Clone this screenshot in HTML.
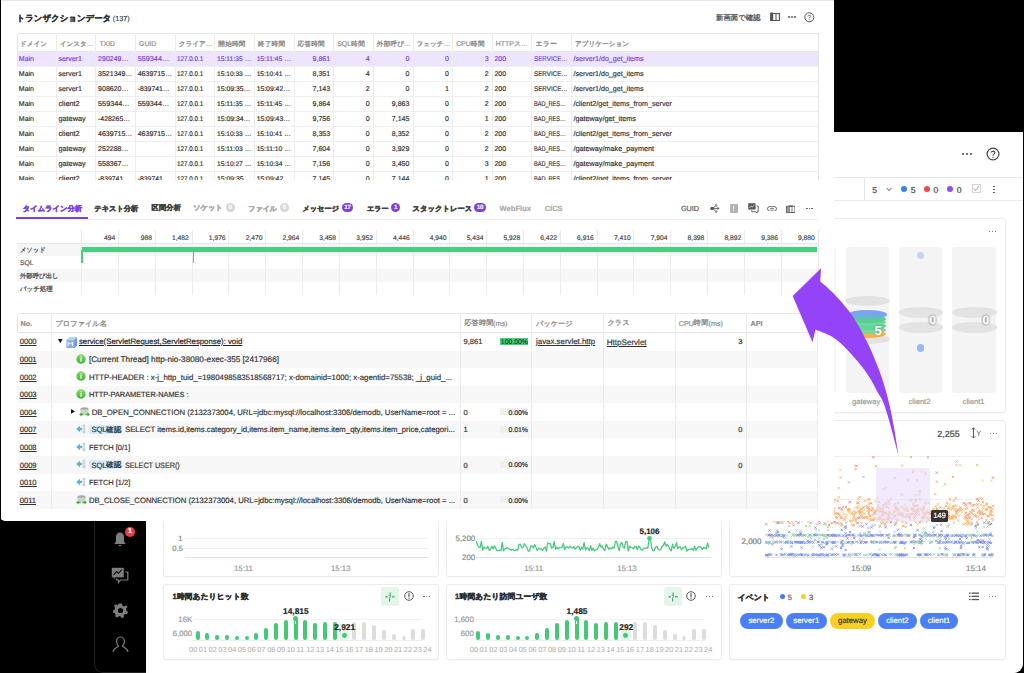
<!DOCTYPE html><html><head><meta charset="utf-8"><style>
*{box-sizing:border-box}
body{margin:0;width:1024px;height:673px;background:#000;position:relative;overflow:hidden;font-family:"Liberation Sans", sans-serif;color:#333;text-rendering:geometricPrecision}
.ab{position:absolute}
.t{position:absolute;white-space:nowrap;line-height:1;-webkit-text-stroke:0.18px currentColor}
.u{text-decoration:underline;text-decoration-thickness:0.7px;text-underline-offset:1px}
</style></head><body>

<div class="ab" style="left:94px;top:132px;width:53px;height:541px;background:#000;border-left:1px solid #232323;border-bottom:1px solid #232323;border-bottom-left-radius:9px"></div>
<div class="ab" style="left:146px;top:132px;width:877px;height:540.5px;background:#fff;border-bottom-right-radius:9px;overflow:hidden"></div>
<div class="ab" style="left:146.00px;top:176.80px;width:877.00px;height:1.00px;background:#e8e8e8;"></div>
<div class="ab" style="left:146.00px;top:200.00px;width:877.00px;height:1.00px;background:#eaeaea;"></div>
<div class="ab" style="left:864.20px;top:177.00px;width:1.00px;height:23.00px;background:#e6e6e6;"></div>
<div class="ab" style="left:962.30px;top:153.20px;width:2.00px;height:2.00px;background:#444;border-radius:1px"></div>
<div class="ab" style="left:965.90px;top:153.20px;width:2.00px;height:2.00px;background:#444;border-radius:1px"></div>
<div class="ab" style="left:969.50px;top:153.20px;width:2.00px;height:2.00px;background:#444;border-radius:1px"></div>
<svg class="ab" style="left:986.00px;top:147.00px;" width="14" height="14" viewBox="0 0 14 14"><circle cx="7" cy="7" r="5.9" fill="none" stroke="#444" stroke-width="1.2"/><path d="M5 5.6 C5 3.9 9 3.9 9 5.6 C9 6.9 7 7 7 8.6" fill="none" stroke="#444" stroke-width="1.1"/><circle cx="7" cy="10.2" r="0.7" fill="#444"/></svg>
<div class="t" style="left:872.30px;top:186.00px;font-size:8.6px;color:#444;">5</div>
<svg class="ab" style="left:885.50px;top:186.50px;" width="6" height="5" viewBox="0 0 6 5"><path d="M0.6 1 L3 3.6 L5.4 1" fill="none" stroke="#555" stroke-width="1"/></svg>
<div class="ab" style="left:901.2px;top:186.2px;width:6px;height:6px;border-radius:3px;background:#3e7cf6"></div>
<div class="t" style="left:910.80px;top:186.00px;font-size:8.6px;color:#444;">5</div>
<div class="ab" style="left:923.9px;top:186.2px;width:6px;height:6px;border-radius:3px;background:#f24a4a"></div>
<div class="t" style="left:933.60px;top:186.00px;font-size:8.6px;color:#444;">0</div>
<div class="ab" style="left:947px;top:186.2px;width:6px;height:6px;border-radius:3px;background:#8a4ff6"></div>
<div class="t" style="left:956.70px;top:186.00px;font-size:8.6px;color:#444;">0</div>
<svg class="ab" style="left:971.50px;top:184.00px;" width="9" height="9" viewBox="0 0 9 9"><path d="M0.5 0.5 H8.5 V8.5 H0.5 Z" fill="none" stroke="#aaa" stroke-width="0.8" stroke-dasharray="1.2 0.8"/><path d="M2 4.5 L3.5 6.5 L7 2" fill="none" stroke="#888" stroke-width="0.8"/></svg>
<div class="ab" style="left:993.20px;top:185.60px;width:1.70px;height:1.70px;background:#444;border-radius:1px"></div>
<div class="ab" style="left:993.20px;top:188.60px;width:1.70px;height:1.70px;background:#444;border-radius:1px"></div>
<div class="ab" style="left:993.20px;top:191.60px;width:1.70px;height:1.70px;background:#444;border-radius:1px"></div>
<div class="ab" style="left:729px;top:218.3px;width:276.5px;height:195px;border:1px solid #ebebeb;border-radius:3px;background:#fff;box-shadow:0 1px 1px rgba(0,0,0,0.03)"></div>
<div class="ab" style="left:729px;top:420px;width:276.5px;height:157.3px;border:1px solid #ebebeb;border-radius:3px;background:#fff;box-shadow:0 1px 1px rgba(0,0,0,0.03)"></div>
<div class="ab" style="left:729px;top:583.8px;width:276.5px;height:76.2px;border:1px solid #ebebeb;border-radius:3px;background:#fff;box-shadow:0 1px 1px rgba(0,0,0,0.03)"></div>
<div class="ab" style="left:163.2px;top:440px;width:276px;height:137.3px;border:1px solid #ebebeb;border-radius:3px;background:#fff;box-shadow:0 1px 1px rgba(0,0,0,0.03)"></div>
<div class="ab" style="left:445.8px;top:440px;width:276.5px;height:137.3px;border:1px solid #ebebeb;border-radius:3px;background:#fff;box-shadow:0 1px 1px rgba(0,0,0,0.03)"></div>
<div class="ab" style="left:163.2px;top:583.8px;width:276px;height:76.2px;border:1px solid #ebebeb;border-radius:3px;background:#fff;box-shadow:0 1px 1px rgba(0,0,0,0.03)"></div>
<div class="ab" style="left:445.8px;top:583.8px;width:276.5px;height:76.2px;border:1px solid #ebebeb;border-radius:3px;background:#fff;box-shadow:0 1px 1px rgba(0,0,0,0.03)"></div>
<div class="ab" style="left:989.20px;top:230.50px;width:1.30px;height:1.30px;background:#555;border-radius:1px"></div>
<div class="ab" style="left:992.00px;top:230.50px;width:1.30px;height:1.30px;background:#555;border-radius:1px"></div>
<div class="ab" style="left:994.80px;top:230.50px;width:1.30px;height:1.30px;background:#555;border-radius:1px"></div>
<div class="ab" style="left:739.20px;top:247.10px;width:43.20px;height:146.30px;background:#f4f4f4;border-radius:4px"></div>
<div class="ab" style="left:792.50px;top:247.10px;width:43.20px;height:146.30px;background:#f4f4f4;border-radius:4px"></div>
<div class="ab" style="left:845.80px;top:247.10px;width:43.20px;height:146.30px;background:#f4f4f4;border-radius:4px"></div>
<div class="ab" style="left:899.10px;top:247.10px;width:43.20px;height:146.30px;background:#f4f4f4;border-radius:4px"></div>
<div class="ab" style="left:952.40px;top:247.10px;width:43.20px;height:146.30px;background:#f4f4f4;border-radius:4px"></div>
<div class="ab" style="left:845.10px;top:295.60px;width:44.60px;height:10.00px;border-radius:50%;background:#e2e2e2;opacity:1"></div>
<div class="ab" style="left:845.10px;top:333.80px;width:44.60px;height:10.00px;border-radius:50%;background:#e2e2e2;opacity:1"></div>
<div class="ab" style="left:848.90px;top:329.80px;width:37.00px;height:8.40px;border-radius:50%;background:#f5b24c;opacity:1"></div>
<div class="ab" style="left:848.90px;top:326.00px;width:37.00px;height:8.00px;border-radius:50%;background:#7fd59a;opacity:1"></div>
<div class="ab" style="left:848.90px;top:322.00px;width:37.00px;height:8.00px;border-radius:50%;background:#62d494;opacity:1"></div>
<div class="ab" style="left:848.90px;top:318.00px;width:37.00px;height:8.00px;border-radius:50%;background:#6cd9a0;opacity:1"></div>
<div class="ab" style="left:848.90px;top:314.50px;width:37.00px;height:8.00px;border-radius:50%;background:#58d08c;opacity:1"></div>
<div class="ab" style="left:847.90px;top:310.00px;width:39.00px;height:8.60px;border-radius:50%;background:#7aa3f6;opacity:1"></div>
<div class="ab" style="left:852.40px;top:314.10px;width:30.00px;height:4.80px;border-radius:50%;background:#5fc2b6;opacity:0.6"></div>
<div class="t" style="left:874.60px;top:324.00px;font-size:13px;color:#fff;font-weight:bold;text-shadow:0 0 1.5px rgba(0,0,0,0.5);">5</div>
<div class="ab" style="left:898.70px;top:307.40px;width:44.60px;height:10.40px;border-radius:50%;background:#e3e3e3;opacity:1"></div>
<div class="ab" style="left:898.70px;top:322.40px;width:44.60px;height:10.40px;border-radius:50%;background:#e3e3e3;opacity:1"></div>
<div class="t" style="left:929.20px;top:314.00px;font-size:12px;color:#fff;font-weight:bold;-webkit-text-stroke:0.4px #fff;text-shadow:0 0 1.5px rgba(0,0,0,0.75),0 0 3px rgba(0,0,0,0.35);">0</div>
<div class="ab" style="left:952.00px;top:307.40px;width:44.60px;height:10.40px;border-radius:50%;background:#e3e3e3;opacity:1"></div>
<div class="ab" style="left:952.00px;top:322.40px;width:44.60px;height:10.40px;border-radius:50%;background:#e3e3e3;opacity:1"></div>
<div class="t" style="left:982.50px;top:314.00px;font-size:12px;color:#fff;font-weight:bold;-webkit-text-stroke:0.4px #fff;text-shadow:0 0 1.5px rgba(0,0,0,0.75),0 0 3px rgba(0,0,0,0.35);">0</div>
<div class="ab" style="left:917.30px;top:252.00px;width:6.80px;height:6.80px;border-radius:50%;background:#c4d4f8;opacity:1"></div>
<div class="ab" style="left:917.10px;top:344.40px;width:7.20px;height:7.20px;border-radius:50%;background:#9bb7f5;opacity:1"></div>
<div class="t" style="left:852.00px;top:398.00px;font-size:7.6px;color:#999;">gateway</div>
<div class="t" style="left:908.50px;top:398.00px;font-size:7.6px;color:#999;">client2</div>
<div class="t" style="left:962.60px;top:398.00px;font-size:7.6px;color:#999;">client1</div>
<div class="t" style="left:937.30px;top:430.00px;font-size:9px;color:#444;">2,255</div>
<svg class="ab" style="left:970.50px;top:427.00px;" width="11" height="12" viewBox="0 0 11 12"><path d="M2.5 0.8 V11 M0.8 2.5 L2.5 0.8 L4.2 2.5 M0.8 9.3 L2.5 11 L4.2 9.3" fill="none" stroke="#555" stroke-width="1"/><text x="5.2" y="9" font-size="7.5" fill="#555" font-family="Liberation Sans">Y</text></svg>
<div class="ab" style="left:990.20px;top:432.60px;width:1.30px;height:1.30px;background:#555;border-radius:1px"></div>
<div class="ab" style="left:993.00px;top:432.60px;width:1.30px;height:1.30px;background:#555;border-radius:1px"></div>
<div class="ab" style="left:995.80px;top:432.60px;width:1.30px;height:1.30px;background:#555;border-radius:1px"></div>
<div class="ab" style="left:766.00px;top:456.20px;width:227.00px;height:0.80px;background:#f0f0f0;"></div>
<div class="ab" style="left:766.00px;top:498.90px;width:227.00px;height:0.80px;background:#f0f0f0;"></div>
<div class="ab" style="left:766.00px;top:557.20px;width:227.00px;height:1.00px;background:#e4e4e4;"></div>
<svg class="ab" style="left:0;top:0" width="1024" height="673" viewBox="0 0 1024 673"><g stroke-width="0.85" opacity="0.8" fill="none"><path stroke="#f26b5b" d="M867.5 498.1l2.3 2.3m0 -2.3l-2.3 2.3M830.5 521.9l2.3 2.3m0 -2.3l-2.3 2.3M768.3 514.6l2.3 2.3m0 -2.3l-2.3 2.3M767.3 515.2l2.3 2.3m0 -2.3l-2.3 2.3M945.8 515.5l2.3 2.3m0 -2.3l-2.3 2.3M939.5 506.3l2.3 2.3m0 -2.3l-2.3 2.3M809.5 521.8l2.3 2.3m0 -2.3l-2.3 2.3M793.5 510.0l2.3 2.3m0 -2.3l-2.3 2.3M847.1 508.5l2.3 2.3m0 -2.3l-2.3 2.3M962.6 501.9l2.3 2.3m0 -2.3l-2.3 2.3M964.7 516.8l2.3 2.3m0 -2.3l-2.3 2.3M790.5 510.2l2.3 2.3m0 -2.3l-2.3 2.3M836.4 521.6l2.3 2.3m0 -2.3l-2.3 2.3M912.2 503.3l2.3 2.3m0 -2.3l-2.3 2.3M767.3 507.4l2.3 2.3m0 -2.3l-2.3 2.3M858.0 516.9l2.3 2.3m0 -2.3l-2.3 2.3M974.7 515.3l2.3 2.3m0 -2.3l-2.3 2.3M879.4 517.6l2.3 2.3m0 -2.3l-2.3 2.3M939.2 513.2l2.3 2.3m0 -2.3l-2.3 2.3M973.6 514.4l2.3 2.3m0 -2.3l-2.3 2.3M885.9 506.2l2.3 2.3m0 -2.3l-2.3 2.3M969.3 502.1l2.3 2.3m0 -2.3l-2.3 2.3M979.5 510.7l2.3 2.3m0 -2.3l-2.3 2.3M896.3 507.8l2.3 2.3m0 -2.3l-2.3 2.3M882.0 510.9l2.3 2.3m0 -2.3l-2.3 2.3M976.1 497.7l2.3 2.3m0 -2.3l-2.3 2.3M826.0 515.6l2.3 2.3m0 -2.3l-2.3 2.3M876.8 504.4l2.3 2.3m0 -2.3l-2.3 2.3M906.4 509.8l2.3 2.3m0 -2.3l-2.3 2.3M966.6 513.7l2.3 2.3m0 -2.3l-2.3 2.3M786.9 513.9l2.3 2.3m0 -2.3l-2.3 2.3M908.8 516.1l2.3 2.3m0 -2.3l-2.3 2.3M933.8 513.9l2.3 2.3m0 -2.3l-2.3 2.3M885.9 518.3l2.3 2.3m0 -2.3l-2.3 2.3M862.4 506.2l2.3 2.3m0 -2.3l-2.3 2.3M793.1 502.8l2.3 2.3m0 -2.3l-2.3 2.3M795.1 519.8l2.3 2.3m0 -2.3l-2.3 2.3M782.7 519.1l2.3 2.3m0 -2.3l-2.3 2.3M949.9 516.0l2.3 2.3m0 -2.3l-2.3 2.3M838.0 507.0l2.3 2.3m0 -2.3l-2.3 2.3M894.1 523.5l2.3 2.3m0 -2.3l-2.3 2.3M912.7 509.5l2.3 2.3m0 -2.3l-2.3 2.3M917.5 513.4l2.3 2.3m0 -2.3l-2.3 2.3M972.5 509.5l2.3 2.3m0 -2.3l-2.3 2.3M880.3 522.1l2.3 2.3m0 -2.3l-2.3 2.3M946.8 513.9l2.3 2.3m0 -2.3l-2.3 2.3M967.4 521.8l2.3 2.3m0 -2.3l-2.3 2.3M844.7 505.9l2.3 2.3m0 -2.3l-2.3 2.3M859.5 514.3l2.3 2.3m0 -2.3l-2.3 2.3M836.6 512.4l2.3 2.3m0 -2.3l-2.3 2.3M920.8 517.0l2.3 2.3m0 -2.3l-2.3 2.3M789.7 509.9l2.3 2.3m0 -2.3l-2.3 2.3M951.2 507.5l2.3 2.3m0 -2.3l-2.3 2.3M914.5 512.4l2.3 2.3m0 -2.3l-2.3 2.3M856.4 501.7l2.3 2.3m0 -2.3l-2.3 2.3M936.9 511.9l2.3 2.3m0 -2.3l-2.3 2.3M820.3 514.6l2.3 2.3m0 -2.3l-2.3 2.3M985.6 507.8l2.3 2.3m0 -2.3l-2.3 2.3M779.1 521.3l2.3 2.3m0 -2.3l-2.3 2.3M834.7 512.3l2.3 2.3m0 -2.3l-2.3 2.3M964.4 503.6l2.3 2.3m0 -2.3l-2.3 2.3M766.4 504.9l2.3 2.3m0 -2.3l-2.3 2.3M899.7 512.3l2.3 2.3m0 -2.3l-2.3 2.3M818.3 508.7l2.3 2.3m0 -2.3l-2.3 2.3M818.4 522.2l2.3 2.3m0 -2.3l-2.3 2.3M768.9 504.9l2.3 2.3m0 -2.3l-2.3 2.3M932.5 514.0l2.3 2.3m0 -2.3l-2.3 2.3M797.0 507.6l2.3 2.3m0 -2.3l-2.3 2.3M869.9 502.1l2.3 2.3m0 -2.3l-2.3 2.3M947.4 515.2l2.3 2.3m0 -2.3l-2.3 2.3M872.1 519.0l2.3 2.3m0 -2.3l-2.3 2.3M887.5 500.2l2.3 2.3m0 -2.3l-2.3 2.3M955.3 511.1l2.3 2.3m0 -2.3l-2.3 2.3M818.1 510.0l2.3 2.3m0 -2.3l-2.3 2.3M792.0 509.8l2.3 2.3m0 -2.3l-2.3 2.3M778.5 507.5l2.3 2.3m0 -2.3l-2.3 2.3M819.3 516.8l2.3 2.3m0 -2.3l-2.3 2.3M947.4 515.1l2.3 2.3m0 -2.3l-2.3 2.3M972.5 504.0l2.3 2.3m0 -2.3l-2.3 2.3M777.2 504.1l2.3 2.3m0 -2.3l-2.3 2.3M859.2 509.8l2.3 2.3m0 -2.3l-2.3 2.3M851.5 523.9l2.3 2.3m0 -2.3l-2.3 2.3M877.2 517.7l2.3 2.3m0 -2.3l-2.3 2.3M818.1 520.0l2.3 2.3m0 -2.3l-2.3 2.3M940.1 523.6l2.3 2.3m0 -2.3l-2.3 2.3M774.0 507.0l2.3 2.3m0 -2.3l-2.3 2.3M856.7 522.0l2.3 2.3m0 -2.3l-2.3 2.3M905.1 513.6l2.3 2.3m0 -2.3l-2.3 2.3M826.2 507.1l2.3 2.3m0 -2.3l-2.3 2.3M806.3 502.2l2.3 2.3m0 -2.3l-2.3 2.3M796.6 516.7l2.3 2.3m0 -2.3l-2.3 2.3M827.8 523.9l2.3 2.3m0 -2.3l-2.3 2.3M977.4 499.5l2.3 2.3m0 -2.3l-2.3 2.3M770.2 507.7l2.3 2.3m0 -2.3l-2.3 2.3M862.5 516.3l2.3 2.3m0 -2.3l-2.3 2.3M777.4 507.4l2.3 2.3m0 -2.3l-2.3 2.3M921.4 509.0l2.3 2.3m0 -2.3l-2.3 2.3M887.7 517.3l2.3 2.3m0 -2.3l-2.3 2.3M819.0 517.3l2.3 2.3m0 -2.3l-2.3 2.3M981.7 512.9l2.3 2.3m0 -2.3l-2.3 2.3M806.1 517.1l2.3 2.3m0 -2.3l-2.3 2.3M771.9 508.8l2.3 2.3m0 -2.3l-2.3 2.3M792.9 518.3l2.3 2.3m0 -2.3l-2.3 2.3M918.5 521.1l2.3 2.3m0 -2.3l-2.3 2.3M816.1 507.6l2.3 2.3m0 -2.3l-2.3 2.3M901.3 512.5l2.3 2.3m0 -2.3l-2.3 2.3M794.9 515.8l2.3 2.3m0 -2.3l-2.3 2.3M914.1 504.8l2.3 2.3m0 -2.3l-2.3 2.3M902.3 524.7l2.3 2.3m0 -2.3l-2.3 2.3M976.4 503.3l2.3 2.3m0 -2.3l-2.3 2.3M831.6 512.7l2.3 2.3m0 -2.3l-2.3 2.3M884.0 511.8l2.3 2.3m0 -2.3l-2.3 2.3M831.6 507.0l2.3 2.3m0 -2.3l-2.3 2.3M910.8 513.0l2.3 2.3m0 -2.3l-2.3 2.3M824.1 459.8l2.3 2.3m0 -2.3l-2.3 2.3M826.2 489.9l2.3 2.3m0 -2.3l-2.3 2.3M991.8 476.4l2.3 2.3m0 -2.3l-2.3 2.3M935.5 471.5l2.3 2.3m0 -2.3l-2.3 2.3M918.6 490.1l2.3 2.3m0 -2.3l-2.3 2.3M872.1 456.2l2.3 2.3m0 -2.3l-2.3 2.3"/><path stroke="#f7b24f" d="M867.4 506.4l2.3 2.3m0 -2.3l-2.3 2.3M808.0 514.3l2.3 2.3m0 -2.3l-2.3 2.3M908.9 518.1l2.3 2.3m0 -2.3l-2.3 2.3M987.8 521.1l2.3 2.3m0 -2.3l-2.3 2.3M912.4 509.8l2.3 2.3m0 -2.3l-2.3 2.3M964.5 511.4l2.3 2.3m0 -2.3l-2.3 2.3M828.0 511.9l2.3 2.3m0 -2.3l-2.3 2.3M936.9 503.2l2.3 2.3m0 -2.3l-2.3 2.3M765.0 523.5l2.3 2.3m0 -2.3l-2.3 2.3M989.4 513.0l2.3 2.3m0 -2.3l-2.3 2.3M820.0 513.9l2.3 2.3m0 -2.3l-2.3 2.3M848.5 509.4l2.3 2.3m0 -2.3l-2.3 2.3M874.7 509.5l2.3 2.3m0 -2.3l-2.3 2.3M971.1 517.8l2.3 2.3m0 -2.3l-2.3 2.3M821.5 515.8l2.3 2.3m0 -2.3l-2.3 2.3M789.6 507.7l2.3 2.3m0 -2.3l-2.3 2.3M860.4 522.0l2.3 2.3m0 -2.3l-2.3 2.3M987.4 506.3l2.3 2.3m0 -2.3l-2.3 2.3M979.8 503.5l2.3 2.3m0 -2.3l-2.3 2.3M894.9 517.6l2.3 2.3m0 -2.3l-2.3 2.3M922.4 504.9l2.3 2.3m0 -2.3l-2.3 2.3M783.9 513.8l2.3 2.3m0 -2.3l-2.3 2.3M887.4 512.9l2.3 2.3m0 -2.3l-2.3 2.3M798.6 498.5l2.3 2.3m0 -2.3l-2.3 2.3M953.5 508.2l2.3 2.3m0 -2.3l-2.3 2.3M956.4 510.4l2.3 2.3m0 -2.3l-2.3 2.3M823.1 504.2l2.3 2.3m0 -2.3l-2.3 2.3M820.3 504.2l2.3 2.3m0 -2.3l-2.3 2.3M792.7 511.9l2.3 2.3m0 -2.3l-2.3 2.3M960.9 511.1l2.3 2.3m0 -2.3l-2.3 2.3M909.8 499.4l2.3 2.3m0 -2.3l-2.3 2.3M791.0 509.2l2.3 2.3m0 -2.3l-2.3 2.3M773.3 504.4l2.3 2.3m0 -2.3l-2.3 2.3M978.1 518.2l2.3 2.3m0 -2.3l-2.3 2.3M937.8 511.9l2.3 2.3m0 -2.3l-2.3 2.3M865.6 504.8l2.3 2.3m0 -2.3l-2.3 2.3M970.4 504.5l2.3 2.3m0 -2.3l-2.3 2.3M909.7 512.8l2.3 2.3m0 -2.3l-2.3 2.3M959.1 509.4l2.3 2.3m0 -2.3l-2.3 2.3M903.6 515.6l2.3 2.3m0 -2.3l-2.3 2.3M847.8 509.7l2.3 2.3m0 -2.3l-2.3 2.3M897.0 502.0l2.3 2.3m0 -2.3l-2.3 2.3M788.1 513.4l2.3 2.3m0 -2.3l-2.3 2.3M948.5 503.3l2.3 2.3m0 -2.3l-2.3 2.3M952.4 515.7l2.3 2.3m0 -2.3l-2.3 2.3M971.6 509.3l2.3 2.3m0 -2.3l-2.3 2.3M952.9 521.5l2.3 2.3m0 -2.3l-2.3 2.3M954.7 516.6l2.3 2.3m0 -2.3l-2.3 2.3M875.9 507.9l2.3 2.3m0 -2.3l-2.3 2.3M875.6 512.7l2.3 2.3m0 -2.3l-2.3 2.3M966.6 520.8l2.3 2.3m0 -2.3l-2.3 2.3M853.2 514.6l2.3 2.3m0 -2.3l-2.3 2.3M814.2 512.8l2.3 2.3m0 -2.3l-2.3 2.3M907.1 515.8l2.3 2.3m0 -2.3l-2.3 2.3M797.7 507.1l2.3 2.3m0 -2.3l-2.3 2.3M794.6 511.4l2.3 2.3m0 -2.3l-2.3 2.3M812.2 510.4l2.3 2.3m0 -2.3l-2.3 2.3M811.8 512.1l2.3 2.3m0 -2.3l-2.3 2.3M866.3 509.6l2.3 2.3m0 -2.3l-2.3 2.3M954.8 515.7l2.3 2.3m0 -2.3l-2.3 2.3M914.7 494.3l2.3 2.3m0 -2.3l-2.3 2.3M952.2 517.5l2.3 2.3m0 -2.3l-2.3 2.3M988.8 511.1l2.3 2.3m0 -2.3l-2.3 2.3M991.5 507.8l2.3 2.3m0 -2.3l-2.3 2.3M867.5 511.2l2.3 2.3m0 -2.3l-2.3 2.3M888.2 507.1l2.3 2.3m0 -2.3l-2.3 2.3M800.8 510.4l2.3 2.3m0 -2.3l-2.3 2.3M852.6 512.7l2.3 2.3m0 -2.3l-2.3 2.3M901.1 505.3l2.3 2.3m0 -2.3l-2.3 2.3M972.1 513.1l2.3 2.3m0 -2.3l-2.3 2.3M857.7 504.2l2.3 2.3m0 -2.3l-2.3 2.3M839.8 515.2l2.3 2.3m0 -2.3l-2.3 2.3M832.1 508.6l2.3 2.3m0 -2.3l-2.3 2.3M848.6 511.8l2.3 2.3m0 -2.3l-2.3 2.3M965.1 518.5l2.3 2.3m0 -2.3l-2.3 2.3M831.9 510.1l2.3 2.3m0 -2.3l-2.3 2.3M965.6 523.5l2.3 2.3m0 -2.3l-2.3 2.3M916.4 509.3l2.3 2.3m0 -2.3l-2.3 2.3M828.2 511.5l2.3 2.3m0 -2.3l-2.3 2.3M906.0 508.3l2.3 2.3m0 -2.3l-2.3 2.3M882.1 518.6l2.3 2.3m0 -2.3l-2.3 2.3M772.9 504.8l2.3 2.3m0 -2.3l-2.3 2.3M838.6 514.1l2.3 2.3m0 -2.3l-2.3 2.3M781.3 518.9l2.3 2.3m0 -2.3l-2.3 2.3M922.8 516.3l2.3 2.3m0 -2.3l-2.3 2.3M784.9 501.0l2.3 2.3m0 -2.3l-2.3 2.3M914.4 515.7l2.3 2.3m0 -2.3l-2.3 2.3M985.2 519.1l2.3 2.3m0 -2.3l-2.3 2.3M819.5 509.3l2.3 2.3m0 -2.3l-2.3 2.3M919.2 508.2l2.3 2.3m0 -2.3l-2.3 2.3M990.7 511.2l2.3 2.3m0 -2.3l-2.3 2.3M813.7 509.5l2.3 2.3m0 -2.3l-2.3 2.3M905.8 506.1l2.3 2.3m0 -2.3l-2.3 2.3M783.7 516.1l2.3 2.3m0 -2.3l-2.3 2.3M772.1 509.2l2.3 2.3m0 -2.3l-2.3 2.3M922.4 518.2l2.3 2.3m0 -2.3l-2.3 2.3M978.8 513.1l2.3 2.3m0 -2.3l-2.3 2.3M888.1 502.8l2.3 2.3m0 -2.3l-2.3 2.3M765.6 511.9l2.3 2.3m0 -2.3l-2.3 2.3M876.9 507.0l2.3 2.3m0 -2.3l-2.3 2.3M965.9 507.2l2.3 2.3m0 -2.3l-2.3 2.3M893.7 502.9l2.3 2.3m0 -2.3l-2.3 2.3M954.1 508.4l2.3 2.3m0 -2.3l-2.3 2.3M783.2 514.3l2.3 2.3m0 -2.3l-2.3 2.3M874.8 500.3l2.3 2.3m0 -2.3l-2.3 2.3M775.5 521.6l2.3 2.3m0 -2.3l-2.3 2.3M966.1 517.6l2.3 2.3m0 -2.3l-2.3 2.3M944.7 511.2l2.3 2.3m0 -2.3l-2.3 2.3M821.7 513.2l2.3 2.3m0 -2.3l-2.3 2.3M929.3 509.7l2.3 2.3m0 -2.3l-2.3 2.3M933.2 514.4l2.3 2.3m0 -2.3l-2.3 2.3M769.6 513.0l2.3 2.3m0 -2.3l-2.3 2.3M863.9 499.7l2.3 2.3m0 -2.3l-2.3 2.3M817.1 514.4l2.3 2.3m0 -2.3l-2.3 2.3M866.3 515.7l2.3 2.3m0 -2.3l-2.3 2.3M775.3 517.3l2.3 2.3m0 -2.3l-2.3 2.3M932.4 507.8l2.3 2.3m0 -2.3l-2.3 2.3M946.4 518.7l2.3 2.3m0 -2.3l-2.3 2.3M985.1 502.2l2.3 2.3m0 -2.3l-2.3 2.3M868.5 518.2l2.3 2.3m0 -2.3l-2.3 2.3M818.2 516.2l2.3 2.3m0 -2.3l-2.3 2.3M910.1 507.9l2.3 2.3m0 -2.3l-2.3 2.3M951.1 517.0l2.3 2.3m0 -2.3l-2.3 2.3M771.7 515.1l2.3 2.3m0 -2.3l-2.3 2.3M858.6 511.0l2.3 2.3m0 -2.3l-2.3 2.3M991.6 519.2l2.3 2.3m0 -2.3l-2.3 2.3M948.6 508.2l2.3 2.3m0 -2.3l-2.3 2.3M833.1 507.4l2.3 2.3m0 -2.3l-2.3 2.3M955.5 464.1l2.3 2.3m0 -2.3l-2.3 2.3M959.1 464.2l2.3 2.3m0 -2.3l-2.3 2.3"/><path stroke="#f9a43c" d="M944.9 504.9l2.3 2.3m0 -2.3l-2.3 2.3M852.6 524.0l2.3 2.3m0 -2.3l-2.3 2.3M813.3 508.6l2.3 2.3m0 -2.3l-2.3 2.3M871.5 518.3l2.3 2.3m0 -2.3l-2.3 2.3M936.9 515.5l2.3 2.3m0 -2.3l-2.3 2.3M833.9 498.6l2.3 2.3m0 -2.3l-2.3 2.3M895.8 519.7l2.3 2.3m0 -2.3l-2.3 2.3M965.1 506.4l2.3 2.3m0 -2.3l-2.3 2.3M876.3 497.0l2.3 2.3m0 -2.3l-2.3 2.3M828.9 494.7l2.3 2.3m0 -2.3l-2.3 2.3M772.8 520.1l2.3 2.3m0 -2.3l-2.3 2.3M991.7 514.2l2.3 2.3m0 -2.3l-2.3 2.3M872.3 508.8l2.3 2.3m0 -2.3l-2.3 2.3M915.2 511.1l2.3 2.3m0 -2.3l-2.3 2.3M982.2 507.4l2.3 2.3m0 -2.3l-2.3 2.3M877.5 509.7l2.3 2.3m0 -2.3l-2.3 2.3M837.6 496.2l2.3 2.3m0 -2.3l-2.3 2.3M868.1 508.2l2.3 2.3m0 -2.3l-2.3 2.3M939.5 510.7l2.3 2.3m0 -2.3l-2.3 2.3M988.2 523.1l2.3 2.3m0 -2.3l-2.3 2.3M970.6 511.8l2.3 2.3m0 -2.3l-2.3 2.3M858.2 510.6l2.3 2.3m0 -2.3l-2.3 2.3M879.1 510.6l2.3 2.3m0 -2.3l-2.3 2.3M888.3 515.2l2.3 2.3m0 -2.3l-2.3 2.3M921.7 511.6l2.3 2.3m0 -2.3l-2.3 2.3M884.0 523.7l2.3 2.3m0 -2.3l-2.3 2.3M924.2 501.9l2.3 2.3m0 -2.3l-2.3 2.3M920.4 507.7l2.3 2.3m0 -2.3l-2.3 2.3M947.1 516.6l2.3 2.3m0 -2.3l-2.3 2.3M975.3 523.8l2.3 2.3m0 -2.3l-2.3 2.3M896.5 518.4l2.3 2.3m0 -2.3l-2.3 2.3M901.3 514.6l2.3 2.3m0 -2.3l-2.3 2.3M848.9 519.7l2.3 2.3m0 -2.3l-2.3 2.3M881.2 507.7l2.3 2.3m0 -2.3l-2.3 2.3M828.3 511.4l2.3 2.3m0 -2.3l-2.3 2.3M806.8 513.5l2.3 2.3m0 -2.3l-2.3 2.3M881.7 507.3l2.3 2.3m0 -2.3l-2.3 2.3M776.3 514.0l2.3 2.3m0 -2.3l-2.3 2.3M893.8 509.5l2.3 2.3m0 -2.3l-2.3 2.3M916.6 509.4l2.3 2.3m0 -2.3l-2.3 2.3M934.7 505.4l2.3 2.3m0 -2.3l-2.3 2.3M821.8 511.9l2.3 2.3m0 -2.3l-2.3 2.3M901.9 524.8l2.3 2.3m0 -2.3l-2.3 2.3M776.3 509.0l2.3 2.3m0 -2.3l-2.3 2.3M981.1 511.4l2.3 2.3m0 -2.3l-2.3 2.3M773.8 508.3l2.3 2.3m0 -2.3l-2.3 2.3M767.0 511.8l2.3 2.3m0 -2.3l-2.3 2.3M814.5 508.7l2.3 2.3m0 -2.3l-2.3 2.3M881.9 503.8l2.3 2.3m0 -2.3l-2.3 2.3M779.4 500.9l2.3 2.3m0 -2.3l-2.3 2.3M913.2 510.2l2.3 2.3m0 -2.3l-2.3 2.3M936.7 517.9l2.3 2.3m0 -2.3l-2.3 2.3M947.8 511.3l2.3 2.3m0 -2.3l-2.3 2.3M847.0 509.4l2.3 2.3m0 -2.3l-2.3 2.3M911.9 512.5l2.3 2.3m0 -2.3l-2.3 2.3M935.8 507.8l2.3 2.3m0 -2.3l-2.3 2.3M897.4 513.3l2.3 2.3m0 -2.3l-2.3 2.3M914.7 521.2l2.3 2.3m0 -2.3l-2.3 2.3M986.4 515.0l2.3 2.3m0 -2.3l-2.3 2.3M951.5 515.8l2.3 2.3m0 -2.3l-2.3 2.3M922.3 506.6l2.3 2.3m0 -2.3l-2.3 2.3M780.1 518.7l2.3 2.3m0 -2.3l-2.3 2.3M934.3 515.9l2.3 2.3m0 -2.3l-2.3 2.3M907.9 513.7l2.3 2.3m0 -2.3l-2.3 2.3M924.6 513.2l2.3 2.3m0 -2.3l-2.3 2.3M863.3 512.8l2.3 2.3m0 -2.3l-2.3 2.3M912.6 516.0l2.3 2.3m0 -2.3l-2.3 2.3M870.0 519.0l2.3 2.3m0 -2.3l-2.3 2.3M900.5 506.4l2.3 2.3m0 -2.3l-2.3 2.3M947.3 506.9l2.3 2.3m0 -2.3l-2.3 2.3M863.0 516.6l2.3 2.3m0 -2.3l-2.3 2.3M965.2 503.1l2.3 2.3m0 -2.3l-2.3 2.3M860.5 507.5l2.3 2.3m0 -2.3l-2.3 2.3M969.9 521.2l2.3 2.3m0 -2.3l-2.3 2.3M969.0 523.5l2.3 2.3m0 -2.3l-2.3 2.3M818.5 497.2l2.3 2.3m0 -2.3l-2.3 2.3M781.6 512.5l2.3 2.3m0 -2.3l-2.3 2.3M947.2 507.7l2.3 2.3m0 -2.3l-2.3 2.3M771.4 512.8l2.3 2.3m0 -2.3l-2.3 2.3M971.3 508.6l2.3 2.3m0 -2.3l-2.3 2.3M929.0 512.0l2.3 2.3m0 -2.3l-2.3 2.3M818.9 515.3l2.3 2.3m0 -2.3l-2.3 2.3M933.9 493.1l2.3 2.3m0 -2.3l-2.3 2.3M977.2 515.3l2.3 2.3m0 -2.3l-2.3 2.3M791.8 516.0l2.3 2.3m0 -2.3l-2.3 2.3M850.8 519.6l2.3 2.3m0 -2.3l-2.3 2.3M796.7 517.6l2.3 2.3m0 -2.3l-2.3 2.3M781.3 521.7l2.3 2.3m0 -2.3l-2.3 2.3M984.8 508.8l2.3 2.3m0 -2.3l-2.3 2.3M925.2 521.1l2.3 2.3m0 -2.3l-2.3 2.3M989.4 506.6l2.3 2.3m0 -2.3l-2.3 2.3M989.3 507.0l2.3 2.3m0 -2.3l-2.3 2.3M930.8 511.6l2.3 2.3m0 -2.3l-2.3 2.3M803.7 504.9l2.3 2.3m0 -2.3l-2.3 2.3M976.8 511.8l2.3 2.3m0 -2.3l-2.3 2.3M799.3 519.4l2.3 2.3m0 -2.3l-2.3 2.3M776.5 519.7l2.3 2.3m0 -2.3l-2.3 2.3M766.5 512.5l2.3 2.3m0 -2.3l-2.3 2.3M791.8 499.6l2.3 2.3m0 -2.3l-2.3 2.3M826.4 520.0l2.3 2.3m0 -2.3l-2.3 2.3M881.6 513.1l2.3 2.3m0 -2.3l-2.3 2.3M952.7 505.3l2.3 2.3m0 -2.3l-2.3 2.3M828.2 516.6l2.3 2.3m0 -2.3l-2.3 2.3M806.2 514.1l2.3 2.3m0 -2.3l-2.3 2.3M944.2 513.9l2.3 2.3m0 -2.3l-2.3 2.3M963.9 516.2l2.3 2.3m0 -2.3l-2.3 2.3M985.7 503.0l2.3 2.3m0 -2.3l-2.3 2.3M945.7 515.4l2.3 2.3m0 -2.3l-2.3 2.3M903.3 509.2l2.3 2.3m0 -2.3l-2.3 2.3M791.5 521.4l2.3 2.3m0 -2.3l-2.3 2.3M828.0 508.8l2.3 2.3m0 -2.3l-2.3 2.3M916.8 504.1l2.3 2.3m0 -2.3l-2.3 2.3M912.4 505.0l2.3 2.3m0 -2.3l-2.3 2.3M881.9 521.4l2.3 2.3m0 -2.3l-2.3 2.3M793.1 508.7l2.3 2.3m0 -2.3l-2.3 2.3M958.0 514.5l2.3 2.3m0 -2.3l-2.3 2.3M905.1 521.8l2.3 2.3m0 -2.3l-2.3 2.3M858.7 509.5l2.3 2.3m0 -2.3l-2.3 2.3M893.8 476.9l2.3 2.3m0 -2.3l-2.3 2.3M901.0 464.5l2.3 2.3m0 -2.3l-2.3 2.3M912.1 469.5l2.3 2.3m0 -2.3l-2.3 2.3M776.1 491.6l2.3 2.3m0 -2.3l-2.3 2.3M855.6 464.6l2.3 2.3m0 -2.3l-2.3 2.3M857.1 497.4l2.3 2.3m0 -2.3l-2.3 2.3M777.6 462.9l2.3 2.3m0 -2.3l-2.3 2.3M882.0 488.0l2.3 2.3m0 -2.3l-2.3 2.3M911.8 471.3l2.3 2.3m0 -2.3l-2.3 2.3M829.7 484.8l2.3 2.3m0 -2.3l-2.3 2.3M943.8 483.1l2.3 2.3m0 -2.3l-2.3 2.3M935.7 480.4l2.3 2.3m0 -2.3l-2.3 2.3M919.1 498.1l2.3 2.3m0 -2.3l-2.3 2.3M837.5 487.2l2.3 2.3m0 -2.3l-2.3 2.3M916.1 479.0l2.3 2.3m0 -2.3l-2.3 2.3"/><path stroke="#f99a3a" d="M866.2 516.9l2.3 2.3m0 -2.3l-2.3 2.3M882.7 513.4l2.3 2.3m0 -2.3l-2.3 2.3M831.6 514.6l2.3 2.3m0 -2.3l-2.3 2.3M880.4 519.3l2.3 2.3m0 -2.3l-2.3 2.3M812.7 501.8l2.3 2.3m0 -2.3l-2.3 2.3M852.5 515.8l2.3 2.3m0 -2.3l-2.3 2.3M769.7 513.5l2.3 2.3m0 -2.3l-2.3 2.3M867.7 510.5l2.3 2.3m0 -2.3l-2.3 2.3M944.9 517.1l2.3 2.3m0 -2.3l-2.3 2.3M783.1 512.6l2.3 2.3m0 -2.3l-2.3 2.3M853.0 518.6l2.3 2.3m0 -2.3l-2.3 2.3M827.3 513.4l2.3 2.3m0 -2.3l-2.3 2.3M882.9 518.4l2.3 2.3m0 -2.3l-2.3 2.3M982.4 504.9l2.3 2.3m0 -2.3l-2.3 2.3M809.8 514.1l2.3 2.3m0 -2.3l-2.3 2.3M878.4 515.7l2.3 2.3m0 -2.3l-2.3 2.3M867.8 507.8l2.3 2.3m0 -2.3l-2.3 2.3M966.3 520.1l2.3 2.3m0 -2.3l-2.3 2.3M870.1 509.3l2.3 2.3m0 -2.3l-2.3 2.3M961.5 508.3l2.3 2.3m0 -2.3l-2.3 2.3M886.7 513.3l2.3 2.3m0 -2.3l-2.3 2.3M770.1 502.0l2.3 2.3m0 -2.3l-2.3 2.3M888.2 510.6l2.3 2.3m0 -2.3l-2.3 2.3M867.9 513.0l2.3 2.3m0 -2.3l-2.3 2.3M838.3 522.6l2.3 2.3m0 -2.3l-2.3 2.3M857.0 501.4l2.3 2.3m0 -2.3l-2.3 2.3M979.3 510.7l2.3 2.3m0 -2.3l-2.3 2.3M975.8 521.1l2.3 2.3m0 -2.3l-2.3 2.3M897.8 512.9l2.3 2.3m0 -2.3l-2.3 2.3M977.6 509.9l2.3 2.3m0 -2.3l-2.3 2.3M901.3 515.2l2.3 2.3m0 -2.3l-2.3 2.3M903.3 507.5l2.3 2.3m0 -2.3l-2.3 2.3M878.8 509.4l2.3 2.3m0 -2.3l-2.3 2.3M889.8 497.5l2.3 2.3m0 -2.3l-2.3 2.3M842.9 512.5l2.3 2.3m0 -2.3l-2.3 2.3M955.1 512.7l2.3 2.3m0 -2.3l-2.3 2.3M830.9 495.8l2.3 2.3m0 -2.3l-2.3 2.3M783.4 508.4l2.3 2.3m0 -2.3l-2.3 2.3M868.9 514.9l2.3 2.3m0 -2.3l-2.3 2.3M932.2 514.1l2.3 2.3m0 -2.3l-2.3 2.3M945.7 501.8l2.3 2.3m0 -2.3l-2.3 2.3M782.1 509.3l2.3 2.3m0 -2.3l-2.3 2.3M913.3 518.2l2.3 2.3m0 -2.3l-2.3 2.3M892.9 510.9l2.3 2.3m0 -2.3l-2.3 2.3M799.4 501.2l2.3 2.3m0 -2.3l-2.3 2.3M810.2 510.9l2.3 2.3m0 -2.3l-2.3 2.3M786.3 513.9l2.3 2.3m0 -2.3l-2.3 2.3M906.3 515.7l2.3 2.3m0 -2.3l-2.3 2.3M979.3 497.2l2.3 2.3m0 -2.3l-2.3 2.3M895.7 508.4l2.3 2.3m0 -2.3l-2.3 2.3M779.3 515.3l2.3 2.3m0 -2.3l-2.3 2.3M868.0 502.5l2.3 2.3m0 -2.3l-2.3 2.3M796.2 518.3l2.3 2.3m0 -2.3l-2.3 2.3M957.2 519.3l2.3 2.3m0 -2.3l-2.3 2.3M955.1 504.4l2.3 2.3m0 -2.3l-2.3 2.3M964.6 522.4l2.3 2.3m0 -2.3l-2.3 2.3M860.5 513.4l2.3 2.3m0 -2.3l-2.3 2.3M796.9 504.5l2.3 2.3m0 -2.3l-2.3 2.3M810.9 500.8l2.3 2.3m0 -2.3l-2.3 2.3M803.9 512.1l2.3 2.3m0 -2.3l-2.3 2.3M962.2 523.1l2.3 2.3m0 -2.3l-2.3 2.3M792.2 510.0l2.3 2.3m0 -2.3l-2.3 2.3M818.3 507.1l2.3 2.3m0 -2.3l-2.3 2.3M827.7 509.9l2.3 2.3m0 -2.3l-2.3 2.3M779.4 508.6l2.3 2.3m0 -2.3l-2.3 2.3M952.6 499.5l2.3 2.3m0 -2.3l-2.3 2.3M889.2 511.5l2.3 2.3m0 -2.3l-2.3 2.3M896.4 507.2l2.3 2.3m0 -2.3l-2.3 2.3M803.8 511.7l2.3 2.3m0 -2.3l-2.3 2.3M923.4 514.4l2.3 2.3m0 -2.3l-2.3 2.3M856.3 507.0l2.3 2.3m0 -2.3l-2.3 2.3M806.2 511.3l2.3 2.3m0 -2.3l-2.3 2.3M925.2 511.2l2.3 2.3m0 -2.3l-2.3 2.3M934.4 510.9l2.3 2.3m0 -2.3l-2.3 2.3M832.5 512.0l2.3 2.3m0 -2.3l-2.3 2.3M844.5 516.1l2.3 2.3m0 -2.3l-2.3 2.3M897.1 509.4l2.3 2.3m0 -2.3l-2.3 2.3M771.9 515.8l2.3 2.3m0 -2.3l-2.3 2.3M951.8 505.2l2.3 2.3m0 -2.3l-2.3 2.3M836.0 517.0l2.3 2.3m0 -2.3l-2.3 2.3M848.1 508.1l2.3 2.3m0 -2.3l-2.3 2.3M946.7 516.3l2.3 2.3m0 -2.3l-2.3 2.3M831.1 516.3l2.3 2.3m0 -2.3l-2.3 2.3M860.0 507.4l2.3 2.3m0 -2.3l-2.3 2.3M815.6 500.1l2.3 2.3m0 -2.3l-2.3 2.3M854.7 519.5l2.3 2.3m0 -2.3l-2.3 2.3M894.5 507.0l2.3 2.3m0 -2.3l-2.3 2.3M914.0 514.2l2.3 2.3m0 -2.3l-2.3 2.3M884.0 522.4l2.3 2.3m0 -2.3l-2.3 2.3M850.7 512.5l2.3 2.3m0 -2.3l-2.3 2.3M959.2 507.9l2.3 2.3m0 -2.3l-2.3 2.3M861.1 510.8l2.3 2.3m0 -2.3l-2.3 2.3M955.6 510.0l2.3 2.3m0 -2.3l-2.3 2.3M875.9 508.9l2.3 2.3m0 -2.3l-2.3 2.3M781.2 505.2l2.3 2.3m0 -2.3l-2.3 2.3M811.8 502.7l2.3 2.3m0 -2.3l-2.3 2.3M923.7 512.3l2.3 2.3m0 -2.3l-2.3 2.3M921.9 515.2l2.3 2.3m0 -2.3l-2.3 2.3M798.1 503.8l2.3 2.3m0 -2.3l-2.3 2.3M873.7 517.4l2.3 2.3m0 -2.3l-2.3 2.3M991.8 504.7l2.3 2.3m0 -2.3l-2.3 2.3M802.7 518.4l2.3 2.3m0 -2.3l-2.3 2.3M922.8 515.0l2.3 2.3m0 -2.3l-2.3 2.3M949.0 498.1l2.3 2.3m0 -2.3l-2.3 2.3M816.8 512.8l2.3 2.3m0 -2.3l-2.3 2.3M839.5 476.4l2.3 2.3m0 -2.3l-2.3 2.3M854.4 468.0l2.3 2.3m0 -2.3l-2.3 2.3M874.7 465.0l2.3 2.3m0 -2.3l-2.3 2.3M909.8 455.8l2.3 2.3m0 -2.3l-2.3 2.3M804.0 458.5l2.3 2.3m0 -2.3l-2.3 2.3M924.4 472.3l2.3 2.3m0 -2.3l-2.3 2.3M976.1 463.7l2.3 2.3m0 -2.3l-2.3 2.3"/><path stroke="#fbc46a" d="M768.3 509.6l2.3 2.3m0 -2.3l-2.3 2.3M771.7 505.0l2.3 2.3m0 -2.3l-2.3 2.3M893.4 511.0l2.3 2.3m0 -2.3l-2.3 2.3M860.4 515.0l2.3 2.3m0 -2.3l-2.3 2.3M813.1 504.7l2.3 2.3m0 -2.3l-2.3 2.3M934.9 517.9l2.3 2.3m0 -2.3l-2.3 2.3M778.6 514.7l2.3 2.3m0 -2.3l-2.3 2.3M781.8 517.0l2.3 2.3m0 -2.3l-2.3 2.3M932.2 513.3l2.3 2.3m0 -2.3l-2.3 2.3M771.6 505.9l2.3 2.3m0 -2.3l-2.3 2.3M833.2 509.9l2.3 2.3m0 -2.3l-2.3 2.3M809.9 501.2l2.3 2.3m0 -2.3l-2.3 2.3M814.7 515.8l2.3 2.3m0 -2.3l-2.3 2.3M926.3 516.8l2.3 2.3m0 -2.3l-2.3 2.3M946.4 524.7l2.3 2.3m0 -2.3l-2.3 2.3M812.1 497.6l2.3 2.3m0 -2.3l-2.3 2.3M984.7 503.5l2.3 2.3m0 -2.3l-2.3 2.3M808.3 500.9l2.3 2.3m0 -2.3l-2.3 2.3M858.7 508.1l2.3 2.3m0 -2.3l-2.3 2.3M898.0 509.5l2.3 2.3m0 -2.3l-2.3 2.3M817.7 511.2l2.3 2.3m0 -2.3l-2.3 2.3M967.0 515.7l2.3 2.3m0 -2.3l-2.3 2.3M966.3 522.5l2.3 2.3m0 -2.3l-2.3 2.3M908.9 498.8l2.3 2.3m0 -2.3l-2.3 2.3M874.1 509.4l2.3 2.3m0 -2.3l-2.3 2.3M853.6 506.4l2.3 2.3m0 -2.3l-2.3 2.3M964.6 508.1l2.3 2.3m0 -2.3l-2.3 2.3M832.7 513.3l2.3 2.3m0 -2.3l-2.3 2.3M852.6 517.8l2.3 2.3m0 -2.3l-2.3 2.3M927.5 511.5l2.3 2.3m0 -2.3l-2.3 2.3M896.9 510.9l2.3 2.3m0 -2.3l-2.3 2.3M971.3 522.0l2.3 2.3m0 -2.3l-2.3 2.3M845.8 513.5l2.3 2.3m0 -2.3l-2.3 2.3M949.9 517.3l2.3 2.3m0 -2.3l-2.3 2.3M893.1 504.1l2.3 2.3m0 -2.3l-2.3 2.3M807.9 506.8l2.3 2.3m0 -2.3l-2.3 2.3M828.0 512.4l2.3 2.3m0 -2.3l-2.3 2.3M823.4 504.9l2.3 2.3m0 -2.3l-2.3 2.3M832.7 512.3l2.3 2.3m0 -2.3l-2.3 2.3M839.3 521.7l2.3 2.3m0 -2.3l-2.3 2.3M852.8 513.3l2.3 2.3m0 -2.3l-2.3 2.3M932.6 507.5l2.3 2.3m0 -2.3l-2.3 2.3M949.1 515.7l2.3 2.3m0 -2.3l-2.3 2.3M934.1 509.0l2.3 2.3m0 -2.3l-2.3 2.3M947.0 505.9l2.3 2.3m0 -2.3l-2.3 2.3M820.6 515.1l2.3 2.3m0 -2.3l-2.3 2.3M989.8 509.1l2.3 2.3m0 -2.3l-2.3 2.3M874.4 512.2l2.3 2.3m0 -2.3l-2.3 2.3M914.1 501.1l2.3 2.3m0 -2.3l-2.3 2.3M886.2 502.8l2.3 2.3m0 -2.3l-2.3 2.3M894.7 513.8l2.3 2.3m0 -2.3l-2.3 2.3M769.2 505.2l2.3 2.3m0 -2.3l-2.3 2.3M936.2 509.2l2.3 2.3m0 -2.3l-2.3 2.3M842.4 518.5l2.3 2.3m0 -2.3l-2.3 2.3M911.8 498.5l2.3 2.3m0 -2.3l-2.3 2.3M855.8 506.1l2.3 2.3m0 -2.3l-2.3 2.3M903.8 503.4l2.3 2.3m0 -2.3l-2.3 2.3M819.5 500.9l2.3 2.3m0 -2.3l-2.3 2.3M857.0 510.1l2.3 2.3m0 -2.3l-2.3 2.3M777.0 514.1l2.3 2.3m0 -2.3l-2.3 2.3M914.0 511.1l2.3 2.3m0 -2.3l-2.3 2.3M770.3 511.9l2.3 2.3m0 -2.3l-2.3 2.3M797.4 513.7l2.3 2.3m0 -2.3l-2.3 2.3M882.0 511.7l2.3 2.3m0 -2.3l-2.3 2.3M802.2 516.1l2.3 2.3m0 -2.3l-2.3 2.3M852.2 518.8l2.3 2.3m0 -2.3l-2.3 2.3M980.8 497.9l2.3 2.3m0 -2.3l-2.3 2.3M985.2 518.6l2.3 2.3m0 -2.3l-2.3 2.3M988.7 513.8l2.3 2.3m0 -2.3l-2.3 2.3M834.9 512.3l2.3 2.3m0 -2.3l-2.3 2.3M974.6 503.5l2.3 2.3m0 -2.3l-2.3 2.3M990.3 506.3l2.3 2.3m0 -2.3l-2.3 2.3M796.0 515.5l2.3 2.3m0 -2.3l-2.3 2.3M854.3 512.0l2.3 2.3m0 -2.3l-2.3 2.3M881.5 513.7l2.3 2.3m0 -2.3l-2.3 2.3M850.4 522.3l2.3 2.3m0 -2.3l-2.3 2.3M954.3 504.9l2.3 2.3m0 -2.3l-2.3 2.3M816.2 510.3l2.3 2.3m0 -2.3l-2.3 2.3M924.5 515.7l2.3 2.3m0 -2.3l-2.3 2.3M800.9 505.8l2.3 2.3m0 -2.3l-2.3 2.3M949.9 506.6l2.3 2.3m0 -2.3l-2.3 2.3M986.6 514.4l2.3 2.3m0 -2.3l-2.3 2.3M823.5 515.3l2.3 2.3m0 -2.3l-2.3 2.3M812.1 508.8l2.3 2.3m0 -2.3l-2.3 2.3M952.0 514.2l2.3 2.3m0 -2.3l-2.3 2.3M848.3 510.2l2.3 2.3m0 -2.3l-2.3 2.3M956.1 508.1l2.3 2.3m0 -2.3l-2.3 2.3M806.8 520.4l2.3 2.3m0 -2.3l-2.3 2.3M918.1 493.6l2.3 2.3m0 -2.3l-2.3 2.3M888.8 513.0l2.3 2.3m0 -2.3l-2.3 2.3M827.1 509.7l2.3 2.3m0 -2.3l-2.3 2.3M825.0 514.3l2.3 2.3m0 -2.3l-2.3 2.3M824.9 508.6l2.3 2.3m0 -2.3l-2.3 2.3M834.0 522.3l2.3 2.3m0 -2.3l-2.3 2.3M980.6 511.7l2.3 2.3m0 -2.3l-2.3 2.3M942.0 510.8l2.3 2.3m0 -2.3l-2.3 2.3M856.1 521.6l2.3 2.3m0 -2.3l-2.3 2.3M935.7 514.4l2.3 2.3m0 -2.3l-2.3 2.3M867.9 499.2l2.3 2.3m0 -2.3l-2.3 2.3M979.6 509.4l2.3 2.3m0 -2.3l-2.3 2.3M805.9 508.1l2.3 2.3m0 -2.3l-2.3 2.3M927.8 519.5l2.3 2.3m0 -2.3l-2.3 2.3M831.4 508.6l2.3 2.3m0 -2.3l-2.3 2.3M916.5 523.4l2.3 2.3m0 -2.3l-2.3 2.3M863.2 508.6l2.3 2.3m0 -2.3l-2.3 2.3M848.8 510.9l2.3 2.3m0 -2.3l-2.3 2.3M872.4 517.0l2.3 2.3m0 -2.3l-2.3 2.3M870.7 507.0l2.3 2.3m0 -2.3l-2.3 2.3M898.5 513.3l2.3 2.3m0 -2.3l-2.3 2.3M926.6 508.9l2.3 2.3m0 -2.3l-2.3 2.3M832.8 510.2l2.3 2.3m0 -2.3l-2.3 2.3M990.3 479.5l2.3 2.3m0 -2.3l-2.3 2.3M920.9 470.6l2.3 2.3m0 -2.3l-2.3 2.3M839.3 468.8l2.3 2.3m0 -2.3l-2.3 2.3M981.4 479.5l2.3 2.3m0 -2.3l-2.3 2.3M786.9 469.1l2.3 2.3m0 -2.3l-2.3 2.3"/><path stroke="#f48a6a" d="M990.9 517.3l2.3 2.3m0 -2.3l-2.3 2.3M789.3 516.6l2.3 2.3m0 -2.3l-2.3 2.3M941.6 511.5l2.3 2.3m0 -2.3l-2.3 2.3M839.5 516.7l2.3 2.3m0 -2.3l-2.3 2.3M795.7 505.0l2.3 2.3m0 -2.3l-2.3 2.3M983.4 512.6l2.3 2.3m0 -2.3l-2.3 2.3M891.8 517.2l2.3 2.3m0 -2.3l-2.3 2.3M791.1 511.5l2.3 2.3m0 -2.3l-2.3 2.3M877.7 500.8l2.3 2.3m0 -2.3l-2.3 2.3M968.3 502.2l2.3 2.3m0 -2.3l-2.3 2.3M936.0 507.9l2.3 2.3m0 -2.3l-2.3 2.3M914.7 499.0l2.3 2.3m0 -2.3l-2.3 2.3M856.7 516.7l2.3 2.3m0 -2.3l-2.3 2.3M828.0 504.2l2.3 2.3m0 -2.3l-2.3 2.3M894.4 505.7l2.3 2.3m0 -2.3l-2.3 2.3M866.2 505.4l2.3 2.3m0 -2.3l-2.3 2.3M886.3 516.4l2.3 2.3m0 -2.3l-2.3 2.3M964.5 512.2l2.3 2.3m0 -2.3l-2.3 2.3M987.4 515.2l2.3 2.3m0 -2.3l-2.3 2.3M959.1 506.3l2.3 2.3m0 -2.3l-2.3 2.3M884.4 501.7l2.3 2.3m0 -2.3l-2.3 2.3M772.9 512.4l2.3 2.3m0 -2.3l-2.3 2.3M838.0 512.7l2.3 2.3m0 -2.3l-2.3 2.3M836.6 500.0l2.3 2.3m0 -2.3l-2.3 2.3M786.7 506.3l2.3 2.3m0 -2.3l-2.3 2.3M806.7 515.4l2.3 2.3m0 -2.3l-2.3 2.3M938.4 519.2l2.3 2.3m0 -2.3l-2.3 2.3M901.0 493.3l2.3 2.3m0 -2.3l-2.3 2.3M795.1 500.1l2.3 2.3m0 -2.3l-2.3 2.3M767.3 506.6l2.3 2.3m0 -2.3l-2.3 2.3M989.7 513.5l2.3 2.3m0 -2.3l-2.3 2.3M770.0 503.9l2.3 2.3m0 -2.3l-2.3 2.3M823.5 517.8l2.3 2.3m0 -2.3l-2.3 2.3M855.3 517.5l2.3 2.3m0 -2.3l-2.3 2.3M800.4 512.0l2.3 2.3m0 -2.3l-2.3 2.3M879.0 507.1l2.3 2.3m0 -2.3l-2.3 2.3M942.9 507.5l2.3 2.3m0 -2.3l-2.3 2.3M987.6 505.8l2.3 2.3m0 -2.3l-2.3 2.3M848.6 500.7l2.3 2.3m0 -2.3l-2.3 2.3M786.9 520.5l2.3 2.3m0 -2.3l-2.3 2.3M885.2 504.3l2.3 2.3m0 -2.3l-2.3 2.3M968.0 512.8l2.3 2.3m0 -2.3l-2.3 2.3M805.1 517.9l2.3 2.3m0 -2.3l-2.3 2.3M840.8 508.5l2.3 2.3m0 -2.3l-2.3 2.3M841.6 506.0l2.3 2.3m0 -2.3l-2.3 2.3M831.1 514.1l2.3 2.3m0 -2.3l-2.3 2.3M930.7 511.4l2.3 2.3m0 -2.3l-2.3 2.3M809.7 510.9l2.3 2.3m0 -2.3l-2.3 2.3M806.8 511.1l2.3 2.3m0 -2.3l-2.3 2.3M873.7 511.0l2.3 2.3m0 -2.3l-2.3 2.3M860.5 516.6l2.3 2.3m0 -2.3l-2.3 2.3M981.7 500.9l2.3 2.3m0 -2.3l-2.3 2.3M858.6 496.1l2.3 2.3m0 -2.3l-2.3 2.3M872.7 512.3l2.3 2.3m0 -2.3l-2.3 2.3M832.5 500.8l2.3 2.3m0 -2.3l-2.3 2.3M929.2 516.7l2.3 2.3m0 -2.3l-2.3 2.3M885.1 511.6l2.3 2.3m0 -2.3l-2.3 2.3M891.3 513.5l2.3 2.3m0 -2.3l-2.3 2.3M926.8 511.7l2.3 2.3m0 -2.3l-2.3 2.3M889.3 519.9l2.3 2.3m0 -2.3l-2.3 2.3M840.6 522.9l2.3 2.3m0 -2.3l-2.3 2.3M990.1 509.8l2.3 2.3m0 -2.3l-2.3 2.3M901.4 520.6l2.3 2.3m0 -2.3l-2.3 2.3M920.4 520.3l2.3 2.3m0 -2.3l-2.3 2.3M893.8 514.8l2.3 2.3m0 -2.3l-2.3 2.3M969.2 510.9l2.3 2.3m0 -2.3l-2.3 2.3M922.6 507.1l2.3 2.3m0 -2.3l-2.3 2.3M980.7 516.7l2.3 2.3m0 -2.3l-2.3 2.3M897.8 513.4l2.3 2.3m0 -2.3l-2.3 2.3M968.4 516.0l2.3 2.3m0 -2.3l-2.3 2.3M912.4 507.7l2.3 2.3m0 -2.3l-2.3 2.3M859.1 511.6l2.3 2.3m0 -2.3l-2.3 2.3M888.4 517.2l2.3 2.3m0 -2.3l-2.3 2.3M943.4 518.0l2.3 2.3m0 -2.3l-2.3 2.3M817.0 494.5l2.3 2.3m0 -2.3l-2.3 2.3M976.5 506.5l2.3 2.3m0 -2.3l-2.3 2.3M811.1 513.5l2.3 2.3m0 -2.3l-2.3 2.3M781.4 509.6l2.3 2.3m0 -2.3l-2.3 2.3M927.2 518.3l2.3 2.3m0 -2.3l-2.3 2.3M788.3 521.7l2.3 2.3m0 -2.3l-2.3 2.3M929.1 513.0l2.3 2.3m0 -2.3l-2.3 2.3M916.8 508.0l2.3 2.3m0 -2.3l-2.3 2.3M852.6 510.3l2.3 2.3m0 -2.3l-2.3 2.3M780.0 516.9l2.3 2.3m0 -2.3l-2.3 2.3M916.2 505.2l2.3 2.3m0 -2.3l-2.3 2.3M792.2 523.9l2.3 2.3m0 -2.3l-2.3 2.3M957.1 508.6l2.3 2.3m0 -2.3l-2.3 2.3M843.6 518.4l2.3 2.3m0 -2.3l-2.3 2.3M910.7 507.4l2.3 2.3m0 -2.3l-2.3 2.3M773.5 516.9l2.3 2.3m0 -2.3l-2.3 2.3M840.5 507.5l2.3 2.3m0 -2.3l-2.3 2.3M848.7 500.9l2.3 2.3m0 -2.3l-2.3 2.3M821.4 505.2l2.3 2.3m0 -2.3l-2.3 2.3M777.0 507.2l2.3 2.3m0 -2.3l-2.3 2.3M855.1 511.2l2.3 2.3m0 -2.3l-2.3 2.3M927.4 501.9l2.3 2.3m0 -2.3l-2.3 2.3M932.9 516.7l2.3 2.3m0 -2.3l-2.3 2.3M825.7 512.6l2.3 2.3m0 -2.3l-2.3 2.3M800.6 512.0l2.3 2.3m0 -2.3l-2.3 2.3M835.0 515.7l2.3 2.3m0 -2.3l-2.3 2.3M952.6 514.8l2.3 2.3m0 -2.3l-2.3 2.3M867.0 506.1l2.3 2.3m0 -2.3l-2.3 2.3M805.1 514.7l2.3 2.3m0 -2.3l-2.3 2.3M767.0 505.2l2.3 2.3m0 -2.3l-2.3 2.3M789.4 514.0l2.3 2.3m0 -2.3l-2.3 2.3M949.3 517.7l2.3 2.3m0 -2.3l-2.3 2.3M964.9 514.6l2.3 2.3m0 -2.3l-2.3 2.3M871.2 513.8l2.3 2.3m0 -2.3l-2.3 2.3M881.0 514.4l2.3 2.3m0 -2.3l-2.3 2.3M779.6 518.9l2.3 2.3m0 -2.3l-2.3 2.3M882.4 504.4l2.3 2.3m0 -2.3l-2.3 2.3M840.6 516.9l2.3 2.3m0 -2.3l-2.3 2.3M916.6 510.8l2.3 2.3m0 -2.3l-2.3 2.3M803.8 510.2l2.3 2.3m0 -2.3l-2.3 2.3M791.2 510.9l2.3 2.3m0 -2.3l-2.3 2.3M825.2 505.5l2.3 2.3m0 -2.3l-2.3 2.3M864.9 516.2l2.3 2.3m0 -2.3l-2.3 2.3M768.3 502.7l2.3 2.3m0 -2.3l-2.3 2.3M968.4 517.1l2.3 2.3m0 -2.3l-2.3 2.3M871.4 507.2l2.3 2.3m0 -2.3l-2.3 2.3M768.4 507.2l2.3 2.3m0 -2.3l-2.3 2.3M979.3 513.0l2.3 2.3m0 -2.3l-2.3 2.3M886.0 520.6l2.3 2.3m0 -2.3l-2.3 2.3M880.6 510.4l2.3 2.3m0 -2.3l-2.3 2.3M862.3 475.8l2.3 2.3m0 -2.3l-2.3 2.3M801.9 471.7l2.3 2.3m0 -2.3l-2.3 2.3M926.7 456.3l2.3 2.3m0 -2.3l-2.3 2.3M884.4 487.1l2.3 2.3m0 -2.3l-2.3 2.3M847.8 481.2l2.3 2.3m0 -2.3l-2.3 2.3M854.9 464.8l2.3 2.3m0 -2.3l-2.3 2.3M906.7 479.1l2.3 2.3m0 -2.3l-2.3 2.3M951.9 475.9l2.3 2.3m0 -2.3l-2.3 2.3M954.5 496.9l2.3 2.3m0 -2.3l-2.3 2.3M955.4 460.3l2.3 2.3m0 -2.3l-2.3 2.3"/><path stroke="#9ccf8a" d="M975.5 534.7l2.3 2.3m0 -2.3l-2.3 2.3M850.4 543.3l2.3 2.3m0 -2.3l-2.3 2.3M878.5 525.1l2.3 2.3m0 -2.3l-2.3 2.3M921.3 531.0l2.3 2.3m0 -2.3l-2.3 2.3M948.0 537.9l2.3 2.3m0 -2.3l-2.3 2.3M946.5 525.4l2.3 2.3m0 -2.3l-2.3 2.3M924.4 537.3l2.3 2.3m0 -2.3l-2.3 2.3M867.6 531.2l2.3 2.3m0 -2.3l-2.3 2.3M771.6 536.8l2.3 2.3m0 -2.3l-2.3 2.3M888.0 533.1l2.3 2.3m0 -2.3l-2.3 2.3M903.9 546.8l2.3 2.3m0 -2.3l-2.3 2.3M903.1 543.1l2.3 2.3m0 -2.3l-2.3 2.3M775.7 531.2l2.3 2.3m0 -2.3l-2.3 2.3M970.7 536.6l2.3 2.3m0 -2.3l-2.3 2.3M808.6 524.6l2.3 2.3m0 -2.3l-2.3 2.3M818.6 544.6l2.3 2.3m0 -2.3l-2.3 2.3M988.1 541.2l2.3 2.3m0 -2.3l-2.3 2.3M824.3 523.4l2.3 2.3m0 -2.3l-2.3 2.3M986.3 547.0l2.3 2.3m0 -2.3l-2.3 2.3M946.3 534.8l2.3 2.3m0 -2.3l-2.3 2.3M918.7 538.3l2.3 2.3m0 -2.3l-2.3 2.3M924.2 530.4l2.3 2.3m0 -2.3l-2.3 2.3M873.7 524.0l2.3 2.3m0 -2.3l-2.3 2.3M825.9 536.9l2.3 2.3m0 -2.3l-2.3 2.3M877.8 534.3l2.3 2.3m0 -2.3l-2.3 2.3M799.2 529.7l2.3 2.3m0 -2.3l-2.3 2.3M920.4 543.2l2.3 2.3m0 -2.3l-2.3 2.3M791.6 534.2l2.3 2.3m0 -2.3l-2.3 2.3M894.0 547.3l2.3 2.3m0 -2.3l-2.3 2.3M974.7 527.1l2.3 2.3m0 -2.3l-2.3 2.3M913.2 542.6l2.3 2.3m0 -2.3l-2.3 2.3M826.8 526.1l2.3 2.3m0 -2.3l-2.3 2.3M792.5 533.0l2.3 2.3m0 -2.3l-2.3 2.3M859.3 538.5l2.3 2.3m0 -2.3l-2.3 2.3M990.8 534.8l2.3 2.3m0 -2.3l-2.3 2.3M851.8 541.7l2.3 2.3m0 -2.3l-2.3 2.3M963.2 534.7l2.3 2.3m0 -2.3l-2.3 2.3M823.3 534.5l2.3 2.3m0 -2.3l-2.3 2.3M825.6 533.8l2.3 2.3m0 -2.3l-2.3 2.3M906.1 533.7l2.3 2.3m0 -2.3l-2.3 2.3M939.7 534.2l2.3 2.3m0 -2.3l-2.3 2.3M897.2 534.5l2.3 2.3m0 -2.3l-2.3 2.3M853.7 534.3l2.3 2.3m0 -2.3l-2.3 2.3M896.3 533.9l2.3 2.3m0 -2.3l-2.3 2.3M981.2 533.9l2.3 2.3m0 -2.3l-2.3 2.3M833.0 534.4l2.3 2.3m0 -2.3l-2.3 2.3M847.4 533.8l2.3 2.3m0 -2.3l-2.3 2.3M777.9 534.2l2.3 2.3m0 -2.3l-2.3 2.3M952.7 534.6l2.3 2.3m0 -2.3l-2.3 2.3M778.3 534.1l2.3 2.3m0 -2.3l-2.3 2.3M804.9 533.9l2.3 2.3m0 -2.3l-2.3 2.3M801.7 533.7l2.3 2.3m0 -2.3l-2.3 2.3M946.4 534.1l2.3 2.3m0 -2.3l-2.3 2.3M962.0 534.6l2.3 2.3m0 -2.3l-2.3 2.3M949.3 534.7l2.3 2.3m0 -2.3l-2.3 2.3M904.4 533.6l2.3 2.3m0 -2.3l-2.3 2.3M777.8 533.6l2.3 2.3m0 -2.3l-2.3 2.3M932.9 534.6l2.3 2.3m0 -2.3l-2.3 2.3M909.0 534.3l2.3 2.3m0 -2.3l-2.3 2.3M828.2 534.7l2.3 2.3m0 -2.3l-2.3 2.3M783.7 533.9l2.3 2.3m0 -2.3l-2.3 2.3M818.7 533.9l2.3 2.3m0 -2.3l-2.3 2.3M923.9 534.7l2.3 2.3m0 -2.3l-2.3 2.3M912.7 534.4l2.3 2.3m0 -2.3l-2.3 2.3M853.2 534.7l2.3 2.3m0 -2.3l-2.3 2.3M767.4 534.3l2.3 2.3m0 -2.3l-2.3 2.3M968.3 533.8l2.3 2.3m0 -2.3l-2.3 2.3M857.9 534.0l2.3 2.3m0 -2.3l-2.3 2.3M830.6 533.9l2.3 2.3m0 -2.3l-2.3 2.3M794.8 534.0l2.3 2.3m0 -2.3l-2.3 2.3M991.6 534.6l2.3 2.3m0 -2.3l-2.3 2.3M824.5 534.0l2.3 2.3m0 -2.3l-2.3 2.3M931.4 533.7l2.3 2.3m0 -2.3l-2.3 2.3M887.1 534.3l2.3 2.3m0 -2.3l-2.3 2.3M858.8 533.8l2.3 2.3m0 -2.3l-2.3 2.3M976.7 533.7l2.3 2.3m0 -2.3l-2.3 2.3M973.4 534.0l2.3 2.3m0 -2.3l-2.3 2.3M794.7 541.3l2.3 2.3m0 -2.3l-2.3 2.3M786.8 541.7l2.3 2.3m0 -2.3l-2.3 2.3M860.2 540.9l2.3 2.3m0 -2.3l-2.3 2.3M817.1 540.7l2.3 2.3m0 -2.3l-2.3 2.3M790.6 541.6l2.3 2.3m0 -2.3l-2.3 2.3M828.7 540.6l2.3 2.3m0 -2.3l-2.3 2.3M905.1 540.9l2.3 2.3m0 -2.3l-2.3 2.3M892.2 540.9l2.3 2.3m0 -2.3l-2.3 2.3M909.3 541.4l2.3 2.3m0 -2.3l-2.3 2.3M786.3 540.6l2.3 2.3m0 -2.3l-2.3 2.3M930.4 540.6l2.3 2.3m0 -2.3l-2.3 2.3M846.5 541.7l2.3 2.3m0 -2.3l-2.3 2.3M895.2 540.7l2.3 2.3m0 -2.3l-2.3 2.3M947.8 541.4l2.3 2.3m0 -2.3l-2.3 2.3M765.5 541.7l2.3 2.3m0 -2.3l-2.3 2.3M851.1 540.7l2.3 2.3m0 -2.3l-2.3 2.3M781.0 540.8l2.3 2.3m0 -2.3l-2.3 2.3M879.1 541.5l2.3 2.3m0 -2.3l-2.3 2.3M967.8 541.4l2.3 2.3m0 -2.3l-2.3 2.3M766.4 540.8l2.3 2.3m0 -2.3l-2.3 2.3M930.9 540.6l2.3 2.3m0 -2.3l-2.3 2.3M972.1 541.1l2.3 2.3m0 -2.3l-2.3 2.3M915.2 540.9l2.3 2.3m0 -2.3l-2.3 2.3M919.3 541.6l2.3 2.3m0 -2.3l-2.3 2.3M922.3 541.0l2.3 2.3m0 -2.3l-2.3 2.3M918.5 553.1l2.3 2.3m0 -2.3l-2.3 2.3M804.6 553.1l2.3 2.3m0 -2.3l-2.3 2.3M847.9 553.1l2.3 2.3m0 -2.3l-2.3 2.3M989.8 553.6l2.3 2.3m0 -2.3l-2.3 2.3M854.5 553.4l2.3 2.3m0 -2.3l-2.3 2.3M963.6 553.7l2.3 2.3m0 -2.3l-2.3 2.3M768.1 553.4l2.3 2.3m0 -2.3l-2.3 2.3M981.0 554.0l2.3 2.3m0 -2.3l-2.3 2.3M852.2 553.1l2.3 2.3m0 -2.3l-2.3 2.3M989.8 554.1l2.3 2.3m0 -2.3l-2.3 2.3M956.7 554.0l2.3 2.3m0 -2.3l-2.3 2.3M866.7 553.4l2.3 2.3m0 -2.3l-2.3 2.3M884.3 554.2l2.3 2.3m0 -2.3l-2.3 2.3M924.2 553.3l2.3 2.3m0 -2.3l-2.3 2.3M793.3 553.2l2.3 2.3m0 -2.3l-2.3 2.3M890.4 553.2l2.3 2.3m0 -2.3l-2.3 2.3M953.7 553.5l2.3 2.3m0 -2.3l-2.3 2.3M855.6 553.7l2.3 2.3m0 -2.3l-2.3 2.3M961.8 553.9l2.3 2.3m0 -2.3l-2.3 2.3M833.5 553.7l2.3 2.3m0 -2.3l-2.3 2.3M897.6 553.8l2.3 2.3m0 -2.3l-2.3 2.3M937.3 553.4l2.3 2.3m0 -2.3l-2.3 2.3M945.7 553.1l2.3 2.3m0 -2.3l-2.3 2.3M952.4 553.1l2.3 2.3m0 -2.3l-2.3 2.3M832.0 553.6l2.3 2.3m0 -2.3l-2.3 2.3M768.8 553.8l2.3 2.3m0 -2.3l-2.3 2.3M990.2 553.6l2.3 2.3m0 -2.3l-2.3 2.3M924.6 553.6l2.3 2.3m0 -2.3l-2.3 2.3M966.5 553.3l2.3 2.3m0 -2.3l-2.3 2.3M807.6 554.2l2.3 2.3m0 -2.3l-2.3 2.3M926.7 553.6l2.3 2.3m0 -2.3l-2.3 2.3"/><path stroke="#7b5cf0" d="M946.1 535.2l2.3 2.3m0 -2.3l-2.3 2.3M853.1 536.9l2.3 2.3m0 -2.3l-2.3 2.3M846.2 537.2l2.3 2.3m0 -2.3l-2.3 2.3M850.6 540.9l2.3 2.3m0 -2.3l-2.3 2.3M986.3 546.3l2.3 2.3m0 -2.3l-2.3 2.3M844.7 525.3l2.3 2.3m0 -2.3l-2.3 2.3M912.8 536.0l2.3 2.3m0 -2.3l-2.3 2.3M986.3 544.2l2.3 2.3m0 -2.3l-2.3 2.3M844.4 527.0l2.3 2.3m0 -2.3l-2.3 2.3M841.0 539.7l2.3 2.3m0 -2.3l-2.3 2.3M912.8 546.9l2.3 2.3m0 -2.3l-2.3 2.3M920.3 535.0l2.3 2.3m0 -2.3l-2.3 2.3M841.6 543.0l2.3 2.3m0 -2.3l-2.3 2.3M909.7 523.8l2.3 2.3m0 -2.3l-2.3 2.3M944.8 548.1l2.3 2.3m0 -2.3l-2.3 2.3M844.4 548.8l2.3 2.3m0 -2.3l-2.3 2.3M870.4 526.2l2.3 2.3m0 -2.3l-2.3 2.3M983.0 521.5l2.3 2.3m0 -2.3l-2.3 2.3M965.5 537.1l2.3 2.3m0 -2.3l-2.3 2.3M974.3 535.2l2.3 2.3m0 -2.3l-2.3 2.3M920.5 539.4l2.3 2.3m0 -2.3l-2.3 2.3M979.6 534.6l2.3 2.3m0 -2.3l-2.3 2.3M911.6 540.2l2.3 2.3m0 -2.3l-2.3 2.3M981.9 539.3l2.3 2.3m0 -2.3l-2.3 2.3M944.6 537.9l2.3 2.3m0 -2.3l-2.3 2.3M934.9 539.6l2.3 2.3m0 -2.3l-2.3 2.3M799.6 532.9l2.3 2.3m0 -2.3l-2.3 2.3M960.6 535.8l2.3 2.3m0 -2.3l-2.3 2.3M925.1 533.6l2.3 2.3m0 -2.3l-2.3 2.3M889.8 520.9l2.3 2.3m0 -2.3l-2.3 2.3M872.3 534.6l2.3 2.3m0 -2.3l-2.3 2.3M986.5 534.5l2.3 2.3m0 -2.3l-2.3 2.3M913.7 534.4l2.3 2.3m0 -2.3l-2.3 2.3M955.5 534.0l2.3 2.3m0 -2.3l-2.3 2.3M934.5 534.1l2.3 2.3m0 -2.3l-2.3 2.3M945.0 534.1l2.3 2.3m0 -2.3l-2.3 2.3M830.5 534.5l2.3 2.3m0 -2.3l-2.3 2.3M869.4 534.2l2.3 2.3m0 -2.3l-2.3 2.3M881.4 534.2l2.3 2.3m0 -2.3l-2.3 2.3M932.6 533.9l2.3 2.3m0 -2.3l-2.3 2.3M768.3 534.0l2.3 2.3m0 -2.3l-2.3 2.3M878.5 534.0l2.3 2.3m0 -2.3l-2.3 2.3M847.1 533.9l2.3 2.3m0 -2.3l-2.3 2.3M829.5 533.9l2.3 2.3m0 -2.3l-2.3 2.3M869.9 534.0l2.3 2.3m0 -2.3l-2.3 2.3M767.9 533.7l2.3 2.3m0 -2.3l-2.3 2.3M927.1 534.5l2.3 2.3m0 -2.3l-2.3 2.3M892.5 534.7l2.3 2.3m0 -2.3l-2.3 2.3M897.1 533.8l2.3 2.3m0 -2.3l-2.3 2.3M933.9 533.8l2.3 2.3m0 -2.3l-2.3 2.3M774.8 534.2l2.3 2.3m0 -2.3l-2.3 2.3M964.4 534.3l2.3 2.3m0 -2.3l-2.3 2.3M927.2 533.8l2.3 2.3m0 -2.3l-2.3 2.3M837.5 533.6l2.3 2.3m0 -2.3l-2.3 2.3M851.9 533.8l2.3 2.3m0 -2.3l-2.3 2.3M803.1 534.2l2.3 2.3m0 -2.3l-2.3 2.3M880.2 534.0l2.3 2.3m0 -2.3l-2.3 2.3M860.8 534.5l2.3 2.3m0 -2.3l-2.3 2.3M941.2 534.3l2.3 2.3m0 -2.3l-2.3 2.3M946.7 533.8l2.3 2.3m0 -2.3l-2.3 2.3M959.3 534.7l2.3 2.3m0 -2.3l-2.3 2.3M835.8 534.4l2.3 2.3m0 -2.3l-2.3 2.3M900.8 534.4l2.3 2.3m0 -2.3l-2.3 2.3M777.9 534.3l2.3 2.3m0 -2.3l-2.3 2.3M865.6 540.9l2.3 2.3m0 -2.3l-2.3 2.3M871.2 540.6l2.3 2.3m0 -2.3l-2.3 2.3M874.7 541.0l2.3 2.3m0 -2.3l-2.3 2.3M983.3 541.7l2.3 2.3m0 -2.3l-2.3 2.3M871.6 540.9l2.3 2.3m0 -2.3l-2.3 2.3M860.0 540.7l2.3 2.3m0 -2.3l-2.3 2.3M937.2 541.0l2.3 2.3m0 -2.3l-2.3 2.3M817.3 540.8l2.3 2.3m0 -2.3l-2.3 2.3M944.9 541.5l2.3 2.3m0 -2.3l-2.3 2.3M918.4 541.6l2.3 2.3m0 -2.3l-2.3 2.3M919.6 540.6l2.3 2.3m0 -2.3l-2.3 2.3M974.0 540.9l2.3 2.3m0 -2.3l-2.3 2.3M894.2 541.5l2.3 2.3m0 -2.3l-2.3 2.3M936.9 541.3l2.3 2.3m0 -2.3l-2.3 2.3M800.7 541.2l2.3 2.3m0 -2.3l-2.3 2.3M902.9 541.5l2.3 2.3m0 -2.3l-2.3 2.3M840.1 541.6l2.3 2.3m0 -2.3l-2.3 2.3M883.0 540.8l2.3 2.3m0 -2.3l-2.3 2.3M774.3 540.6l2.3 2.3m0 -2.3l-2.3 2.3M893.6 541.2l2.3 2.3m0 -2.3l-2.3 2.3M986.6 540.8l2.3 2.3m0 -2.3l-2.3 2.3M864.1 541.1l2.3 2.3m0 -2.3l-2.3 2.3M975.6 541.2l2.3 2.3m0 -2.3l-2.3 2.3M898.9 541.6l2.3 2.3m0 -2.3l-2.3 2.3M810.2 541.0l2.3 2.3m0 -2.3l-2.3 2.3M975.9 540.8l2.3 2.3m0 -2.3l-2.3 2.3M919.4 540.8l2.3 2.3m0 -2.3l-2.3 2.3M832.0 541.6l2.3 2.3m0 -2.3l-2.3 2.3M855.3 540.6l2.3 2.3m0 -2.3l-2.3 2.3M900.6 541.1l2.3 2.3m0 -2.3l-2.3 2.3M779.2 540.6l2.3 2.3m0 -2.3l-2.3 2.3M887.1 541.0l2.3 2.3m0 -2.3l-2.3 2.3M917.9 541.0l2.3 2.3m0 -2.3l-2.3 2.3M800.5 540.8l2.3 2.3m0 -2.3l-2.3 2.3M801.7 541.1l2.3 2.3m0 -2.3l-2.3 2.3M943.1 541.2l2.3 2.3m0 -2.3l-2.3 2.3M826.1 541.6l2.3 2.3m0 -2.3l-2.3 2.3M790.4 541.3l2.3 2.3m0 -2.3l-2.3 2.3M982.9 541.0l2.3 2.3m0 -2.3l-2.3 2.3M884.7 540.6l2.3 2.3m0 -2.3l-2.3 2.3M816.7 540.8l2.3 2.3m0 -2.3l-2.3 2.3M985.4 541.4l2.3 2.3m0 -2.3l-2.3 2.3M980.5 541.7l2.3 2.3m0 -2.3l-2.3 2.3M967.7 541.7l2.3 2.3m0 -2.3l-2.3 2.3M988.5 541.5l2.3 2.3m0 -2.3l-2.3 2.3M929.1 541.5l2.3 2.3m0 -2.3l-2.3 2.3M979.0 540.7l2.3 2.3m0 -2.3l-2.3 2.3M954.5 540.7l2.3 2.3m0 -2.3l-2.3 2.3M982.7 554.0l2.3 2.3m0 -2.3l-2.3 2.3M953.4 553.8l2.3 2.3m0 -2.3l-2.3 2.3M789.5 553.6l2.3 2.3m0 -2.3l-2.3 2.3M983.8 553.1l2.3 2.3m0 -2.3l-2.3 2.3M901.1 554.0l2.3 2.3m0 -2.3l-2.3 2.3M925.1 553.5l2.3 2.3m0 -2.3l-2.3 2.3M801.1 553.7l2.3 2.3m0 -2.3l-2.3 2.3M834.4 553.3l2.3 2.3m0 -2.3l-2.3 2.3M820.4 553.2l2.3 2.3m0 -2.3l-2.3 2.3M961.6 553.1l2.3 2.3m0 -2.3l-2.3 2.3M792.2 554.2l2.3 2.3m0 -2.3l-2.3 2.3M875.7 554.1l2.3 2.3m0 -2.3l-2.3 2.3M836.8 553.3l2.3 2.3m0 -2.3l-2.3 2.3M848.0 554.2l2.3 2.3m0 -2.3l-2.3 2.3M958.6 553.6l2.3 2.3m0 -2.3l-2.3 2.3M792.1 553.1l2.3 2.3m0 -2.3l-2.3 2.3M858.4 553.2l2.3 2.3m0 -2.3l-2.3 2.3M941.2 553.2l2.3 2.3m0 -2.3l-2.3 2.3M769.6 553.5l2.3 2.3m0 -2.3l-2.3 2.3M830.3 553.5l2.3 2.3m0 -2.3l-2.3 2.3M958.3 553.3l2.3 2.3m0 -2.3l-2.3 2.3M991.1 553.2l2.3 2.3m0 -2.3l-2.3 2.3M766.2 554.2l2.3 2.3m0 -2.3l-2.3 2.3M775.4 553.8l2.3 2.3m0 -2.3l-2.3 2.3M843.0 553.6l2.3 2.3m0 -2.3l-2.3 2.3M817.5 553.6l2.3 2.3m0 -2.3l-2.3 2.3M844.3 554.1l2.3 2.3m0 -2.3l-2.3 2.3M925.4 553.5l2.3 2.3m0 -2.3l-2.3 2.3M824.9 554.1l2.3 2.3m0 -2.3l-2.3 2.3"/><path stroke="#8cc0f0" d="M788.7 541.6l2.3 2.3m0 -2.3l-2.3 2.3M971.0 522.7l2.3 2.3m0 -2.3l-2.3 2.3M852.6 524.1l2.3 2.3m0 -2.3l-2.3 2.3M947.8 523.6l2.3 2.3m0 -2.3l-2.3 2.3M932.3 530.5l2.3 2.3m0 -2.3l-2.3 2.3M893.3 530.6l2.3 2.3m0 -2.3l-2.3 2.3M980.3 539.5l2.3 2.3m0 -2.3l-2.3 2.3M787.9 524.8l2.3 2.3m0 -2.3l-2.3 2.3M814.7 528.5l2.3 2.3m0 -2.3l-2.3 2.3M986.4 547.4l2.3 2.3m0 -2.3l-2.3 2.3M858.9 525.0l2.3 2.3m0 -2.3l-2.3 2.3M765.0 522.8l2.3 2.3m0 -2.3l-2.3 2.3M814.3 532.5l2.3 2.3m0 -2.3l-2.3 2.3M989.7 531.7l2.3 2.3m0 -2.3l-2.3 2.3M860.0 539.6l2.3 2.3m0 -2.3l-2.3 2.3M811.5 545.4l2.3 2.3m0 -2.3l-2.3 2.3M976.3 530.4l2.3 2.3m0 -2.3l-2.3 2.3M776.0 529.4l2.3 2.3m0 -2.3l-2.3 2.3M855.8 522.3l2.3 2.3m0 -2.3l-2.3 2.3M775.2 532.1l2.3 2.3m0 -2.3l-2.3 2.3M933.5 525.5l2.3 2.3m0 -2.3l-2.3 2.3M840.3 546.4l2.3 2.3m0 -2.3l-2.3 2.3M818.2 537.2l2.3 2.3m0 -2.3l-2.3 2.3M879.0 530.4l2.3 2.3m0 -2.3l-2.3 2.3M947.2 548.3l2.3 2.3m0 -2.3l-2.3 2.3M826.9 529.2l2.3 2.3m0 -2.3l-2.3 2.3M988.5 538.3l2.3 2.3m0 -2.3l-2.3 2.3M845.1 521.5l2.3 2.3m0 -2.3l-2.3 2.3M878.3 548.3l2.3 2.3m0 -2.3l-2.3 2.3M810.1 537.1l2.3 2.3m0 -2.3l-2.3 2.3M858.9 532.2l2.3 2.3m0 -2.3l-2.3 2.3M986.4 547.5l2.3 2.3m0 -2.3l-2.3 2.3M922.5 533.1l2.3 2.3m0 -2.3l-2.3 2.3M820.4 543.7l2.3 2.3m0 -2.3l-2.3 2.3M784.6 536.6l2.3 2.3m0 -2.3l-2.3 2.3M871.2 523.8l2.3 2.3m0 -2.3l-2.3 2.3M792.1 533.9l2.3 2.3m0 -2.3l-2.3 2.3M858.0 534.0l2.3 2.3m0 -2.3l-2.3 2.3M966.0 533.6l2.3 2.3m0 -2.3l-2.3 2.3M823.8 534.3l2.3 2.3m0 -2.3l-2.3 2.3M960.9 533.9l2.3 2.3m0 -2.3l-2.3 2.3M919.5 534.0l2.3 2.3m0 -2.3l-2.3 2.3M950.7 534.6l2.3 2.3m0 -2.3l-2.3 2.3M841.4 534.6l2.3 2.3m0 -2.3l-2.3 2.3M943.7 534.6l2.3 2.3m0 -2.3l-2.3 2.3M884.9 534.2l2.3 2.3m0 -2.3l-2.3 2.3M785.4 534.2l2.3 2.3m0 -2.3l-2.3 2.3M964.7 534.7l2.3 2.3m0 -2.3l-2.3 2.3M820.0 533.9l2.3 2.3m0 -2.3l-2.3 2.3M986.5 533.8l2.3 2.3m0 -2.3l-2.3 2.3M949.7 534.4l2.3 2.3m0 -2.3l-2.3 2.3M893.1 533.8l2.3 2.3m0 -2.3l-2.3 2.3M961.1 533.6l2.3 2.3m0 -2.3l-2.3 2.3M899.4 533.8l2.3 2.3m0 -2.3l-2.3 2.3M808.2 533.7l2.3 2.3m0 -2.3l-2.3 2.3M923.6 534.7l2.3 2.3m0 -2.3l-2.3 2.3M856.5 534.2l2.3 2.3m0 -2.3l-2.3 2.3M779.7 534.4l2.3 2.3m0 -2.3l-2.3 2.3M825.7 534.2l2.3 2.3m0 -2.3l-2.3 2.3M816.9 533.6l2.3 2.3m0 -2.3l-2.3 2.3M831.8 541.0l2.3 2.3m0 -2.3l-2.3 2.3M930.2 540.6l2.3 2.3m0 -2.3l-2.3 2.3M874.5 540.7l2.3 2.3m0 -2.3l-2.3 2.3M779.5 541.4l2.3 2.3m0 -2.3l-2.3 2.3M871.6 541.6l2.3 2.3m0 -2.3l-2.3 2.3M952.9 541.6l2.3 2.3m0 -2.3l-2.3 2.3M962.0 541.7l2.3 2.3m0 -2.3l-2.3 2.3M809.9 540.6l2.3 2.3m0 -2.3l-2.3 2.3M986.1 541.3l2.3 2.3m0 -2.3l-2.3 2.3M836.4 540.7l2.3 2.3m0 -2.3l-2.3 2.3M822.6 541.5l2.3 2.3m0 -2.3l-2.3 2.3M860.4 541.0l2.3 2.3m0 -2.3l-2.3 2.3M790.7 540.7l2.3 2.3m0 -2.3l-2.3 2.3M789.1 540.7l2.3 2.3m0 -2.3l-2.3 2.3M971.4 541.1l2.3 2.3m0 -2.3l-2.3 2.3M985.4 541.4l2.3 2.3m0 -2.3l-2.3 2.3M768.3 541.5l2.3 2.3m0 -2.3l-2.3 2.3M803.7 541.7l2.3 2.3m0 -2.3l-2.3 2.3M913.1 540.7l2.3 2.3m0 -2.3l-2.3 2.3M795.8 540.9l2.3 2.3m0 -2.3l-2.3 2.3M800.3 541.7l2.3 2.3m0 -2.3l-2.3 2.3M951.0 541.3l2.3 2.3m0 -2.3l-2.3 2.3M841.9 554.2l2.3 2.3m0 -2.3l-2.3 2.3M933.1 553.1l2.3 2.3m0 -2.3l-2.3 2.3M770.0 553.2l2.3 2.3m0 -2.3l-2.3 2.3M787.4 554.2l2.3 2.3m0 -2.3l-2.3 2.3M991.7 553.4l2.3 2.3m0 -2.3l-2.3 2.3M981.8 553.4l2.3 2.3m0 -2.3l-2.3 2.3M905.5 553.7l2.3 2.3m0 -2.3l-2.3 2.3M958.0 554.0l2.3 2.3m0 -2.3l-2.3 2.3M876.7 554.0l2.3 2.3m0 -2.3l-2.3 2.3M819.1 554.1l2.3 2.3m0 -2.3l-2.3 2.3M824.4 554.0l2.3 2.3m0 -2.3l-2.3 2.3M819.6 553.6l2.3 2.3m0 -2.3l-2.3 2.3M922.5 553.3l2.3 2.3m0 -2.3l-2.3 2.3M793.2 554.1l2.3 2.3m0 -2.3l-2.3 2.3M964.9 553.5l2.3 2.3m0 -2.3l-2.3 2.3M812.2 553.1l2.3 2.3m0 -2.3l-2.3 2.3M796.0 553.4l2.3 2.3m0 -2.3l-2.3 2.3M953.1 554.0l2.3 2.3m0 -2.3l-2.3 2.3M938.4 553.6l2.3 2.3m0 -2.3l-2.3 2.3M894.2 553.5l2.3 2.3m0 -2.3l-2.3 2.3M919.2 553.9l2.3 2.3m0 -2.3l-2.3 2.3M862.8 554.1l2.3 2.3m0 -2.3l-2.3 2.3M842.9 553.3l2.3 2.3m0 -2.3l-2.3 2.3M812.9 553.7l2.3 2.3m0 -2.3l-2.3 2.3M821.1 553.1l2.3 2.3m0 -2.3l-2.3 2.3M952.9 554.1l2.3 2.3m0 -2.3l-2.3 2.3M850.9 553.7l2.3 2.3m0 -2.3l-2.3 2.3M989.5 553.5l2.3 2.3m0 -2.3l-2.3 2.3M820.0 553.2l2.3 2.3m0 -2.3l-2.3 2.3M783.0 553.7l2.3 2.3m0 -2.3l-2.3 2.3M942.9 553.6l2.3 2.3m0 -2.3l-2.3 2.3M826.0 554.0l2.3 2.3m0 -2.3l-2.3 2.3M806.2 553.7l2.3 2.3m0 -2.3l-2.3 2.3M782.4 554.0l2.3 2.3m0 -2.3l-2.3 2.3M905.6 553.6l2.3 2.3m0 -2.3l-2.3 2.3M854.2 553.6l2.3 2.3m0 -2.3l-2.3 2.3"/><path stroke="#5b73f0" d="M940.3 529.9l2.3 2.3m0 -2.3l-2.3 2.3M924.6 531.9l2.3 2.3m0 -2.3l-2.3 2.3M844.5 532.4l2.3 2.3m0 -2.3l-2.3 2.3M978.3 539.3l2.3 2.3m0 -2.3l-2.3 2.3M835.1 545.3l2.3 2.3m0 -2.3l-2.3 2.3M978.2 546.0l2.3 2.3m0 -2.3l-2.3 2.3M959.8 547.0l2.3 2.3m0 -2.3l-2.3 2.3M800.5 546.4l2.3 2.3m0 -2.3l-2.3 2.3M790.2 545.2l2.3 2.3m0 -2.3l-2.3 2.3M938.9 539.6l2.3 2.3m0 -2.3l-2.3 2.3M932.7 526.6l2.3 2.3m0 -2.3l-2.3 2.3M944.3 536.0l2.3 2.3m0 -2.3l-2.3 2.3M849.0 530.8l2.3 2.3m0 -2.3l-2.3 2.3M780.3 548.1l2.3 2.3m0 -2.3l-2.3 2.3M776.7 521.8l2.3 2.3m0 -2.3l-2.3 2.3M861.3 525.3l2.3 2.3m0 -2.3l-2.3 2.3M797.0 540.9l2.3 2.3m0 -2.3l-2.3 2.3M867.9 531.3l2.3 2.3m0 -2.3l-2.3 2.3M974.5 525.0l2.3 2.3m0 -2.3l-2.3 2.3M768.3 529.4l2.3 2.3m0 -2.3l-2.3 2.3M865.4 523.2l2.3 2.3m0 -2.3l-2.3 2.3M818.1 544.1l2.3 2.3m0 -2.3l-2.3 2.3M788.1 530.7l2.3 2.3m0 -2.3l-2.3 2.3M820.3 546.6l2.3 2.3m0 -2.3l-2.3 2.3M976.5 538.9l2.3 2.3m0 -2.3l-2.3 2.3M961.8 542.4l2.3 2.3m0 -2.3l-2.3 2.3M825.4 542.5l2.3 2.3m0 -2.3l-2.3 2.3M839.9 546.8l2.3 2.3m0 -2.3l-2.3 2.3M833.6 533.8l2.3 2.3m0 -2.3l-2.3 2.3M990.0 522.7l2.3 2.3m0 -2.3l-2.3 2.3M944.1 546.5l2.3 2.3m0 -2.3l-2.3 2.3M897.9 532.6l2.3 2.3m0 -2.3l-2.3 2.3M884.6 526.2l2.3 2.3m0 -2.3l-2.3 2.3M825.7 543.2l2.3 2.3m0 -2.3l-2.3 2.3M981.6 545.7l2.3 2.3m0 -2.3l-2.3 2.3M919.5 538.1l2.3 2.3m0 -2.3l-2.3 2.3M777.3 534.1l2.3 2.3m0 -2.3l-2.3 2.3M842.4 534.4l2.3 2.3m0 -2.3l-2.3 2.3M838.6 534.4l2.3 2.3m0 -2.3l-2.3 2.3M918.3 533.7l2.3 2.3m0 -2.3l-2.3 2.3M863.0 533.6l2.3 2.3m0 -2.3l-2.3 2.3M821.5 533.8l2.3 2.3m0 -2.3l-2.3 2.3M971.5 534.3l2.3 2.3m0 -2.3l-2.3 2.3M956.8 534.4l2.3 2.3m0 -2.3l-2.3 2.3M775.5 534.4l2.3 2.3m0 -2.3l-2.3 2.3M885.9 534.0l2.3 2.3m0 -2.3l-2.3 2.3M799.5 534.4l2.3 2.3m0 -2.3l-2.3 2.3M769.5 533.8l2.3 2.3m0 -2.3l-2.3 2.3M899.2 533.9l2.3 2.3m0 -2.3l-2.3 2.3M989.7 533.6l2.3 2.3m0 -2.3l-2.3 2.3M899.1 534.2l2.3 2.3m0 -2.3l-2.3 2.3M913.9 533.8l2.3 2.3m0 -2.3l-2.3 2.3M982.3 534.2l2.3 2.3m0 -2.3l-2.3 2.3M796.7 533.8l2.3 2.3m0 -2.3l-2.3 2.3M928.8 533.6l2.3 2.3m0 -2.3l-2.3 2.3M798.4 533.7l2.3 2.3m0 -2.3l-2.3 2.3M851.3 533.7l2.3 2.3m0 -2.3l-2.3 2.3M796.3 534.0l2.3 2.3m0 -2.3l-2.3 2.3M781.6 534.2l2.3 2.3m0 -2.3l-2.3 2.3M834.6 534.7l2.3 2.3m0 -2.3l-2.3 2.3M808.7 534.0l2.3 2.3m0 -2.3l-2.3 2.3M964.9 534.7l2.3 2.3m0 -2.3l-2.3 2.3M832.3 533.8l2.3 2.3m0 -2.3l-2.3 2.3M938.6 533.7l2.3 2.3m0 -2.3l-2.3 2.3M866.4 534.6l2.3 2.3m0 -2.3l-2.3 2.3M871.3 534.2l2.3 2.3m0 -2.3l-2.3 2.3M984.6 533.6l2.3 2.3m0 -2.3l-2.3 2.3M868.3 534.6l2.3 2.3m0 -2.3l-2.3 2.3M909.8 540.8l2.3 2.3m0 -2.3l-2.3 2.3M958.9 540.6l2.3 2.3m0 -2.3l-2.3 2.3M775.4 541.0l2.3 2.3m0 -2.3l-2.3 2.3M840.4 540.8l2.3 2.3m0 -2.3l-2.3 2.3M797.5 541.5l2.3 2.3m0 -2.3l-2.3 2.3M812.2 541.3l2.3 2.3m0 -2.3l-2.3 2.3M859.5 541.7l2.3 2.3m0 -2.3l-2.3 2.3M870.1 540.7l2.3 2.3m0 -2.3l-2.3 2.3M971.7 541.5l2.3 2.3m0 -2.3l-2.3 2.3M808.3 540.7l2.3 2.3m0 -2.3l-2.3 2.3M785.3 541.2l2.3 2.3m0 -2.3l-2.3 2.3M832.0 540.9l2.3 2.3m0 -2.3l-2.3 2.3M795.0 540.9l2.3 2.3m0 -2.3l-2.3 2.3M785.8 540.7l2.3 2.3m0 -2.3l-2.3 2.3M765.1 541.2l2.3 2.3m0 -2.3l-2.3 2.3M977.6 540.8l2.3 2.3m0 -2.3l-2.3 2.3M847.8 541.1l2.3 2.3m0 -2.3l-2.3 2.3M790.8 541.5l2.3 2.3m0 -2.3l-2.3 2.3M807.1 541.5l2.3 2.3m0 -2.3l-2.3 2.3M774.8 541.1l2.3 2.3m0 -2.3l-2.3 2.3M901.3 541.7l2.3 2.3m0 -2.3l-2.3 2.3M961.3 541.2l2.3 2.3m0 -2.3l-2.3 2.3M899.9 541.4l2.3 2.3m0 -2.3l-2.3 2.3M954.7 541.2l2.3 2.3m0 -2.3l-2.3 2.3M900.7 541.6l2.3 2.3m0 -2.3l-2.3 2.3M900.9 540.7l2.3 2.3m0 -2.3l-2.3 2.3M965.8 541.7l2.3 2.3m0 -2.3l-2.3 2.3M863.6 541.3l2.3 2.3m0 -2.3l-2.3 2.3M989.7 541.7l2.3 2.3m0 -2.3l-2.3 2.3M914.3 540.7l2.3 2.3m0 -2.3l-2.3 2.3M804.3 541.4l2.3 2.3m0 -2.3l-2.3 2.3M955.0 540.6l2.3 2.3m0 -2.3l-2.3 2.3M881.1 541.5l2.3 2.3m0 -2.3l-2.3 2.3M919.3 541.2l2.3 2.3m0 -2.3l-2.3 2.3M781.0 553.8l2.3 2.3m0 -2.3l-2.3 2.3M957.7 553.7l2.3 2.3m0 -2.3l-2.3 2.3M916.5 553.8l2.3 2.3m0 -2.3l-2.3 2.3M880.6 553.5l2.3 2.3m0 -2.3l-2.3 2.3M822.3 554.0l2.3 2.3m0 -2.3l-2.3 2.3M765.1 554.0l2.3 2.3m0 -2.3l-2.3 2.3M877.5 553.6l2.3 2.3m0 -2.3l-2.3 2.3M811.4 554.2l2.3 2.3m0 -2.3l-2.3 2.3M875.5 553.6l2.3 2.3m0 -2.3l-2.3 2.3M784.0 553.1l2.3 2.3m0 -2.3l-2.3 2.3M780.1 553.4l2.3 2.3m0 -2.3l-2.3 2.3M765.4 554.2l2.3 2.3m0 -2.3l-2.3 2.3M786.7 553.7l2.3 2.3m0 -2.3l-2.3 2.3M768.1 553.4l2.3 2.3m0 -2.3l-2.3 2.3M797.9 553.7l2.3 2.3m0 -2.3l-2.3 2.3M873.8 553.3l2.3 2.3m0 -2.3l-2.3 2.3M945.5 554.2l2.3 2.3m0 -2.3l-2.3 2.3M789.5 553.2l2.3 2.3m0 -2.3l-2.3 2.3M899.0 553.4l2.3 2.3m0 -2.3l-2.3 2.3M811.7 553.3l2.3 2.3m0 -2.3l-2.3 2.3M826.8 553.5l2.3 2.3m0 -2.3l-2.3 2.3M817.5 553.8l2.3 2.3m0 -2.3l-2.3 2.3M928.4 553.3l2.3 2.3m0 -2.3l-2.3 2.3M967.0 554.0l2.3 2.3m0 -2.3l-2.3 2.3M884.3 553.4l2.3 2.3m0 -2.3l-2.3 2.3M800.4 553.6l2.3 2.3m0 -2.3l-2.3 2.3M905.6 553.4l2.3 2.3m0 -2.3l-2.3 2.3M988.0 554.0l2.3 2.3m0 -2.3l-2.3 2.3"/><path stroke="#8fc98a" d="M843.5 525.4l2.3 2.3m0 -2.3l-2.3 2.3M923.2 527.4l2.3 2.3m0 -2.3l-2.3 2.3M823.2 522.6l2.3 2.3m0 -2.3l-2.3 2.3M935.8 523.7l2.3 2.3m0 -2.3l-2.3 2.3M840.4 525.1l2.3 2.3m0 -2.3l-2.3 2.3M938.5 537.2l2.3 2.3m0 -2.3l-2.3 2.3M987.8 523.9l2.3 2.3m0 -2.3l-2.3 2.3M769.5 535.9l2.3 2.3m0 -2.3l-2.3 2.3M794.7 534.4l2.3 2.3m0 -2.3l-2.3 2.3M823.8 522.4l2.3 2.3m0 -2.3l-2.3 2.3M813.9 538.8l2.3 2.3m0 -2.3l-2.3 2.3M983.0 526.3l2.3 2.3m0 -2.3l-2.3 2.3M806.7 535.6l2.3 2.3m0 -2.3l-2.3 2.3M795.5 529.3l2.3 2.3m0 -2.3l-2.3 2.3M894.6 546.0l2.3 2.3m0 -2.3l-2.3 2.3M768.2 542.4l2.3 2.3m0 -2.3l-2.3 2.3M804.7 525.0l2.3 2.3m0 -2.3l-2.3 2.3M867.3 527.0l2.3 2.3m0 -2.3l-2.3 2.3M823.9 535.5l2.3 2.3m0 -2.3l-2.3 2.3M895.0 521.5l2.3 2.3m0 -2.3l-2.3 2.3M817.6 529.3l2.3 2.3m0 -2.3l-2.3 2.3M815.5 523.0l2.3 2.3m0 -2.3l-2.3 2.3M879.2 525.3l2.3 2.3m0 -2.3l-2.3 2.3M779.2 521.5l2.3 2.3m0 -2.3l-2.3 2.3M862.4 537.3l2.3 2.3m0 -2.3l-2.3 2.3M801.8 535.1l2.3 2.3m0 -2.3l-2.3 2.3M938.6 547.0l2.3 2.3m0 -2.3l-2.3 2.3M786.9 540.1l2.3 2.3m0 -2.3l-2.3 2.3M893.9 522.4l2.3 2.3m0 -2.3l-2.3 2.3M986.5 525.3l2.3 2.3m0 -2.3l-2.3 2.3M987.8 545.2l2.3 2.3m0 -2.3l-2.3 2.3M822.6 537.9l2.3 2.3m0 -2.3l-2.3 2.3M936.6 535.6l2.3 2.3m0 -2.3l-2.3 2.3M863.4 532.0l2.3 2.3m0 -2.3l-2.3 2.3M974.8 534.9l2.3 2.3m0 -2.3l-2.3 2.3M904.5 526.0l2.3 2.3m0 -2.3l-2.3 2.3M943.5 537.2l2.3 2.3m0 -2.3l-2.3 2.3M864.0 534.1l2.3 2.3m0 -2.3l-2.3 2.3M812.8 533.6l2.3 2.3m0 -2.3l-2.3 2.3M926.5 534.0l2.3 2.3m0 -2.3l-2.3 2.3M894.1 534.7l2.3 2.3m0 -2.3l-2.3 2.3M914.0 533.7l2.3 2.3m0 -2.3l-2.3 2.3M906.7 534.0l2.3 2.3m0 -2.3l-2.3 2.3M828.7 534.2l2.3 2.3m0 -2.3l-2.3 2.3M837.4 534.3l2.3 2.3m0 -2.3l-2.3 2.3M925.2 533.8l2.3 2.3m0 -2.3l-2.3 2.3M962.9 533.8l2.3 2.3m0 -2.3l-2.3 2.3M821.3 533.9l2.3 2.3m0 -2.3l-2.3 2.3M868.4 534.2l2.3 2.3m0 -2.3l-2.3 2.3M781.7 533.8l2.3 2.3m0 -2.3l-2.3 2.3M888.2 534.2l2.3 2.3m0 -2.3l-2.3 2.3M773.7 533.9l2.3 2.3m0 -2.3l-2.3 2.3M982.3 533.9l2.3 2.3m0 -2.3l-2.3 2.3M969.4 534.4l2.3 2.3m0 -2.3l-2.3 2.3M822.4 533.7l2.3 2.3m0 -2.3l-2.3 2.3M988.0 534.0l2.3 2.3m0 -2.3l-2.3 2.3M905.5 534.4l2.3 2.3m0 -2.3l-2.3 2.3M971.0 533.6l2.3 2.3m0 -2.3l-2.3 2.3M907.4 534.6l2.3 2.3m0 -2.3l-2.3 2.3M932.9 534.6l2.3 2.3m0 -2.3l-2.3 2.3M968.7 534.2l2.3 2.3m0 -2.3l-2.3 2.3M826.0 534.2l2.3 2.3m0 -2.3l-2.3 2.3M907.6 533.9l2.3 2.3m0 -2.3l-2.3 2.3M981.7 534.0l2.3 2.3m0 -2.3l-2.3 2.3M902.3 534.2l2.3 2.3m0 -2.3l-2.3 2.3M810.0 534.2l2.3 2.3m0 -2.3l-2.3 2.3M765.3 533.9l2.3 2.3m0 -2.3l-2.3 2.3M809.1 534.4l2.3 2.3m0 -2.3l-2.3 2.3M958.4 533.7l2.3 2.3m0 -2.3l-2.3 2.3M793.9 534.3l2.3 2.3m0 -2.3l-2.3 2.3M918.6 541.7l2.3 2.3m0 -2.3l-2.3 2.3M890.3 541.7l2.3 2.3m0 -2.3l-2.3 2.3M881.7 541.2l2.3 2.3m0 -2.3l-2.3 2.3M821.3 541.2l2.3 2.3m0 -2.3l-2.3 2.3M963.4 541.3l2.3 2.3m0 -2.3l-2.3 2.3M877.5 541.3l2.3 2.3m0 -2.3l-2.3 2.3M857.2 541.3l2.3 2.3m0 -2.3l-2.3 2.3M911.8 541.0l2.3 2.3m0 -2.3l-2.3 2.3M872.3 540.8l2.3 2.3m0 -2.3l-2.3 2.3M976.6 541.5l2.3 2.3m0 -2.3l-2.3 2.3M960.4 541.7l2.3 2.3m0 -2.3l-2.3 2.3M970.2 540.8l2.3 2.3m0 -2.3l-2.3 2.3M937.0 540.8l2.3 2.3m0 -2.3l-2.3 2.3M971.0 540.7l2.3 2.3m0 -2.3l-2.3 2.3M912.0 541.4l2.3 2.3m0 -2.3l-2.3 2.3M920.4 541.4l2.3 2.3m0 -2.3l-2.3 2.3M775.1 541.0l2.3 2.3m0 -2.3l-2.3 2.3M916.6 540.8l2.3 2.3m0 -2.3l-2.3 2.3M771.7 540.9l2.3 2.3m0 -2.3l-2.3 2.3M841.2 540.8l2.3 2.3m0 -2.3l-2.3 2.3M939.4 541.4l2.3 2.3m0 -2.3l-2.3 2.3M871.9 541.5l2.3 2.3m0 -2.3l-2.3 2.3M976.9 540.6l2.3 2.3m0 -2.3l-2.3 2.3M776.6 540.9l2.3 2.3m0 -2.3l-2.3 2.3M786.9 541.0l2.3 2.3m0 -2.3l-2.3 2.3M850.8 541.4l2.3 2.3m0 -2.3l-2.3 2.3M917.5 540.7l2.3 2.3m0 -2.3l-2.3 2.3M844.2 541.7l2.3 2.3m0 -2.3l-2.3 2.3M943.4 541.6l2.3 2.3m0 -2.3l-2.3 2.3M889.3 541.1l2.3 2.3m0 -2.3l-2.3 2.3M958.8 540.8l2.3 2.3m0 -2.3l-2.3 2.3M854.9 553.1l2.3 2.3m0 -2.3l-2.3 2.3M895.7 553.4l2.3 2.3m0 -2.3l-2.3 2.3M903.6 553.9l2.3 2.3m0 -2.3l-2.3 2.3M779.7 553.5l2.3 2.3m0 -2.3l-2.3 2.3M990.8 553.2l2.3 2.3m0 -2.3l-2.3 2.3M833.5 553.8l2.3 2.3m0 -2.3l-2.3 2.3M793.4 553.7l2.3 2.3m0 -2.3l-2.3 2.3M960.9 553.9l2.3 2.3m0 -2.3l-2.3 2.3M844.2 554.0l2.3 2.3m0 -2.3l-2.3 2.3M848.4 554.2l2.3 2.3m0 -2.3l-2.3 2.3M895.7 554.0l2.3 2.3m0 -2.3l-2.3 2.3M830.6 553.6l2.3 2.3m0 -2.3l-2.3 2.3M936.7 554.1l2.3 2.3m0 -2.3l-2.3 2.3M888.6 553.1l2.3 2.3m0 -2.3l-2.3 2.3M971.8 553.9l2.3 2.3m0 -2.3l-2.3 2.3M930.1 553.7l2.3 2.3m0 -2.3l-2.3 2.3M981.4 553.7l2.3 2.3m0 -2.3l-2.3 2.3M864.6 554.1l2.3 2.3m0 -2.3l-2.3 2.3M784.2 553.3l2.3 2.3m0 -2.3l-2.3 2.3M959.0 553.5l2.3 2.3m0 -2.3l-2.3 2.3M944.7 553.8l2.3 2.3m0 -2.3l-2.3 2.3"/><path stroke="#5a79ef" d="M814.4 526.4l2.3 2.3m0 -2.3l-2.3 2.3M916.4 528.9l2.3 2.3m0 -2.3l-2.3 2.3M771.4 543.1l2.3 2.3m0 -2.3l-2.3 2.3M799.4 531.8l2.3 2.3m0 -2.3l-2.3 2.3M958.9 537.9l2.3 2.3m0 -2.3l-2.3 2.3M782.0 536.2l2.3 2.3m0 -2.3l-2.3 2.3M833.5 520.9l2.3 2.3m0 -2.3l-2.3 2.3M986.0 548.1l2.3 2.3m0 -2.3l-2.3 2.3M782.7 534.5l2.3 2.3m0 -2.3l-2.3 2.3M976.7 523.3l2.3 2.3m0 -2.3l-2.3 2.3M921.1 535.4l2.3 2.3m0 -2.3l-2.3 2.3M806.8 539.8l2.3 2.3m0 -2.3l-2.3 2.3M897.1 528.5l2.3 2.3m0 -2.3l-2.3 2.3M887.5 536.7l2.3 2.3m0 -2.3l-2.3 2.3M986.8 521.5l2.3 2.3m0 -2.3l-2.3 2.3M841.3 544.6l2.3 2.3m0 -2.3l-2.3 2.3M848.7 534.1l2.3 2.3m0 -2.3l-2.3 2.3M797.3 521.6l2.3 2.3m0 -2.3l-2.3 2.3M822.7 546.1l2.3 2.3m0 -2.3l-2.3 2.3M830.8 547.5l2.3 2.3m0 -2.3l-2.3 2.3M840.5 528.7l2.3 2.3m0 -2.3l-2.3 2.3M776.7 530.8l2.3 2.3m0 -2.3l-2.3 2.3M960.0 544.8l2.3 2.3m0 -2.3l-2.3 2.3M958.3 534.5l2.3 2.3m0 -2.3l-2.3 2.3M954.5 534.4l2.3 2.3m0 -2.3l-2.3 2.3M914.5 534.4l2.3 2.3m0 -2.3l-2.3 2.3M832.1 534.4l2.3 2.3m0 -2.3l-2.3 2.3M813.1 533.9l2.3 2.3m0 -2.3l-2.3 2.3M988.9 533.7l2.3 2.3m0 -2.3l-2.3 2.3M827.1 534.2l2.3 2.3m0 -2.3l-2.3 2.3M827.0 534.0l2.3 2.3m0 -2.3l-2.3 2.3M907.0 534.6l2.3 2.3m0 -2.3l-2.3 2.3M865.2 534.5l2.3 2.3m0 -2.3l-2.3 2.3M815.6 533.8l2.3 2.3m0 -2.3l-2.3 2.3M938.2 534.1l2.3 2.3m0 -2.3l-2.3 2.3M938.9 534.4l2.3 2.3m0 -2.3l-2.3 2.3M770.4 533.9l2.3 2.3m0 -2.3l-2.3 2.3M845.0 534.7l2.3 2.3m0 -2.3l-2.3 2.3M859.6 534.6l2.3 2.3m0 -2.3l-2.3 2.3M871.0 533.9l2.3 2.3m0 -2.3l-2.3 2.3M881.0 533.9l2.3 2.3m0 -2.3l-2.3 2.3M772.1 534.5l2.3 2.3m0 -2.3l-2.3 2.3M814.1 534.1l2.3 2.3m0 -2.3l-2.3 2.3M913.5 533.6l2.3 2.3m0 -2.3l-2.3 2.3M876.5 534.0l2.3 2.3m0 -2.3l-2.3 2.3M972.5 533.8l2.3 2.3m0 -2.3l-2.3 2.3M874.8 533.6l2.3 2.3m0 -2.3l-2.3 2.3M898.9 534.4l2.3 2.3m0 -2.3l-2.3 2.3M984.3 533.8l2.3 2.3m0 -2.3l-2.3 2.3M952.0 534.4l2.3 2.3m0 -2.3l-2.3 2.3M930.2 534.6l2.3 2.3m0 -2.3l-2.3 2.3M958.3 541.1l2.3 2.3m0 -2.3l-2.3 2.3M800.4 540.9l2.3 2.3m0 -2.3l-2.3 2.3M830.7 541.1l2.3 2.3m0 -2.3l-2.3 2.3M798.7 541.1l2.3 2.3m0 -2.3l-2.3 2.3M950.2 540.8l2.3 2.3m0 -2.3l-2.3 2.3M785.2 541.2l2.3 2.3m0 -2.3l-2.3 2.3M904.1 541.5l2.3 2.3m0 -2.3l-2.3 2.3M885.4 541.3l2.3 2.3m0 -2.3l-2.3 2.3M783.6 541.4l2.3 2.3m0 -2.3l-2.3 2.3M768.3 541.1l2.3 2.3m0 -2.3l-2.3 2.3M875.6 540.9l2.3 2.3m0 -2.3l-2.3 2.3M879.2 540.8l2.3 2.3m0 -2.3l-2.3 2.3M800.3 541.7l2.3 2.3m0 -2.3l-2.3 2.3M893.0 540.9l2.3 2.3m0 -2.3l-2.3 2.3M825.5 541.5l2.3 2.3m0 -2.3l-2.3 2.3M941.3 541.5l2.3 2.3m0 -2.3l-2.3 2.3M833.6 541.1l2.3 2.3m0 -2.3l-2.3 2.3M826.2 540.9l2.3 2.3m0 -2.3l-2.3 2.3M945.6 540.7l2.3 2.3m0 -2.3l-2.3 2.3M846.6 541.1l2.3 2.3m0 -2.3l-2.3 2.3M833.1 541.7l2.3 2.3m0 -2.3l-2.3 2.3M954.0 541.5l2.3 2.3m0 -2.3l-2.3 2.3M980.1 540.7l2.3 2.3m0 -2.3l-2.3 2.3M821.3 540.8l2.3 2.3m0 -2.3l-2.3 2.3M948.0 540.7l2.3 2.3m0 -2.3l-2.3 2.3M852.1 541.2l2.3 2.3m0 -2.3l-2.3 2.3M976.3 541.6l2.3 2.3m0 -2.3l-2.3 2.3M793.9 541.0l2.3 2.3m0 -2.3l-2.3 2.3M938.1 541.7l2.3 2.3m0 -2.3l-2.3 2.3M957.5 541.5l2.3 2.3m0 -2.3l-2.3 2.3M903.1 553.9l2.3 2.3m0 -2.3l-2.3 2.3M869.2 553.1l2.3 2.3m0 -2.3l-2.3 2.3M901.5 553.3l2.3 2.3m0 -2.3l-2.3 2.3M899.6 554.1l2.3 2.3m0 -2.3l-2.3 2.3M973.1 553.1l2.3 2.3m0 -2.3l-2.3 2.3M854.5 553.2l2.3 2.3m0 -2.3l-2.3 2.3M831.0 553.6l2.3 2.3m0 -2.3l-2.3 2.3M821.1 553.2l2.3 2.3m0 -2.3l-2.3 2.3M940.8 553.2l2.3 2.3m0 -2.3l-2.3 2.3M795.4 554.2l2.3 2.3m0 -2.3l-2.3 2.3M957.2 554.2l2.3 2.3m0 -2.3l-2.3 2.3M815.6 553.9l2.3 2.3m0 -2.3l-2.3 2.3M924.1 553.4l2.3 2.3m0 -2.3l-2.3 2.3M983.6 554.0l2.3 2.3m0 -2.3l-2.3 2.3M788.2 553.1l2.3 2.3m0 -2.3l-2.3 2.3M972.7 554.2l2.3 2.3m0 -2.3l-2.3 2.3M765.7 553.7l2.3 2.3m0 -2.3l-2.3 2.3M842.9 554.1l2.3 2.3m0 -2.3l-2.3 2.3M803.5 553.9l2.3 2.3m0 -2.3l-2.3 2.3M871.7 553.5l2.3 2.3m0 -2.3l-2.3 2.3M899.7 553.8l2.3 2.3m0 -2.3l-2.3 2.3M966.5 553.7l2.3 2.3m0 -2.3l-2.3 2.3M903.3 554.1l2.3 2.3m0 -2.3l-2.3 2.3M919.3 554.0l2.3 2.3m0 -2.3l-2.3 2.3M814.2 553.5l2.3 2.3m0 -2.3l-2.3 2.3M799.8 553.1l2.3 2.3m0 -2.3l-2.3 2.3M790.6 553.1l2.3 2.3m0 -2.3l-2.3 2.3M901.9 554.2l2.3 2.3m0 -2.3l-2.3 2.3M957.0 553.7l2.3 2.3m0 -2.3l-2.3 2.3M918.8 553.7l2.3 2.3m0 -2.3l-2.3 2.3M900.2 553.4l2.3 2.3m0 -2.3l-2.3 2.3M871.8 554.2l2.3 2.3m0 -2.3l-2.3 2.3M897.7 553.9l2.3 2.3m0 -2.3l-2.3 2.3M897.7 554.2l2.3 2.3m0 -2.3l-2.3 2.3M876.7 554.1l2.3 2.3m0 -2.3l-2.3 2.3M806.9 554.2l2.3 2.3m0 -2.3l-2.3 2.3M877.3 554.2l2.3 2.3m0 -2.3l-2.3 2.3M917.4 553.5l2.3 2.3m0 -2.3l-2.3 2.3M825.8 554.1l2.3 2.3m0 -2.3l-2.3 2.3M874.0 553.2l2.3 2.3m0 -2.3l-2.3 2.3M962.3 553.2l2.3 2.3m0 -2.3l-2.3 2.3M826.4 553.7l2.3 2.3m0 -2.3l-2.3 2.3M818.7 554.2l2.3 2.3m0 -2.3l-2.3 2.3M990.3 553.8l2.3 2.3m0 -2.3l-2.3 2.3M883.5 553.7l2.3 2.3m0 -2.3l-2.3 2.3"/></g></svg>
<div class="ab" style="left:876.00px;top:467.70px;width:53.70px;height:54.00px;background:rgba(232,222,252,0.6);"></div>
<div class="t" style="left:931.2px;top:510.3px;width:16.6px;height:11.3px;background:#333;border-radius:1.5px;color:#fff;font-size:7.6px;line-height:11.3px;text-align:center">149</div>
<div class="t" style="left:741.50px;top:538.00px;font-size:8px;color:#777;">2,000</div>
<div class="t" style="left:851.30px;top:565.00px;font-size:8px;color:#888;">15:09</div>
<div class="t" style="left:966.00px;top:565.00px;font-size:8px;color:#888;">15:14</div>
<div class="t" style="left:170.00px;top:535.00px;font-size:7.6px;color:#888;width:12.60px;text-align:right;">1</div>
<div class="t" style="left:166.00px;top:545.00px;font-size:7.6px;color:#888;width:16.90px;text-align:right;">0.5</div>
<div class="ab" style="left:184.60px;top:538.00px;width:243.00px;height:0.70px;background:#f0f0f0;"></div>
<div class="ab" style="left:184.60px;top:547.80px;width:243.00px;height:0.70px;background:#f0f0f0;"></div>
<div class="ab" style="left:184.60px;top:556.60px;width:243.00px;height:1.30px;background:#e0e0e0;"></div>
<div class="t" style="left:234.00px;top:565.00px;font-size:7.8px;color:#999;">15:11</div>
<div class="t" style="left:331.00px;top:565.00px;font-size:7.8px;color:#999;">15:13</div>
<div class="t" style="left:450.00px;top:535.00px;font-size:7.8px;color:#888;width:25.10px;text-align:right;">5,200</div>
<div class="t" style="left:450.00px;top:554.00px;font-size:7.8px;color:#888;width:25.10px;text-align:right;">200</div>
<div class="ab" style="left:476.20px;top:538.00px;width:234.50px;height:0.70px;background:#f0f0f0;"></div>
<div class="ab" style="left:476.20px;top:556.90px;width:234.50px;height:1.30px;background:#e0e0e0;"></div>
<svg class="ab" style="left:0;top:0" width="1024" height="673" viewBox="0 0 1024 673"><polyline points="476.2,541.0 477.5,544.9 478.8,547.0 480.1,547.7 481.4,541.5 482.7,550.2 484.0,547.0 485.3,548.2 486.6,548.3 487.9,546.5 489.2,550.4 490.5,549.7 491.8,546.0 493.1,548.9 494.4,545.9 495.7,548.3 497.0,550.4 498.3,550.7 499.6,550.0 500.9,550.8 502.2,542.3 503.5,550.9 504.8,549.1 506.1,548.4 507.4,547.6 508.7,548.9 510.0,549.4 511.3,550.3 512.6,549.3 513.9,550.3 515.2,550.6 516.5,549.6 517.8,550.2 519.1,544.5 520.4,544.3 521.7,547.9 523.0,547.3 524.3,543.7 525.6,545.9 526.9,547.5 528.2,551.0 529.5,551.1 530.8,546.1 532.1,545.9 533.4,547.9 534.7,544.5 536.0,547.4 537.3,550.5 538.6,548.2 539.9,549.2 541.2,548.7 542.5,550.8 543.8,548.0 545.1,547.0 546.4,551.0 547.7,543.0 549.0,543.7 550.3,543.7 551.6,548.2 552.9,547.6 554.2,541.7 555.5,549.4 556.8,547.1 558.1,548.9 559.4,547.7 560.7,547.7 562.0,547.3 563.3,543.5 564.6,549.7 565.9,546.9 567.2,547.0 568.5,548.1 569.8,546.2 571.1,547.5 572.4,548.1 573.7,546.6 575.0,549.2 576.3,548.1 577.6,546.4 578.9,546.7 580.2,550.2 581.5,547.2 582.8,549.2 584.1,542.5 585.4,550.0 586.7,547.6 588.0,548.0 589.3,550.7 590.6,545.7 591.9,550.5 593.2,548.0 594.5,550.7 595.8,549.7 597.1,549.3 598.4,547.3 599.7,543.6 601.0,547.2 602.3,545.9 603.6,549.4 604.9,550.5 606.2,544.1 607.5,546.6 608.8,549.3 610.1,547.9 611.4,549.0 612.7,547.1 614.0,548.3 615.3,541.5 616.6,541.5 617.9,546.6 619.2,550.7 620.5,543.7 621.8,542.4 623.1,547.2 624.4,548.0 625.7,541.7 627.0,541.7 628.3,551.0 629.6,546.2 630.9,547.4 632.2,547.6 633.5,548.9 634.8,546.7 636.1,546.4 637.4,549.6 638.7,546.1 640.0,547.7 641.3,549.9 642.6,550.0 643.9,548.0 645.2,548.4 646.5,548.0 647.8,548.2 649.1,539.0 650.4,539.0 651.7,548.0 653.0,550.8 654.3,550.5 655.6,547.1 656.9,546.4 658.2,549.3 659.5,550.0 660.8,549.7 662.1,546.3 663.4,545.7 664.7,541.8 666.0,546.2 667.3,544.4 668.6,546.4 669.9,549.3 671.2,550.8 672.5,544.2 673.8,548.5 675.1,546.3 676.4,542.6 677.7,548.7 679.0,547.0 680.3,547.0 681.6,549.8 682.9,547.7 684.2,547.6 685.5,546.1 686.8,551.0 688.1,549.7 689.4,549.4 690.7,549.3 692.0,548.3 693.3,550.5 694.6,546.2 695.9,550.6 697.2,548.1 698.5,546.7 699.8,546.8 701.1,547.4 702.4,549.4 703.7,547.3 705.0,547.9 706.3,548.9 707.6,543.2 708.9,547.8" fill="none" stroke="#48c97c" stroke-width="1.3" stroke-linejoin="round"/><circle cx="649.5" cy="538.3" r="2.3" fill="#48c97c"/></svg>
<div class="t" style="left:639.50px;top:528.00px;font-size:8px;color:#222;font-weight:bold;">5,106</div>
<div class="t" style="left:524.20px;top:565.00px;font-size:7.8px;color:#999;">15:11</div>
<div class="t" style="left:617.20px;top:565.00px;font-size:7.8px;color:#999;">15:13</div>
<div class="t" style="left:172.40px;top:593.00px;width:76.10px;font-size:7.55px;color:#333;text-align:justify;text-align-last:justify;-webkit-text-stroke:0.3px currentColor;font-weight:bold;-webkit-text-stroke:0.45px currentColor;">1時間あたりヒット数</div>
<div class="ab" style="left:381.30px;top:587.20px;width:18.10px;height:18.40px;background:#e4f6ea;border-radius:3px"></div>
<svg class="ab" style="left:385.40px;top:591.60px;" width="10" height="10" viewBox="0 0 10 10"><g stroke="#3f9f65" stroke-width="1.1" fill="none"><path d="M5.2 0.4 V3.2 M4.6 6.4 V9.4 M0.4 4.9 H2.8 M7 4.9 H9.6"/><path d="M3.6 3.6 L5.8 3.6 L5 6 L3.8 6.4" stroke-width="0.8"/></g></svg>
<svg class="ab" style="left:403.80px;top:591.10px;" width="10" height="10" viewBox="0 0 10 10"><circle cx="5" cy="5" r="4.3" fill="none" stroke="#444" stroke-width="0.9"/><rect x="4.45" y="2.3" width="1.1" height="3.6" fill="#444"/><rect x="4.45" y="6.6" width="1.1" height="1.1" fill="#444"/></svg>
<div class="ab" style="left:423.40px;top:595.50px;width:1.30px;height:1.30px;background:#555;border-radius:1px"></div>
<div class="ab" style="left:426.20px;top:595.50px;width:1.30px;height:1.30px;background:#555;border-radius:1px"></div>
<div class="ab" style="left:429.00px;top:595.50px;width:1.30px;height:1.30px;background:#555;border-radius:1px"></div>
<div class="t" style="left:133.20px;top:616.00px;font-size:7.8px;color:#999;width:59.00px;text-align:right;">16K</div>
<div class="t" style="left:133.20px;top:630.00px;font-size:7.8px;color:#999;width:59.00px;text-align:right;">6,000</div>
<div class="ab" style="left:193.20px;top:619.00px;width:229.00px;height:0.70px;background:#f2f2f2;"></div>
<div class="ab" style="left:193.20px;top:639.80px;width:229.00px;height:1.00px;background:#eeeeee;"></div>
<div class="ab" style="left:195.50px;top:630.98px;width:4.00px;height:8.55px;background:#45c878;border-radius:2px"></div>
<div class="ab" style="left:205.31px;top:633.40px;width:4.00px;height:6.12px;background:#45c878;border-radius:2px"></div>
<div class="ab" style="left:215.12px;top:635.02px;width:4.00px;height:4.50px;background:#45c878;border-radius:2px"></div>
<div class="ab" style="left:224.93px;top:635.02px;width:4.00px;height:4.50px;background:#45c878;border-radius:2px"></div>
<div class="ab" style="left:234.74px;top:636.37px;width:4.00px;height:3.16px;background:#45c878;border-radius:2px"></div>
<div class="ab" style="left:244.55px;top:636.10px;width:4.00px;height:3.43px;background:#45c878;border-radius:2px"></div>
<div class="ab" style="left:254.36px;top:633.40px;width:4.00px;height:6.12px;background:#45c878;border-radius:2px"></div>
<div class="ab" style="left:264.17px;top:628.28px;width:4.00px;height:11.24px;background:#45c878;border-radius:2px"></div>
<div class="ab" style="left:273.98px;top:623.43px;width:4.00px;height:16.09px;background:#45c878;border-radius:2px"></div>
<div class="ab" style="left:283.79px;top:619.93px;width:4.00px;height:19.60px;background:#45c878;border-radius:2px"></div>
<div class="ab" style="left:293.60px;top:617.50px;width:4.00px;height:22.02px;background:#45c878;border-radius:2px"></div>
<div class="ab" style="left:293.00px;top:615.90px;width:5.20px;height:5.20px;border-radius:50%;background:#45c878;opacity:1"></div>
<div class="ab" style="left:295.30px;top:621.30px;width:0.60px;height:2.50px;background:#fff;"></div>
<div class="ab" style="left:303.41px;top:619.93px;width:4.00px;height:19.60px;background:#45c878;border-radius:2px"></div>
<div class="ab" style="left:313.22px;top:622.89px;width:4.00px;height:16.63px;background:#45c878;border-radius:2px"></div>
<div class="ab" style="left:323.03px;top:621.54px;width:4.00px;height:17.98px;background:#45c878;border-radius:2px"></div>
<div class="ab" style="left:332.84px;top:621.54px;width:4.00px;height:17.98px;background:#45c878;border-radius:2px"></div>
<div class="ab" style="left:339.25px;top:629.81px;width:10.80px;height:10.80px;border-radius:50%;background:#e2f5e8;opacity:1"></div>
<div class="ab" style="left:342.25px;top:632.81px;width:4.80px;height:4.80px;border-radius:50%;background:#42c776;opacity:1"></div>
<div class="ab" style="left:352.46px;top:622.08px;width:4.00px;height:17.44px;background:#dcdcdc;border-radius:2px"></div>
<div class="ab" style="left:362.27px;top:622.08px;width:4.00px;height:17.44px;background:#dcdcdc;border-radius:2px"></div>
<div class="ab" style="left:372.08px;top:624.78px;width:4.00px;height:14.75px;background:#dcdcdc;border-radius:2px"></div>
<div class="ab" style="left:381.89px;top:630.17px;width:4.00px;height:9.36px;background:#dcdcdc;border-radius:2px"></div>
<div class="ab" style="left:391.70px;top:634.21px;width:4.00px;height:5.31px;background:#dcdcdc;border-radius:2px"></div>
<div class="ab" style="left:401.51px;top:635.56px;width:4.00px;height:3.96px;background:#dcdcdc;border-radius:2px"></div>
<div class="ab" style="left:411.32px;top:629.36px;width:4.00px;height:10.16px;background:#dcdcdc;border-radius:2px"></div>
<div class="ab" style="left:421.13px;top:628.82px;width:4.00px;height:10.70px;background:#dcdcdc;border-radius:2px"></div>
<div class="t" style="left:283.00px;top:607.00px;font-size:8.4px;color:#222;font-weight:bold;">14,815</div>
<div class="t" style="left:334.20px;top:623.00px;font-size:8.4px;color:#222;font-weight:bold;">2,921</div>
<div class="t" style="left:189.05px;top:646.00px;font-size:7.4px;color:#aaa;-webkit-text-stroke:0;">00</div>
<div class="t" style="left:198.81px;top:646.00px;font-size:7.4px;color:#aaa;-webkit-text-stroke:0;">01</div>
<div class="t" style="left:208.57px;top:646.00px;font-size:7.4px;color:#aaa;-webkit-text-stroke:0;">02</div>
<div class="t" style="left:218.33px;top:646.00px;font-size:7.4px;color:#aaa;-webkit-text-stroke:0;">03</div>
<div class="t" style="left:228.09px;top:646.00px;font-size:7.4px;color:#aaa;-webkit-text-stroke:0;">04</div>
<div class="t" style="left:237.85px;top:646.00px;font-size:7.4px;color:#aaa;-webkit-text-stroke:0;">05</div>
<div class="t" style="left:247.61px;top:646.00px;font-size:7.4px;color:#aaa;-webkit-text-stroke:0;">06</div>
<div class="t" style="left:257.37px;top:646.00px;font-size:7.4px;color:#aaa;-webkit-text-stroke:0;">07</div>
<div class="t" style="left:267.13px;top:646.00px;font-size:7.4px;color:#aaa;-webkit-text-stroke:0;">08</div>
<div class="t" style="left:276.89px;top:646.00px;font-size:7.4px;color:#aaa;-webkit-text-stroke:0;">09</div>
<div class="t" style="left:286.65px;top:646.00px;font-size:7.4px;color:#aaa;-webkit-text-stroke:0;">10</div>
<div class="t" style="left:296.41px;top:646.00px;font-size:7.4px;color:#aaa;-webkit-text-stroke:0;">11</div>
<div class="t" style="left:306.17px;top:646.00px;font-size:7.4px;color:#aaa;-webkit-text-stroke:0;">12</div>
<div class="t" style="left:315.93px;top:646.00px;font-size:7.4px;color:#aaa;-webkit-text-stroke:0;">13</div>
<div class="t" style="left:325.69px;top:646.00px;font-size:7.4px;color:#aaa;-webkit-text-stroke:0;">14</div>
<div class="t" style="left:335.45px;top:646.00px;font-size:7.4px;color:#aaa;-webkit-text-stroke:0;">15</div>
<div class="t" style="left:345.21px;top:646.00px;font-size:7.4px;color:#aaa;-webkit-text-stroke:0;">16</div>
<div class="t" style="left:354.97px;top:646.00px;font-size:7.4px;color:#aaa;-webkit-text-stroke:0;">17</div>
<div class="t" style="left:364.73px;top:646.00px;font-size:7.4px;color:#aaa;-webkit-text-stroke:0;">18</div>
<div class="t" style="left:374.49px;top:646.00px;font-size:7.4px;color:#aaa;-webkit-text-stroke:0;">19</div>
<div class="t" style="left:384.25px;top:646.00px;font-size:7.4px;color:#aaa;-webkit-text-stroke:0;">20</div>
<div class="t" style="left:394.01px;top:646.00px;font-size:7.4px;color:#aaa;-webkit-text-stroke:0;">21</div>
<div class="t" style="left:403.77px;top:646.00px;font-size:7.4px;color:#aaa;-webkit-text-stroke:0;">22</div>
<div class="t" style="left:413.53px;top:646.00px;font-size:7.4px;color:#aaa;-webkit-text-stroke:0;">23</div>
<div class="t" style="left:423.29px;top:646.00px;font-size:7.4px;color:#aaa;-webkit-text-stroke:0;">24</div>
<div class="t" style="left:455.00px;top:593.00px;width:92.20px;font-size:7.633px;color:#333;text-align:justify;text-align-last:justify;-webkit-text-stroke:0.3px currentColor;font-weight:bold;-webkit-text-stroke:0.45px currentColor;">1時間あたり訪問ユーザ数</div>
<div class="ab" style="left:663.90px;top:587.20px;width:18.10px;height:18.40px;background:#e4f6ea;border-radius:3px"></div>
<svg class="ab" style="left:668.00px;top:591.60px;" width="10" height="10" viewBox="0 0 10 10"><g stroke="#3f9f65" stroke-width="1.1" fill="none"><path d="M5.2 0.4 V3.2 M4.6 6.4 V9.4 M0.4 4.9 H2.8 M7 4.9 H9.6"/><path d="M3.6 3.6 L5.8 3.6 L5 6 L3.8 6.4" stroke-width="0.8"/></g></svg>
<svg class="ab" style="left:686.40px;top:591.10px;" width="10" height="10" viewBox="0 0 10 10"><circle cx="5" cy="5" r="4.3" fill="none" stroke="#444" stroke-width="0.9"/><rect x="4.45" y="2.3" width="1.1" height="3.6" fill="#444"/><rect x="4.45" y="6.6" width="1.1" height="1.1" fill="#444"/></svg>
<div class="ab" style="left:706.00px;top:595.50px;width:1.30px;height:1.30px;background:#555;border-radius:1px"></div>
<div class="ab" style="left:708.80px;top:595.50px;width:1.30px;height:1.30px;background:#555;border-radius:1px"></div>
<div class="ab" style="left:711.60px;top:595.50px;width:1.30px;height:1.30px;background:#555;border-radius:1px"></div>
<div class="t" style="left:415.80px;top:616.00px;font-size:7.8px;color:#999;width:58.00px;text-align:right;">1,600</div>
<div class="t" style="left:415.80px;top:630.00px;font-size:7.8px;color:#999;width:58.00px;text-align:right;">600</div>
<div class="ab" style="left:475.80px;top:619.00px;width:229.00px;height:0.70px;background:#f2f2f2;"></div>
<div class="ab" style="left:475.80px;top:639.80px;width:229.00px;height:1.00px;background:#eeeeee;"></div>
<div class="ab" style="left:476.40px;top:630.98px;width:4.00px;height:8.55px;background:#45c878;border-radius:2px"></div>
<div class="ab" style="left:486.21px;top:633.40px;width:4.00px;height:6.12px;background:#45c878;border-radius:2px"></div>
<div class="ab" style="left:496.02px;top:635.02px;width:4.00px;height:4.50px;background:#45c878;border-radius:2px"></div>
<div class="ab" style="left:505.83px;top:635.02px;width:4.00px;height:4.50px;background:#45c878;border-radius:2px"></div>
<div class="ab" style="left:515.64px;top:636.37px;width:4.00px;height:3.16px;background:#45c878;border-radius:2px"></div>
<div class="ab" style="left:525.45px;top:636.10px;width:4.00px;height:3.43px;background:#45c878;border-radius:2px"></div>
<div class="ab" style="left:535.26px;top:633.40px;width:4.00px;height:6.12px;background:#45c878;border-radius:2px"></div>
<div class="ab" style="left:545.07px;top:628.28px;width:4.00px;height:11.24px;background:#45c878;border-radius:2px"></div>
<div class="ab" style="left:554.88px;top:623.43px;width:4.00px;height:16.09px;background:#45c878;border-radius:2px"></div>
<div class="ab" style="left:564.69px;top:619.93px;width:4.00px;height:19.60px;background:#45c878;border-radius:2px"></div>
<div class="ab" style="left:574.50px;top:617.50px;width:4.00px;height:22.02px;background:#45c878;border-radius:2px"></div>
<div class="ab" style="left:573.90px;top:615.90px;width:5.20px;height:5.20px;border-radius:50%;background:#45c878;opacity:1"></div>
<div class="ab" style="left:576.20px;top:621.30px;width:0.60px;height:2.50px;background:#fff;"></div>
<div class="ab" style="left:584.31px;top:619.93px;width:4.00px;height:19.60px;background:#45c878;border-radius:2px"></div>
<div class="ab" style="left:594.12px;top:622.89px;width:4.00px;height:16.63px;background:#45c878;border-radius:2px"></div>
<div class="ab" style="left:603.93px;top:621.54px;width:4.00px;height:17.98px;background:#45c878;border-radius:2px"></div>
<div class="ab" style="left:613.74px;top:621.54px;width:4.00px;height:17.98px;background:#45c878;border-radius:2px"></div>
<div class="ab" style="left:620.15px;top:629.81px;width:10.80px;height:10.80px;border-radius:50%;background:#e2f5e8;opacity:1"></div>
<div class="ab" style="left:623.15px;top:632.81px;width:4.80px;height:4.80px;border-radius:50%;background:#42c776;opacity:1"></div>
<div class="ab" style="left:633.36px;top:622.08px;width:4.00px;height:17.44px;background:#dcdcdc;border-radius:2px"></div>
<div class="ab" style="left:643.17px;top:622.08px;width:4.00px;height:17.44px;background:#dcdcdc;border-radius:2px"></div>
<div class="ab" style="left:652.98px;top:624.78px;width:4.00px;height:14.75px;background:#dcdcdc;border-radius:2px"></div>
<div class="ab" style="left:662.79px;top:630.17px;width:4.00px;height:9.36px;background:#dcdcdc;border-radius:2px"></div>
<div class="ab" style="left:672.60px;top:634.21px;width:4.00px;height:5.31px;background:#dcdcdc;border-radius:2px"></div>
<div class="ab" style="left:682.41px;top:635.56px;width:4.00px;height:3.96px;background:#dcdcdc;border-radius:2px"></div>
<div class="ab" style="left:692.22px;top:629.36px;width:4.00px;height:10.16px;background:#dcdcdc;border-radius:2px"></div>
<div class="ab" style="left:702.03px;top:628.82px;width:4.00px;height:10.70px;background:#dcdcdc;border-radius:2px"></div>
<div class="t" style="left:566.50px;top:607.00px;font-size:8.4px;color:#222;font-weight:bold;">1,485</div>
<div class="t" style="left:619.30px;top:623.00px;font-size:8.4px;color:#222;font-weight:bold;">292</div>
<div class="t" style="left:469.85px;top:646.00px;font-size:7.4px;color:#aaa;-webkit-text-stroke:0;">00</div>
<div class="t" style="left:479.61px;top:646.00px;font-size:7.4px;color:#aaa;-webkit-text-stroke:0;">01</div>
<div class="t" style="left:489.37px;top:646.00px;font-size:7.4px;color:#aaa;-webkit-text-stroke:0;">02</div>
<div class="t" style="left:499.13px;top:646.00px;font-size:7.4px;color:#aaa;-webkit-text-stroke:0;">03</div>
<div class="t" style="left:508.89px;top:646.00px;font-size:7.4px;color:#aaa;-webkit-text-stroke:0;">04</div>
<div class="t" style="left:518.65px;top:646.00px;font-size:7.4px;color:#aaa;-webkit-text-stroke:0;">05</div>
<div class="t" style="left:528.41px;top:646.00px;font-size:7.4px;color:#aaa;-webkit-text-stroke:0;">06</div>
<div class="t" style="left:538.17px;top:646.00px;font-size:7.4px;color:#aaa;-webkit-text-stroke:0;">07</div>
<div class="t" style="left:547.93px;top:646.00px;font-size:7.4px;color:#aaa;-webkit-text-stroke:0;">08</div>
<div class="t" style="left:557.69px;top:646.00px;font-size:7.4px;color:#aaa;-webkit-text-stroke:0;">09</div>
<div class="t" style="left:567.45px;top:646.00px;font-size:7.4px;color:#aaa;-webkit-text-stroke:0;">10</div>
<div class="t" style="left:577.21px;top:646.00px;font-size:7.4px;color:#aaa;-webkit-text-stroke:0;">11</div>
<div class="t" style="left:586.97px;top:646.00px;font-size:7.4px;color:#aaa;-webkit-text-stroke:0;">12</div>
<div class="t" style="left:596.73px;top:646.00px;font-size:7.4px;color:#aaa;-webkit-text-stroke:0;">13</div>
<div class="t" style="left:606.49px;top:646.00px;font-size:7.4px;color:#aaa;-webkit-text-stroke:0;">14</div>
<div class="t" style="left:616.25px;top:646.00px;font-size:7.4px;color:#aaa;-webkit-text-stroke:0;">15</div>
<div class="t" style="left:626.01px;top:646.00px;font-size:7.4px;color:#aaa;-webkit-text-stroke:0;">16</div>
<div class="t" style="left:635.77px;top:646.00px;font-size:7.4px;color:#aaa;-webkit-text-stroke:0;">17</div>
<div class="t" style="left:645.53px;top:646.00px;font-size:7.4px;color:#aaa;-webkit-text-stroke:0;">18</div>
<div class="t" style="left:655.29px;top:646.00px;font-size:7.4px;color:#aaa;-webkit-text-stroke:0;">19</div>
<div class="t" style="left:665.05px;top:646.00px;font-size:7.4px;color:#aaa;-webkit-text-stroke:0;">20</div>
<div class="t" style="left:674.81px;top:646.00px;font-size:7.4px;color:#aaa;-webkit-text-stroke:0;">21</div>
<div class="t" style="left:684.57px;top:646.00px;font-size:7.4px;color:#aaa;-webkit-text-stroke:0;">22</div>
<div class="t" style="left:694.33px;top:646.00px;font-size:7.4px;color:#aaa;-webkit-text-stroke:0;">23</div>
<div class="t" style="left:704.09px;top:646.00px;font-size:7.4px;color:#aaa;-webkit-text-stroke:0;">24</div>
<div class="t" style="left:737.80px;top:594.00px;width:31.80px;font-size:7.8px;color:#333;text-align:justify;text-align-last:justify;-webkit-text-stroke:0.3px currentColor;font-weight:bold;-webkit-text-stroke:0.45px currentColor;">イベント</div>
<div class="ab" style="left:779.5px;top:593.6px;width:5.6px;height:5.6px;border-radius:3px;background:#3e7cf6"></div>
<div class="t" style="left:787.80px;top:594.00px;font-size:7.6px;color:#555;">5</div>
<div class="ab" style="left:800.9px;top:593.6px;width:5.6px;height:5.6px;border-radius:3px;background:#f7cd2a"></div>
<div class="t" style="left:808.90px;top:594.00px;font-size:7.6px;color:#555;">3</div>
<svg class="ab" style="left:969.00px;top:592.00px;" width="10" height="9" viewBox="0 0 10 9"><g fill="#555"><rect x="0" y="0.5" width="1.5" height="1.3"/><rect x="2.5" y="0.5" width="7.5" height="1.3"/><rect x="0" y="3.7" width="1.5" height="1.3"/><rect x="2.5" y="3.7" width="7.5" height="1.3"/><rect x="0" y="6.9" width="1.5" height="1.3"/><rect x="2.5" y="6.9" width="7.5" height="1.3"/></g></svg>
<div class="ab" style="left:989.20px;top:595.80px;width:1.30px;height:1.30px;background:#555;border-radius:1px"></div>
<div class="ab" style="left:992.00px;top:595.80px;width:1.30px;height:1.30px;background:#555;border-radius:1px"></div>
<div class="ab" style="left:994.80px;top:595.80px;width:1.30px;height:1.30px;background:#555;border-radius:1px"></div>
<div class="t" style="left:740.2px;top:612.7px;width:42.4px;height:16.6px;border-radius:8.3px;background:#4a7ff5;color:#fff;font-size:7.8px;line-height:16.6px;text-align:center">server2</div>
<div class="t" style="left:785.9px;top:612.7px;width:40.7px;height:16.6px;border-radius:8.3px;background:#4a7ff5;color:#fff;font-size:7.8px;line-height:16.6px;text-align:center">server1</div>
<div class="t" style="left:829.9px;top:612.7px;width:45.1px;height:16.6px;border-radius:8.3px;background:#f9d022;color:#333;font-size:7.8px;line-height:16.6px;text-align:center">gateway</div>
<div class="t" style="left:878px;top:612.7px;width:38.8px;height:16.6px;border-radius:8.3px;background:#4a7ff5;color:#fff;font-size:7.8px;line-height:16.6px;text-align:center">client2</div>
<div class="t" style="left:920px;top:612.7px;width:37.8px;height:16.6px;border-radius:8.3px;background:#4a7ff5;color:#fff;font-size:7.8px;line-height:16.6px;text-align:center">client1</div>
<svg class="ab" style="left:113.00px;top:531.00px;" width="14" height="17" viewBox="0 0 14 17"><path d="M7 1.5 C3.8 1.5 3 4 3 6.5 L3 10.5 L1.3 13 L12.7 13 L11 10.5 L11 6.5 C11 4 10.2 1.5 7 1.5 Z" fill="#7d7d7d"/><path d="M5.3 14 C5.5 15.5 8.5 15.5 8.7 14 Z" fill="#7d7d7d"/></svg>
<div class="t" style="left:125px;top:526.5px;width:10px;height:10px;border-radius:5px;background:#f03b4a;color:#fff;font-size:7px;font-weight:bold;text-align:center;line-height:10px">1</div>
<svg class="ab" style="left:111.00px;top:567.00px;" width="18" height="17" viewBox="0 0 18 17"><rect x="0.8" y="0.8" width="12" height="9.5" fill="#7d7d7d"/><path d="M2.5 8 L5.5 4.5 L7.5 6.3 L11 2.5" fill="none" stroke="#000" stroke-width="1.1"/><path d="M2.8 10.3 L2.8 12.5 L4.8 10.3" fill="#7d7d7d"/><path d="M14.2 5 L16.8 5 L16.8 13 L9.5 13 L7.5 15.5 L7.5 13 L5.5 13 L5.5 11.5" fill="none" stroke="#7d7d7d" stroke-width="1.2"/></svg>
<svg class="ab" style="left:112.50px;top:602.50px;" width="15" height="15" viewBox="0 0 15 15"><g transform="translate(7.5 7.5)"><path d="M-1.5 -7 L1.5 -7 L2 -4.8 L3.6 -4.1 L5.5 -5.3 L7 -3.4 L5.6 -1.7 L5.9 0.2 L7.5 1.5 L6.5 3.7 L4.4 3.6 L3.2 5.1 L3.3 7.1 L1 7.5 L0 5.8 L-1.9 5.7 L-3.2 7.1 L-5.3 6 L-4.9 3.9 L-6 2.5 L-7.5 2.2 L-7.3 -0.3 L-5.6 -1.1 L-5.4 -3 L-6.5 -4.8 L-4.6 -6.2 L-3 -5 Z" fill="#7d7d7d"/><circle r="2.6" fill="#000"/></g></svg>
<svg class="ab" style="left:111.50px;top:636.00px;" width="17" height="17" viewBox="0 0 17 17"><path d="M8.5 1 C5.6 1 4.4 3.4 4.6 6 C4.8 8.2 5.8 9.3 6.5 10 C6.2 11.2 1.5 12 1 15.8 M8.5 1 C11.4 1 12.6 3.4 12.4 6 C12.2 8.2 11.2 9.3 10.5 10 C10.8 11.2 15.5 12 16 15.8" fill="none" stroke="#7d7d7d" stroke-width="1.2"/></svg>
<div class="ab" style="left:0;top:0;width:833.8px;height:521px;background:#fff;border-radius:0 0 5px 5px"></div>
<div class="ab" style="left:0.00px;top:0.00px;width:1.00px;height:521.00px;background:#000;"></div>
<div class="ab" style="left:1.00px;top:0.00px;width:832.80px;height:1.20px;background:#e2e5ea;"></div>
<div class="t" style="left:16.60px;top:14.00px;width:93.40px;font-size:8.436px;color:#333;text-align:justify;text-align-last:justify;-webkit-text-stroke:0.3px currentColor;font-weight:bold;">トランザクションデータ</div>
<div class="t" style="left:112.80px;top:15.00px;font-size:7.2px;color:#444;">(137)</div>
<div class="t" style="left:716.00px;top:14.00px;width:44.60px;font-size:7.3px;color:#555;text-align:justify;text-align-last:justify;-webkit-text-stroke:0.3px currentColor;">新画面で確認</div>
<svg class="ab" style="left:770.00px;top:12.00px;" width="10" height="9" viewBox="0 0 10 9"><rect x="0.6" y="1.5" width="8.8" height="7" fill="none" stroke="#555" stroke-width="1.1"/><rect x="0.6" y="0.5" width="2.6" height="8" fill="#555"/><line x1="6" y1="1.5" x2="6" y2="8.5" stroke="#555" stroke-width="1"/></svg>
<div class="ab" style="left:788.30px;top:16.20px;width:1.50px;height:1.50px;background:#555;border-radius:1px"></div>
<div class="ab" style="left:791.20px;top:16.20px;width:1.50px;height:1.50px;background:#555;border-radius:1px"></div>
<div class="ab" style="left:794.10px;top:16.20px;width:1.50px;height:1.50px;background:#555;border-radius:1px"></div>
<svg class="ab" style="left:804.00px;top:11.50px;" width="11" height="11" viewBox="0 0 11 11"><circle cx="5.3" cy="5.3" r="4.5" fill="none" stroke="#555" stroke-width="1"/><text x="5.3" y="7.9" font-size="7" text-anchor="middle" fill="#555" font-family="Liberation Sans">?</text></svg>
<div class="ab" style="left:16.5px;top:33.1px;width:802.0px;height:18.1px;border:1px solid #e4e4e4;border-bottom:none;border-radius:3px 3px 0 0"></div>
<div class="ab" style="left:16.50px;top:50.70px;width:801.50px;height:1.00px;background:#e6e6e6;"></div>
<div class="ab" style="left:16.50px;top:51.70px;width:801.50px;height:14.43px;background:#ece5fd;"></div>
<div class="ab" style="left:16.50px;top:66.13px;width:801.50px;height:0.90px;background:#efefef;"></div>
<div class="ab" style="left:16.50px;top:81.06px;width:801.50px;height:0.90px;background:#efefef;"></div>
<div class="ab" style="left:16.50px;top:95.99px;width:801.50px;height:0.90px;background:#efefef;"></div>
<div class="ab" style="left:16.50px;top:110.92px;width:801.50px;height:0.90px;background:#efefef;"></div>
<div class="ab" style="left:16.50px;top:125.85px;width:801.50px;height:0.90px;background:#efefef;"></div>
<div class="ab" style="left:16.50px;top:140.78px;width:801.50px;height:0.90px;background:#efefef;"></div>
<div class="ab" style="left:16.50px;top:155.71px;width:801.50px;height:0.90px;background:#efefef;"></div>
<div class="ab" style="left:16.50px;top:170.64px;width:801.50px;height:0.90px;background:#efefef;"></div>
<div class="ab" style="left:817.50px;top:33.10px;width:1.00px;height:146.90px;background:#e4e4e4;"></div>
<div class="ab" style="left:55.74px;top:33.10px;width:0.90px;height:146.90px;background:#ececec;"></div>
<div class="ab" style="left:95.38px;top:33.10px;width:0.90px;height:146.90px;background:#ececec;"></div>
<div class="ab" style="left:135.02px;top:33.10px;width:0.90px;height:146.90px;background:#ececec;"></div>
<div class="ab" style="left:174.66px;top:33.10px;width:0.90px;height:146.90px;background:#ececec;"></div>
<div class="ab" style="left:214.30px;top:33.10px;width:0.90px;height:146.90px;background:#ececec;"></div>
<div class="ab" style="left:253.94px;top:33.10px;width:0.90px;height:146.90px;background:#ececec;"></div>
<div class="ab" style="left:293.58px;top:33.10px;width:0.90px;height:146.90px;background:#ececec;"></div>
<div class="ab" style="left:333.22px;top:33.10px;width:0.90px;height:146.90px;background:#ececec;"></div>
<div class="ab" style="left:372.86px;top:33.10px;width:0.90px;height:146.90px;background:#ececec;"></div>
<div class="ab" style="left:412.50px;top:33.10px;width:0.90px;height:146.90px;background:#ececec;"></div>
<div class="ab" style="left:452.14px;top:33.10px;width:0.90px;height:146.90px;background:#ececec;"></div>
<div class="ab" style="left:491.78px;top:33.10px;width:0.90px;height:146.90px;background:#ececec;"></div>
<div class="ab" style="left:531.42px;top:33.10px;width:0.90px;height:146.90px;background:#ececec;"></div>
<div class="ab" style="left:571.06px;top:33.10px;width:0.90px;height:146.90px;background:#ececec;"></div>
<div class="t" style="left:20.10px;top:42.00px;width:26.90px;font-size:6.575px;color:#8a8a8a;text-align:justify;text-align-last:justify;-webkit-text-stroke:0.3px currentColor;">ドメイン</div>
<div class="t" style="left:59.74px;top:42.00px;width:27.10px;font-size:6.625px;color:#8a8a8a;text-align:justify;text-align-last:justify;-webkit-text-stroke:0.3px currentColor;">インスタ</div>
<div class="t" style="left:86.74px;top:42.00px;font-size:6.7px;color:#8a8a8a;">…</div>
<div class="t" style="left:99.38px;top:42.00px;font-size:6.9px;color:#8a8a8a;">TXID</div>
<div class="t" style="left:139.02px;top:42.00px;font-size:6.9px;color:#8a8a8a;">GUID</div>
<div class="t" style="left:178.66px;top:42.00px;width:27.10px;font-size:6.625px;color:#8a8a8a;text-align:justify;text-align-last:justify;-webkit-text-stroke:0.3px currentColor;">クライア</div>
<div class="t" style="left:205.66px;top:42.00px;font-size:6.7px;color:#8a8a8a;">…</div>
<div class="t" style="left:218.30px;top:42.00px;width:27.10px;font-size:6.625px;color:#8a8a8a;text-align:justify;text-align-last:justify;-webkit-text-stroke:0.3px currentColor;">開始時間</div>
<div class="t" style="left:257.94px;top:42.00px;width:27.10px;font-size:6.625px;color:#8a8a8a;text-align:justify;text-align-last:justify;-webkit-text-stroke:0.3px currentColor;">終了時間</div>
<div class="t" style="left:297.58px;top:42.00px;width:27.10px;font-size:6.625px;color:#8a8a8a;text-align:justify;text-align-last:justify;-webkit-text-stroke:0.3px currentColor;">応答時間</div>
<div class="t" style="left:337.22px;top:42.00px;font-size:6.9px;color:#8a8a8a;">SQL</div>
<div class="t" style="left:351.02px;top:42.00px;width:13.80px;font-size:6.6px;color:#8a8a8a;text-align:justify;text-align-last:justify;-webkit-text-stroke:0.3px currentColor;">時間</div>
<div class="t" style="left:376.86px;top:42.00px;width:27.10px;font-size:6.625px;color:#8a8a8a;text-align:justify;text-align-last:justify;-webkit-text-stroke:0.3px currentColor;">外部呼び</div>
<div class="t" style="left:403.86px;top:42.00px;font-size:6.7px;color:#8a8a8a;">…</div>
<div class="t" style="left:416.50px;top:42.00px;width:27.10px;font-size:6.625px;color:#8a8a8a;text-align:justify;text-align-last:justify;-webkit-text-stroke:0.3px currentColor;">フェッチ</div>
<div class="t" style="left:443.50px;top:42.00px;font-size:6.7px;color:#8a8a8a;">…</div>
<div class="t" style="left:456.14px;top:42.00px;font-size:6.9px;color:#8a8a8a;">CPU</div>
<div class="t" style="left:470.74px;top:42.00px;width:13.80px;font-size:6.6px;color:#8a8a8a;text-align:justify;text-align-last:justify;-webkit-text-stroke:0.3px currentColor;">時間</div>
<div class="t" style="left:495.78px;top:42.00px;font-size:6.9px;color:#8a8a8a;width:35.00px;text-align:left;">HTTPス…</div>
<div class="t" style="left:535.42px;top:42.00px;width:21.60px;font-size:6.9px;color:#8a8a8a;text-align:justify;text-align-last:justify;-webkit-text-stroke:0.3px currentColor;">エラー</div>
<div class="t" style="left:575.06px;top:42.00px;width:53.60px;font-size:6.625px;color:#8a8a8a;text-align:justify;text-align-last:justify;-webkit-text-stroke:0.3px currentColor;">アプリケーション</div>
<div class="ab" style="left:0;top:0;width:833px;height:180.3px;overflow:hidden">
<div class="t" style="left:18.80px;top:56.00px;font-size:7.013px;color:#7b3fe4;">Main</div>
<div class="t" style="left:58.44px;top:56.00px;font-size:7.018px;color:#7b3fe4;">server1</div>
<div class="t" style="left:98.08px;top:56.00px;font-size:7.033px;color:#7b3fe4;">290249…</div>
<div class="t" style="left:137.72px;top:55.00px;font-size:7.263px;color:#7b3fe4;">559344…</div>
<div class="t" style="left:177.36px;top:57.00px;font-size:6.9px;color:#7b3fe4;transform:scaleX(0.9105);transform-origin:0 0;">127.0.0.1</div>
<div class="t" style="left:217.00px;top:57.00px;font-size:6.731px;color:#7b3fe4;">15:11:35 …</div>
<div class="t" style="left:256.64px;top:57.00px;font-size:6.731px;color:#7b3fe4;">15:11:45 …</div>
<div class="t" style="left:295.98px;top:56.00px;font-size:7.0px;color:#7b3fe4;width:34.14px;text-align:right;">9,861</div>
<div class="t" style="left:335.62px;top:56.00px;font-size:7.0px;color:#7b3fe4;width:34.14px;text-align:right;">4</div>
<div class="t" style="left:375.26px;top:56.00px;font-size:7.0px;color:#7b3fe4;width:34.14px;text-align:right;">0</div>
<div class="t" style="left:414.90px;top:56.00px;font-size:7.0px;color:#7b3fe4;width:34.14px;text-align:right;">0</div>
<div class="t" style="left:454.54px;top:56.00px;font-size:7.0px;color:#7b3fe4;width:34.14px;text-align:right;">3</div>
<div class="t" style="left:494.48px;top:57.00px;font-size:6.9px;color:#7b3fe4;">200</div>
<div class="t" style="left:534.12px;top:57.00px;font-size:6.9px;color:#7b3fe4;transform:scaleX(0.9065);transform-origin:0 0;">SERVICE…</div>
<div class="t" style="left:573.46px;top:56.00px;font-size:7.085px;color:#7b3fe4;">/server1/do_get_items</div>
<div class="t" style="left:18.80px;top:71.00px;font-size:7.013px;color:#333;">Main</div>
<div class="t" style="left:58.44px;top:71.00px;font-size:7.018px;color:#333;">server1</div>
<div class="t" style="left:98.08px;top:71.00px;font-size:7.01px;color:#333;">3521349…</div>
<div class="t" style="left:137.72px;top:71.00px;font-size:7.01px;color:#333;">4639715…</div>
<div class="t" style="left:177.36px;top:72.00px;font-size:6.9px;color:#333;transform:scaleX(0.9105);transform-origin:0 0;">127.0.0.1</div>
<div class="t" style="left:217.00px;top:72.00px;font-size:6.634px;color:#333;">15:10:33 …</div>
<div class="t" style="left:256.64px;top:72.00px;font-size:6.634px;color:#333;">15:10:41 …</div>
<div class="t" style="left:295.98px;top:71.00px;font-size:7.0px;color:#333;width:34.14px;text-align:right;">8,351</div>
<div class="t" style="left:335.62px;top:71.00px;font-size:7.0px;color:#333;width:34.14px;text-align:right;">4</div>
<div class="t" style="left:375.26px;top:71.00px;font-size:7.0px;color:#333;width:34.14px;text-align:right;">0</div>
<div class="t" style="left:414.90px;top:71.00px;font-size:7.0px;color:#333;width:34.14px;text-align:right;">0</div>
<div class="t" style="left:454.54px;top:71.00px;font-size:7.0px;color:#333;width:34.14px;text-align:right;">2</div>
<div class="t" style="left:494.48px;top:72.00px;font-size:6.9px;color:#333;">200</div>
<div class="t" style="left:534.12px;top:72.00px;font-size:6.9px;color:#333;transform:scaleX(0.9065);transform-origin:0 0;">SERVICE…</div>
<div class="t" style="left:573.46px;top:71.00px;font-size:7.085px;color:#333;">/server1/do_get_items</div>
<div class="t" style="left:18.80px;top:86.00px;font-size:7.013px;color:#333;">Main</div>
<div class="t" style="left:58.44px;top:86.00px;font-size:7.018px;color:#333;">server1</div>
<div class="t" style="left:98.08px;top:86.00px;font-size:7.033px;color:#333;">908620…</div>
<div class="t" style="left:137.72px;top:87.00px;font-size:6.852px;color:#333;">-839741…</div>
<div class="t" style="left:177.36px;top:87.00px;font-size:6.9px;color:#333;transform:scaleX(0.9105);transform-origin:0 0;">127.0.0.1</div>
<div class="t" style="left:217.00px;top:87.00px;font-size:6.847px;color:#333;">15:09:35…</div>
<div class="t" style="left:256.64px;top:87.00px;font-size:6.847px;color:#333;">15:09:42…</div>
<div class="t" style="left:295.98px;top:86.00px;font-size:7.0px;color:#333;width:34.14px;text-align:right;">7,143</div>
<div class="t" style="left:335.62px;top:86.00px;font-size:7.0px;color:#333;width:34.14px;text-align:right;">2</div>
<div class="t" style="left:375.26px;top:86.00px;font-size:7.0px;color:#333;width:34.14px;text-align:right;">0</div>
<div class="t" style="left:414.90px;top:86.00px;font-size:7.0px;color:#333;width:34.14px;text-align:right;">1</div>
<div class="t" style="left:454.54px;top:86.00px;font-size:7.0px;color:#333;width:34.14px;text-align:right;">2</div>
<div class="t" style="left:494.48px;top:87.00px;font-size:6.9px;color:#333;">200</div>
<div class="t" style="left:534.12px;top:87.00px;font-size:6.9px;color:#333;transform:scaleX(0.9065);transform-origin:0 0;">SERVICE…</div>
<div class="t" style="left:573.46px;top:86.00px;font-size:7.085px;color:#333;">/server1/do_get_items</div>
<div class="t" style="left:18.80px;top:101.00px;font-size:7.013px;color:#333;">Main</div>
<div class="t" style="left:58.44px;top:100.00px;font-size:7.369px;color:#333;">client2</div>
<div class="t" style="left:98.08px;top:100.00px;font-size:7.263px;color:#333;">559344…</div>
<div class="t" style="left:137.72px;top:100.00px;font-size:7.263px;color:#333;">559344…</div>
<div class="t" style="left:177.36px;top:102.00px;font-size:6.9px;color:#333;transform:scaleX(0.9105);transform-origin:0 0;">127.0.0.1</div>
<div class="t" style="left:217.00px;top:102.00px;font-size:6.731px;color:#333;">15:11:35 …</div>
<div class="t" style="left:256.64px;top:102.00px;font-size:6.731px;color:#333;">15:11:45 …</div>
<div class="t" style="left:295.98px;top:101.00px;font-size:7.0px;color:#333;width:34.14px;text-align:right;">9,864</div>
<div class="t" style="left:335.62px;top:101.00px;font-size:7.0px;color:#333;width:34.14px;text-align:right;">0</div>
<div class="t" style="left:375.26px;top:101.00px;font-size:7.0px;color:#333;width:34.14px;text-align:right;">9,863</div>
<div class="t" style="left:414.90px;top:101.00px;font-size:7.0px;color:#333;width:34.14px;text-align:right;">0</div>
<div class="t" style="left:454.54px;top:101.00px;font-size:7.0px;color:#333;width:34.14px;text-align:right;">2</div>
<div class="t" style="left:494.48px;top:102.00px;font-size:6.9px;color:#333;">200</div>
<div class="t" style="left:534.12px;top:102.00px;font-size:6.9px;color:#333;transform:scaleX(0.8054);transform-origin:0 0;">BAD_RES…</div>
<div class="t" style="left:573.46px;top:100.00px;font-size:7.219px;color:#333;">/client2/get_items_from_server</div>
<div class="t" style="left:18.80px;top:116.00px;font-size:7.013px;color:#333;">Main</div>
<div class="t" style="left:58.44px;top:115.00px;font-size:7.303px;color:#333;">gateway</div>
<div class="t" style="left:98.08px;top:117.00px;font-size:6.852px;color:#333;">-428265…</div>
<div class="t" style="left:177.36px;top:117.00px;font-size:6.9px;color:#333;transform:scaleX(0.9105);transform-origin:0 0;">127.0.0.1</div>
<div class="t" style="left:217.00px;top:117.00px;font-size:6.847px;color:#333;">15:09:34…</div>
<div class="t" style="left:256.64px;top:117.00px;font-size:6.847px;color:#333;">15:09:43…</div>
<div class="t" style="left:295.98px;top:116.00px;font-size:7.0px;color:#333;width:34.14px;text-align:right;">9,756</div>
<div class="t" style="left:335.62px;top:116.00px;font-size:7.0px;color:#333;width:34.14px;text-align:right;">0</div>
<div class="t" style="left:375.26px;top:116.00px;font-size:7.0px;color:#333;width:34.14px;text-align:right;">7,145</div>
<div class="t" style="left:414.90px;top:116.00px;font-size:7.0px;color:#333;width:34.14px;text-align:right;">0</div>
<div class="t" style="left:454.54px;top:116.00px;font-size:7.0px;color:#333;width:34.14px;text-align:right;">1</div>
<div class="t" style="left:494.48px;top:117.00px;font-size:6.9px;color:#333;">200</div>
<div class="t" style="left:534.12px;top:117.00px;font-size:6.9px;color:#333;transform:scaleX(0.8054);transform-origin:0 0;">BAD_RES…</div>
<div class="t" style="left:573.46px;top:115.00px;font-size:7.266px;color:#333;">/gateway/get_items</div>
<div class="t" style="left:18.80px;top:131.00px;font-size:7.013px;color:#333;">Main</div>
<div class="t" style="left:58.44px;top:130.00px;font-size:7.369px;color:#333;">client2</div>
<div class="t" style="left:98.08px;top:131.00px;font-size:7.01px;color:#333;">4639715…</div>
<div class="t" style="left:137.72px;top:131.00px;font-size:7.01px;color:#333;">4639715…</div>
<div class="t" style="left:177.36px;top:132.00px;font-size:6.9px;color:#333;transform:scaleX(0.9105);transform-origin:0 0;">127.0.0.1</div>
<div class="t" style="left:217.00px;top:132.00px;font-size:6.634px;color:#333;">15:10:33 …</div>
<div class="t" style="left:256.64px;top:132.00px;font-size:6.634px;color:#333;">15:10:41 …</div>
<div class="t" style="left:295.98px;top:131.00px;font-size:7.0px;color:#333;width:34.14px;text-align:right;">8,353</div>
<div class="t" style="left:335.62px;top:131.00px;font-size:7.0px;color:#333;width:34.14px;text-align:right;">0</div>
<div class="t" style="left:375.26px;top:131.00px;font-size:7.0px;color:#333;width:34.14px;text-align:right;">8,352</div>
<div class="t" style="left:414.90px;top:131.00px;font-size:7.0px;color:#333;width:34.14px;text-align:right;">0</div>
<div class="t" style="left:454.54px;top:131.00px;font-size:7.0px;color:#333;width:34.14px;text-align:right;">2</div>
<div class="t" style="left:494.48px;top:132.00px;font-size:6.9px;color:#333;">200</div>
<div class="t" style="left:534.12px;top:132.00px;font-size:6.9px;color:#333;transform:scaleX(0.8054);transform-origin:0 0;">BAD_RES…</div>
<div class="t" style="left:573.46px;top:130.00px;font-size:7.219px;color:#333;">/client2/get_items_from_server</div>
<div class="t" style="left:18.80px;top:146.00px;font-size:7.013px;color:#333;">Main</div>
<div class="t" style="left:58.44px;top:145.00px;font-size:7.303px;color:#333;">gateway</div>
<div class="t" style="left:98.08px;top:146.00px;font-size:7.033px;color:#333;">252288…</div>
<div class="t" style="left:177.36px;top:147.00px;font-size:6.9px;color:#333;transform:scaleX(0.9105);transform-origin:0 0;">127.0.0.1</div>
<div class="t" style="left:217.00px;top:147.00px;font-size:6.731px;color:#333;">15:11:03 …</div>
<div class="t" style="left:256.64px;top:147.00px;font-size:6.731px;color:#333;">15:11:10 …</div>
<div class="t" style="left:295.98px;top:146.00px;font-size:7.0px;color:#333;width:34.14px;text-align:right;">7,604</div>
<div class="t" style="left:335.62px;top:146.00px;font-size:7.0px;color:#333;width:34.14px;text-align:right;">0</div>
<div class="t" style="left:375.26px;top:146.00px;font-size:7.0px;color:#333;width:34.14px;text-align:right;">3,929</div>
<div class="t" style="left:414.90px;top:146.00px;font-size:7.0px;color:#333;width:34.14px;text-align:right;">0</div>
<div class="t" style="left:454.54px;top:146.00px;font-size:7.0px;color:#333;width:34.14px;text-align:right;">2</div>
<div class="t" style="left:494.48px;top:147.00px;font-size:6.9px;color:#333;">200</div>
<div class="t" style="left:534.12px;top:147.00px;font-size:6.9px;color:#333;transform:scaleX(0.8054);transform-origin:0 0;">BAD_RES…</div>
<div class="t" style="left:573.46px;top:145.00px;font-size:7.25px;color:#333;">/gateway/make_payment</div>
<div class="t" style="left:18.80px;top:161.00px;font-size:7.013px;color:#333;">Main</div>
<div class="t" style="left:58.44px;top:160.00px;font-size:7.303px;color:#333;">gateway</div>
<div class="t" style="left:98.08px;top:161.00px;font-size:7.033px;color:#333;">558367…</div>
<div class="t" style="left:177.36px;top:162.00px;font-size:6.9px;color:#333;transform:scaleX(0.9105);transform-origin:0 0;">127.0.0.1</div>
<div class="t" style="left:217.00px;top:162.00px;font-size:6.634px;color:#333;">15:10:27 …</div>
<div class="t" style="left:256.64px;top:162.00px;font-size:6.634px;color:#333;">15:10:34 …</div>
<div class="t" style="left:295.98px;top:161.00px;font-size:7.0px;color:#333;width:34.14px;text-align:right;">7,156</div>
<div class="t" style="left:335.62px;top:161.00px;font-size:7.0px;color:#333;width:34.14px;text-align:right;">0</div>
<div class="t" style="left:375.26px;top:161.00px;font-size:7.0px;color:#333;width:34.14px;text-align:right;">3,450</div>
<div class="t" style="left:414.90px;top:161.00px;font-size:7.0px;color:#333;width:34.14px;text-align:right;">0</div>
<div class="t" style="left:454.54px;top:161.00px;font-size:7.0px;color:#333;width:34.14px;text-align:right;">3</div>
<div class="t" style="left:494.48px;top:162.00px;font-size:6.9px;color:#333;">200</div>
<div class="t" style="left:534.12px;top:162.00px;font-size:6.9px;color:#333;transform:scaleX(0.8054);transform-origin:0 0;">BAD_RES…</div>
<div class="t" style="left:573.46px;top:160.00px;font-size:7.25px;color:#333;">/gateway/make_payment</div>
<div class="t" style="left:18.80px;top:176.00px;font-size:7.013px;color:#333;">Main</div>
<div class="t" style="left:58.44px;top:175.00px;font-size:7.369px;color:#333;">client2</div>
<div class="t" style="left:98.08px;top:177.00px;font-size:6.852px;color:#333;">-839741…</div>
<div class="t" style="left:137.72px;top:177.00px;font-size:6.852px;color:#333;">-839741…</div>
<div class="t" style="left:177.36px;top:177.00px;font-size:6.9px;color:#333;transform:scaleX(0.9105);transform-origin:0 0;">127.0.0.1</div>
<div class="t" style="left:217.00px;top:177.00px;font-size:6.847px;color:#333;">15:09:35…</div>
<div class="t" style="left:256.64px;top:177.00px;font-size:6.847px;color:#333;">15:09:42…</div>
<div class="t" style="left:295.98px;top:176.00px;font-size:7.0px;color:#333;width:34.14px;text-align:right;">7,145</div>
<div class="t" style="left:335.62px;top:176.00px;font-size:7.0px;color:#333;width:34.14px;text-align:right;">0</div>
<div class="t" style="left:375.26px;top:176.00px;font-size:7.0px;color:#333;width:34.14px;text-align:right;">7,144</div>
<div class="t" style="left:414.90px;top:176.00px;font-size:7.0px;color:#333;width:34.14px;text-align:right;">0</div>
<div class="t" style="left:454.54px;top:176.00px;font-size:7.0px;color:#333;width:34.14px;text-align:right;">1</div>
<div class="t" style="left:494.48px;top:177.00px;font-size:6.9px;color:#333;">200</div>
<div class="t" style="left:534.12px;top:177.00px;font-size:6.9px;color:#333;transform:scaleX(0.8054);transform-origin:0 0;">BAD_RES…</div>
<div class="t" style="left:573.46px;top:175.00px;font-size:7.219px;color:#333;">/client2/get_items_from_server</div>
</div>
<div class="t" style="left:22.80px;top:205.00px;width:58.80px;font-size:7.275px;color:#7b3fe4;text-align:justify;text-align-last:justify;-webkit-text-stroke:0.3px currentColor;font-weight:bold;-webkit-text-stroke:0.45px currentColor;">タイムライン分析</div>
<div class="t" style="left:94.30px;top:205.00px;width:44.00px;font-size:7.233px;color:#444;text-align:justify;text-align-last:justify;-webkit-text-stroke:0.3px currentColor;font-weight:bold;-webkit-text-stroke:0.45px currentColor;">テキスト分析</div>
<div class="t" style="left:151.50px;top:205.00px;width:29.30px;font-size:7.175px;color:#444;text-align:justify;text-align-last:justify;-webkit-text-stroke:0.3px currentColor;font-weight:bold;-webkit-text-stroke:0.45px currentColor;">区間分析</div>
<div class="t" style="left:193.30px;top:205.00px;width:29.30px;font-size:7.175px;color:#aaa;text-align:justify;text-align-last:justify;-webkit-text-stroke:0.3px currentColor;font-weight:bold;-webkit-text-stroke:0.45px currentColor;">ソケット</div>
<div class="t" style="left:248.30px;top:206.00px;width:28.60px;font-size:7.0px;color:#aaa;text-align:justify;text-align-last:justify;-webkit-text-stroke:0.3px currentColor;font-weight:bold;-webkit-text-stroke:0.45px currentColor;">ファイル</div>
<div class="t" style="left:302.40px;top:205.00px;width:36.60px;font-size:7.2px;color:#444;text-align:justify;text-align-last:justify;-webkit-text-stroke:0.3px currentColor;font-weight:bold;-webkit-text-stroke:0.45px currentColor;">メッセージ</div>
<div class="t" style="left:366.90px;top:206.00px;width:21.70px;font-size:7.033px;color:#444;text-align:justify;text-align-last:justify;-webkit-text-stroke:0.3px currentColor;font-weight:bold;-webkit-text-stroke:0.45px currentColor;">エラー</div>
<div class="t" style="left:412.60px;top:205.00px;width:59.00px;font-size:7.3px;color:#444;text-align:justify;text-align-last:justify;-webkit-text-stroke:0.3px currentColor;font-weight:bold;-webkit-text-stroke:0.45px currentColor;">スタックトレース</div>
<div class="t" style="left:499.60px;top:205.00px;font-size:7.6px;color:#aaa;font-weight:bold;">WebFlux</div>
<div class="t" style="left:544.70px;top:205.00px;font-size:7.5px;color:#aaa;font-weight:bold;">CICS</div>
<div class="ab" style="left:16.00px;top:217.20px;width:72.00px;height:1.90px;background:#7b3fe4;"></div>
<div class="ab" style="left:16.00px;top:218.70px;width:802.00px;height:1.00px;background:#efefef;"></div>
<div class="t" style="left:225.70px;top:203.10px;width:9px;height:9px;border-radius:4.5px;background:#d6d6d6;color:#fff;font-size:6.2px;font-weight:bold;text-align:center;line-height:9px">0</div>
<div class="t" style="left:280.10px;top:203.10px;width:9px;height:9px;border-radius:4.5px;background:#d6d6d6;color:#fff;font-size:6.2px;font-weight:bold;text-align:center;line-height:9px">0</div>
<div class="t" style="left:342.10px;top:203.10px;width:11px;height:9px;border-radius:4.5px;background:#7b3fe4;color:#fff;font-size:6.2px;font-weight:bold;text-align:center;line-height:9px">17</div>
<div class="t" style="left:391.20px;top:203.10px;width:9px;height:9px;border-radius:4.5px;background:#7b3fe4;color:#fff;font-size:6.2px;font-weight:bold;text-align:center;line-height:9px">1</div>
<div class="t" style="left:473.90px;top:203.10px;width:12.4px;height:9px;border-radius:4.5px;background:#7b3fe4;color:#fff;font-size:6.2px;font-weight:bold;text-align:center;line-height:9px">10</div>
<div class="t" style="left:680.90px;top:205.00px;font-size:7.3px;color:#555;">GUID</div>
<svg class="ab" style="left:710.00px;top:204.00px;" width="10" height="9" viewBox="0 0 10 9"><circle cx="1.9" cy="4.4" r="1.7" fill="#555"/><path d="M2.5 4.4 L6.3 1.3 M2.5 4.4 L8.8 4.4 M2.5 4.4 L6.3 7.7" stroke="#555" stroke-width="0.9" fill="none"/><path d="M5.2 0.6 L7 0.9 L6.6 2.6 M7.4 3.3 L9.2 4.4 L7.4 5.5 M5.2 8.3 L7 8 L6.6 6.3" stroke="#555" stroke-width="0.8" fill="none"/></svg>
<div class="ab" style="left:729.50px;top:203.90px;width:8.60px;height:8.70px;background:#b3b3b3;border-radius:0.8px"></div>
<div class="ab" style="left:733.40px;top:205.60px;width:0.90px;height:3.60px;background:#fff;"></div>
<div class="ab" style="left:733.40px;top:210.00px;width:0.90px;height:0.90px;background:#fff;"></div>
<svg class="ab" style="left:747.50px;top:202.80px;" width="11" height="11" viewBox="0 0 11 11"><rect x="0.2" y="0.2" width="7.4" height="6.2" fill="#555" rx="0.5"/><path d="M1.4 5 L3.2 3 L4.5 4.1 L6.4 1.8" stroke="#fff" stroke-width="0.7" fill="none"/><path d="M1.5 6.4 L1.5 7.6 L2.6 6.4" fill="#555"/><path d="M8.6 3 L10.2 3 L10.2 8.8 L9 8.8 L9 10 L7.8 8.8 L3.8 8.8 L3.8 7.2" fill="none" stroke="#555" stroke-width="0.9"/></svg>
<svg class="ab" style="left:766.60px;top:205.60px;" width="10" height="5.6" viewBox="0 0 10 5.6"><rect x="0.5" y="0.5" width="5.4" height="4.6" rx="2.3" fill="none" stroke="#555" stroke-width="0.9"/><rect x="4.1" y="0.5" width="5.4" height="4.6" rx="2.3" fill="none" stroke="#555" stroke-width="0.9"/><rect x="3.2" y="1.2" width="3.6" height="3.2" fill="#fff"/><line x1="3" y1="2.8" x2="7" y2="2.8" stroke="#555" stroke-width="0.9"/></svg>
<svg class="ab" style="left:785.80px;top:204.80px;" width="9.4" height="8" viewBox="0 0 9.4 8"><rect x="0.45" y="1.3" width="8.5" height="6.2" fill="none" stroke="#555" stroke-width="0.9"/><rect x="2.6" y="0.4" width="4.2" height="1.2" fill="#555"/><line x1="3.4" y1="1.5" x2="3.4" y2="7.5" stroke="#555" stroke-width="0.8"/><line x1="6" y1="1.5" x2="6" y2="7.5" stroke="#555" stroke-width="0.8"/><rect x="0.9" y="1.7" width="2.2" height="5.4" fill="#999"/></svg>
<div class="ab" style="left:806.00px;top:207.50px;width:1.50px;height:1.50px;background:#555;border-radius:1px"></div>
<div class="ab" style="left:808.70px;top:207.50px;width:1.50px;height:1.50px;background:#555;border-radius:1px"></div>
<div class="ab" style="left:811.40px;top:207.50px;width:1.50px;height:1.50px;background:#555;border-radius:1px"></div>
<div class="ab" style="left:17.00px;top:243.20px;width:801.00px;height:12.80px;background:#f6f6f6;"></div>
<div class="ab" style="left:17.00px;top:269.20px;width:801.00px;height:13.30px;background:#f6f6f6;"></div>
<div class="ab" style="left:17.00px;top:242.80px;width:801.00px;height:0.90px;background:#e6e6e6;"></div>
<div class="ab" style="left:81.10px;top:230.30px;width:0.80px;height:64.40px;background:#ebebeb;"></div>
<div class="ab" style="left:117.92px;top:230.30px;width:0.80px;height:64.40px;background:#ebebeb;"></div>
<div class="ab" style="left:154.75px;top:230.30px;width:0.80px;height:64.40px;background:#ebebeb;"></div>
<div class="ab" style="left:191.58px;top:230.30px;width:0.80px;height:64.40px;background:#ebebeb;"></div>
<div class="ab" style="left:228.40px;top:230.30px;width:0.80px;height:64.40px;background:#ebebeb;"></div>
<div class="ab" style="left:265.23px;top:230.30px;width:0.80px;height:64.40px;background:#ebebeb;"></div>
<div class="ab" style="left:302.05px;top:230.30px;width:0.80px;height:64.40px;background:#ebebeb;"></div>
<div class="ab" style="left:338.88px;top:230.30px;width:0.80px;height:64.40px;background:#ebebeb;"></div>
<div class="ab" style="left:375.70px;top:230.30px;width:0.80px;height:64.40px;background:#ebebeb;"></div>
<div class="ab" style="left:412.53px;top:230.30px;width:0.80px;height:64.40px;background:#ebebeb;"></div>
<div class="ab" style="left:449.35px;top:230.30px;width:0.80px;height:64.40px;background:#ebebeb;"></div>
<div class="ab" style="left:486.18px;top:230.30px;width:0.80px;height:64.40px;background:#ebebeb;"></div>
<div class="ab" style="left:523.00px;top:230.30px;width:0.80px;height:64.40px;background:#ebebeb;"></div>
<div class="ab" style="left:559.83px;top:230.30px;width:0.80px;height:64.40px;background:#ebebeb;"></div>
<div class="ab" style="left:596.65px;top:230.30px;width:0.80px;height:64.40px;background:#ebebeb;"></div>
<div class="ab" style="left:633.48px;top:230.30px;width:0.80px;height:64.40px;background:#ebebeb;"></div>
<div class="ab" style="left:670.30px;top:230.30px;width:0.80px;height:64.40px;background:#ebebeb;"></div>
<div class="ab" style="left:707.13px;top:230.30px;width:0.80px;height:64.40px;background:#ebebeb;"></div>
<div class="ab" style="left:743.95px;top:230.30px;width:0.80px;height:64.40px;background:#ebebeb;"></div>
<div class="ab" style="left:780.78px;top:230.30px;width:0.80px;height:64.40px;background:#ebebeb;"></div>
<div class="ab" style="left:817.60px;top:230.30px;width:0.80px;height:64.40px;background:#ebebeb;"></div>
<div class="t" style="left:75.12px;top:236.00px;font-size:6.7px;color:#444;width:40.00px;text-align:right;">494</div>
<div class="t" style="left:111.95px;top:236.00px;font-size:6.7px;color:#444;width:40.00px;text-align:right;">988</div>
<div class="t" style="left:148.78px;top:236.00px;font-size:6.7px;color:#444;width:40.00px;text-align:right;">1,482</div>
<div class="t" style="left:185.60px;top:236.00px;font-size:6.7px;color:#444;width:40.00px;text-align:right;">1,976</div>
<div class="t" style="left:222.43px;top:236.00px;font-size:6.7px;color:#444;width:40.00px;text-align:right;">2,470</div>
<div class="t" style="left:259.25px;top:236.00px;font-size:6.7px;color:#444;width:40.00px;text-align:right;">2,964</div>
<div class="t" style="left:296.08px;top:236.00px;font-size:6.7px;color:#444;width:40.00px;text-align:right;">3,458</div>
<div class="t" style="left:332.90px;top:236.00px;font-size:6.7px;color:#444;width:40.00px;text-align:right;">3,952</div>
<div class="t" style="left:369.73px;top:236.00px;font-size:6.7px;color:#444;width:40.00px;text-align:right;">4,446</div>
<div class="t" style="left:406.55px;top:236.00px;font-size:6.7px;color:#444;width:40.00px;text-align:right;">4,940</div>
<div class="t" style="left:443.38px;top:236.00px;font-size:6.7px;color:#444;width:40.00px;text-align:right;">5,434</div>
<div class="t" style="left:480.20px;top:236.00px;font-size:6.7px;color:#444;width:40.00px;text-align:right;">5,928</div>
<div class="t" style="left:517.02px;top:236.00px;font-size:6.7px;color:#444;width:40.00px;text-align:right;">6,422</div>
<div class="t" style="left:553.85px;top:236.00px;font-size:6.7px;color:#444;width:40.00px;text-align:right;">6,916</div>
<div class="t" style="left:590.67px;top:236.00px;font-size:6.7px;color:#444;width:40.00px;text-align:right;">7,410</div>
<div class="t" style="left:627.50px;top:236.00px;font-size:6.7px;color:#444;width:40.00px;text-align:right;">7,904</div>
<div class="t" style="left:664.33px;top:236.00px;font-size:6.7px;color:#444;width:40.00px;text-align:right;">8,398</div>
<div class="t" style="left:701.15px;top:236.00px;font-size:6.7px;color:#444;width:40.00px;text-align:right;">8,892</div>
<div class="t" style="left:737.98px;top:236.00px;font-size:6.7px;color:#444;width:40.00px;text-align:right;">9,386</div>
<div class="t" style="left:774.80px;top:236.00px;font-size:6.7px;color:#444;width:40.00px;text-align:right;">9,880</div>
<div class="t" style="left:19.90px;top:248.00px;width:25.80px;font-size:6.3px;color:#555;text-align:justify;text-align-last:justify;-webkit-text-stroke:0.3px currentColor;">メソッド</div>
<div class="t" style="left:19.90px;top:261.00px;font-size:6.8px;color:#555;">SQL</div>
<div class="t" style="left:19.90px;top:274.00px;width:38.70px;font-size:6.35px;color:#555;text-align:justify;text-align-last:justify;-webkit-text-stroke:0.3px currentColor;">外部呼び出し</div>
<div class="t" style="left:19.90px;top:287.00px;width:32.90px;font-size:6.46px;color:#555;text-align:justify;text-align-last:justify;-webkit-text-stroke:0.3px currentColor;">バッチ処理</div>
<div class="ab" style="left:81.50px;top:247.20px;width:735.00px;height:4.80px;background:#44d07e;"></div>
<div class="ab" style="left:81.20px;top:250.00px;width:1.50px;height:12.70px;background:#44d07e;"></div>
<div class="ab" style="left:192.90px;top:250.00px;width:1.50px;height:12.70px;background:#44d07e;"></div>
<div class="ab" style="left:16.5px;top:312.6px;width:801.8px;height:20.799999999999955px;border:1px solid #e4e4e4;border-radius:3px 3px 0 0"></div>
<div class="ab" style="left:16.50px;top:350.50px;width:801.50px;height:17.60px;background:#f7f7f7;"></div>
<div class="ab" style="left:16.50px;top:385.70px;width:801.50px;height:17.60px;background:#f7f7f7;"></div>
<div class="ab" style="left:16.50px;top:420.90px;width:801.50px;height:17.60px;background:#f7f7f7;"></div>
<div class="ab" style="left:16.50px;top:456.10px;width:801.50px;height:17.60px;background:#f7f7f7;"></div>
<div class="ab" style="left:16.50px;top:491.30px;width:801.50px;height:17.60px;background:#f7f7f7;"></div>
<div class="ab" style="left:50.70px;top:312.60px;width:0.80px;height:196.60px;background:#ebebeb;"></div>
<div class="ab" style="left:460.30px;top:312.60px;width:0.80px;height:196.60px;background:#ebebeb;"></div>
<div class="ab" style="left:531.10px;top:312.60px;width:0.80px;height:196.60px;background:#ebebeb;"></div>
<div class="ab" style="left:603.00px;top:312.60px;width:0.80px;height:196.60px;background:#ebebeb;"></div>
<div class="ab" style="left:674.60px;top:312.60px;width:0.80px;height:196.60px;background:#ebebeb;"></div>
<div class="ab" style="left:745.60px;top:312.60px;width:0.80px;height:196.60px;background:#ebebeb;"></div>
<div class="ab" style="left:817.10px;top:312.60px;width:0.80px;height:196.60px;background:#ebebeb;"></div>
<div class="t" style="left:20.50px;top:320.00px;font-size:7.2px;color:#8a8a8a;font-weight:bold;">No.</div>
<div class="t" style="left:55.50px;top:320.00px;width:51.10px;font-size:7.2px;color:#8a8a8a;text-align:justify;text-align-last:justify;-webkit-text-stroke:0.3px currentColor;">プロファイル名</div>
<div class="t" style="left:464.20px;top:320.00px;width:29.20px;font-size:7.15px;color:#8a8a8a;text-align:justify;text-align-last:justify;-webkit-text-stroke:0.3px currentColor;">応答時間</div>
<div class="t" style="left:493.00px;top:320.00px;font-size:7.2px;color:#8a8a8a;">(ms)</div>
<div class="t" style="left:536.00px;top:320.00px;width:36.60px;font-size:7.2px;color:#8a8a8a;text-align:justify;text-align-last:justify;-webkit-text-stroke:0.3px currentColor;">パッケージ</div>
<div class="t" style="left:607.40px;top:320.00px;width:22.10px;font-size:7.167px;color:#8a8a8a;text-align:justify;text-align-last:justify;-webkit-text-stroke:0.3px currentColor;">クラス</div>
<div class="t" style="left:678.80px;top:320.00px;font-size:7.2px;color:#8a8a8a;">CPU</div>
<div class="t" style="left:693.50px;top:320.00px;width:14.90px;font-size:7.15px;color:#8a8a8a;text-align:justify;text-align-last:justify;-webkit-text-stroke:0.3px currentColor;">時間</div>
<div class="t" style="left:708.50px;top:320.00px;font-size:7.2px;color:#8a8a8a;">(ms)</div>
<div class="t" style="left:750.60px;top:320.00px;font-size:7.2px;color:#8a8a8a;font-weight:bold;">API</div>
<div class="t" style="left:19.70px;top:338.00px;font-size:7.6px;color:#333;"><span class="u">0000</span></div>
<div class="t" style="left:19.70px;top:356.00px;font-size:7.6px;color:#333;"><span class="u">0001</span></div>
<div class="t" style="left:19.70px;top:374.00px;font-size:7.6px;color:#333;"><span class="u">0002</span></div>
<div class="t" style="left:19.70px;top:391.00px;font-size:7.6px;color:#333;"><span class="u">0003</span></div>
<div class="t" style="left:19.70px;top:409.00px;font-size:7.6px;color:#333;"><span class="u">0004</span></div>
<div class="t" style="left:19.70px;top:426.00px;font-size:7.6px;color:#333;"><span class="u">0007</span></div>
<div class="t" style="left:19.70px;top:444.00px;font-size:7.6px;color:#333;"><span class="u">0008</span></div>
<div class="t" style="left:19.70px;top:462.00px;font-size:7.6px;color:#333;"><span class="u">0009</span></div>
<div class="t" style="left:19.70px;top:479.00px;font-size:7.6px;color:#333;"><span class="u">0010</span></div>
<div class="t" style="left:19.70px;top:497.00px;font-size:7.6px;color:#333;"><span class="u">0011</span></div>
<svg class="ab" style="left:57.80px;top:338.60px;" width="5" height="4.5" viewBox="0 0 5 4.5"><path d="M0 0 L4.6 0 L2.3 4.2 Z" fill="#111"/></svg>
<svg class="ab" style="left:65.80px;top:336.60px;" width="11.6" height="11.4" viewBox="0 0 11.6 11.4"><path d="M0.4 3.2 L3.2 0.4 L11.2 0.4 L11.2 8.2 L8.4 11 L0.4 11 Z" fill="#86aeea"/><path d="M0.4 3.2 L3.2 0.4 L11.2 0.4 L8.4 3.2 Z" fill="#b9d1f4"/><path d="M8.4 3.2 L11.2 0.4 L11.2 8.2 L8.4 11 Z" fill="#6e98dc"/><path d="M2.2 9 L2.2 5 L4.4 7.2 L6.6 5 L6.6 9" stroke="#fff" stroke-width="1" fill="none"/></svg>
<div class="t" style="left:78.90px;top:338.00px;font-size:7.808px;color:#222;"><span class="u">service(ServletRequest,ServletResponse): void</span></div>
<div class="t" style="left:463.60px;top:338.00px;font-size:7.5px;color:#333;">9,861</div>
<div class="ab" style="left:499.70px;top:337.60px;width:28.30px;height:7.40px;background:#44d07e;"></div>
<div class="t" style="left:497.00px;top:340.00px;font-size:6.9px;color:#1d4d2c;width:31.00px;text-align:right;">100.00%</div>
<div class="t" style="left:536.00px;top:338.00px;font-size:7.89px;color:#333;"><span class="u">javax.servlet.http</span></div>
<div class="t" style="left:606.80px;top:339.00px;font-size:8.067px;color:#333;"><span class="u">HttpServlet</span></div>
<div class="t" style="left:700.00px;top:338.00px;font-size:7.5px;color:#333;width:42.30px;text-align:right;">3</div>
<svg class="ab" style="left:76.30px;top:353.80px;" width="10" height="10" viewBox="0 0 10 10"><defs><linearGradient id="gi" x1="0" y1="0" x2="0" y2="1"><stop offset="0" stop-color="#8edb6e"/><stop offset="1" stop-color="#3fae35"/></linearGradient></defs><circle cx="5" cy="5" r="4.7" fill="url(#gi)"/><rect x="4.4" y="2.2" width="1.2" height="1.1" fill="#fff"/><rect x="4.4" y="4" width="1.2" height="3.8" fill="#fff"/></svg>
<div class="t" style="left:88.90px;top:356.00px;font-size:8.209px;color:#333;">[Current Thread] http-nio-38080-exec-355 [2417966]</div>
<svg class="ab" style="left:76.30px;top:371.40px;" width="10" height="10" viewBox="0 0 10 10"><defs><linearGradient id="gi" x1="0" y1="0" x2="0" y2="1"><stop offset="0" stop-color="#8edb6e"/><stop offset="1" stop-color="#3fae35"/></linearGradient></defs><circle cx="5" cy="5" r="4.7" fill="url(#gi)"/><rect x="4.4" y="2.2" width="1.2" height="1.1" fill="#fff"/><rect x="4.4" y="4" width="1.2" height="3.8" fill="#fff"/></svg>
<div class="t" style="left:88.90px;top:374.00px;font-size:7.809px;color:#333;">HTTP-HEADER : x-j_http_tuid_=1980498583518568717; x-domainid=1000; x-agentid=75538; _j_guid_...</div>
<svg class="ab" style="left:76.30px;top:389.00px;" width="10" height="10" viewBox="0 0 10 10"><defs><linearGradient id="gi" x1="0" y1="0" x2="0" y2="1"><stop offset="0" stop-color="#8edb6e"/><stop offset="1" stop-color="#3fae35"/></linearGradient></defs><circle cx="5" cy="5" r="4.7" fill="url(#gi)"/><rect x="4.4" y="2.2" width="1.2" height="1.1" fill="#fff"/><rect x="4.4" y="4" width="1.2" height="3.8" fill="#fff"/></svg>
<div class="t" style="left:88.90px;top:391.00px;font-size:7.372px;color:#333;">HTTP-PARAMETER-NAMES :</div>
<svg class="ab" style="left:71.20px;top:409.20px;" width="4.5" height="5" viewBox="0 0 4.5 5"><path d="M0 0 L4 2.4 L0 4.8 Z" fill="#111"/></svg>
<svg class="ab" style="left:79.00px;top:406.80px;" width="11" height="10" viewBox="0 0 11 10"><ellipse cx="5.5" cy="1.8" rx="4" ry="1.6" fill="#9aa59a"/><rect x="1.5" y="1.8" width="8" height="5.5" fill="#b8c0b8"/><line x1="1.5" y1="4" x2="9.5" y2="4" stroke="#fff" stroke-width="0.6"/><line x1="1.5" y1="6" x2="9.5" y2="6" stroke="#fff" stroke-width="0.6"/><path d="M0 7.5 L2.5 5.5 L2.5 6.7 L4.5 6.7 L4.5 8.3 L2.5 8.3 L2.5 9.5 Z" fill="#4caf32"/><path d="M11 7.5 L8.5 5.5 L8.5 6.7 L6.5 6.7 L6.5 8.3 L8.5 8.3 L8.5 9.5 Z" fill="#4caf32"/></svg>
<div class="t" style="left:91.70px;top:409.00px;font-size:7.755px;color:#333;">DB_OPEN_CONNECTION (2132373004, URL=jdbc:mysql://localhost:3306/demodb, UserName=root = ...</div>
<svg class="ab" style="left:76.10px;top:424.20px;" width="10" height="10" viewBox="0 0 10 10"><path d="M0.3 5 L4 1.8 L4 8.2 Z" fill="#4fb8d8"/><rect x="3.6" y="3.8" width="2.4" height="2.4" fill="#4fb8d8"/><rect x="6.5" y="0.8" width="2.8" height="8.4" fill="#c9ced3"/><line x1="6.5" y1="3.3" x2="9.3" y2="3.3" stroke="#fff" stroke-width="0.6"/><line x1="6.5" y1="5.8" x2="9.3" y2="5.8" stroke="#fff" stroke-width="0.6"/></svg>
<div class="ab" style="left:88.8px;top:424.60px;width:33.7px;height:9.2px;background:#d3ebfb;border-radius:2px"></div>
<div class="t" style="left:91.40px;top:426.00px;font-size:7.6px;color:#24394a;">SQL</div>
<div class="t" style="left:106.10px;top:426.00px;width:15.40px;font-size:7.4px;color:#24394a;text-align:justify;text-align-last:justify;-webkit-text-stroke:0.3px currentColor;">確認</div>
<div class="t" style="left:125.00px;top:426.00px;font-size:7.776px;color:#333;">SELECT items.id,items.category_id,items.item_name,items.item_qty,items.item_price,categori...</div>
<svg class="ab" style="left:76.10px;top:441.80px;" width="10" height="10" viewBox="0 0 10 10"><path d="M0.3 5 L4 1.8 L4 8.2 Z" fill="#4fb8d8"/><rect x="3.6" y="3.8" width="2.4" height="2.4" fill="#4fb8d8"/><rect x="6.5" y="0.8" width="2.8" height="8.4" fill="#c9ced3"/><line x1="6.5" y1="3.3" x2="9.3" y2="3.3" stroke="#fff" stroke-width="0.6"/><line x1="6.5" y1="5.8" x2="9.3" y2="5.8" stroke="#fff" stroke-width="0.6"/></svg>
<div class="t" style="left:88.90px;top:444.00px;font-size:7.469px;color:#333;">FETCH [0/1]</div>
<svg class="ab" style="left:76.10px;top:459.40px;" width="10" height="10" viewBox="0 0 10 10"><path d="M0.3 5 L4 1.8 L4 8.2 Z" fill="#4fb8d8"/><rect x="3.6" y="3.8" width="2.4" height="2.4" fill="#4fb8d8"/><rect x="6.5" y="0.8" width="2.8" height="8.4" fill="#c9ced3"/><line x1="6.5" y1="3.3" x2="9.3" y2="3.3" stroke="#fff" stroke-width="0.6"/><line x1="6.5" y1="5.8" x2="9.3" y2="5.8" stroke="#fff" stroke-width="0.6"/></svg>
<div class="ab" style="left:88.8px;top:459.80px;width:33.7px;height:9.2px;background:#d3ebfb;border-radius:2px"></div>
<div class="t" style="left:91.40px;top:462.00px;font-size:7.6px;color:#24394a;">SQL</div>
<div class="t" style="left:106.10px;top:461.00px;width:15.40px;font-size:7.4px;color:#24394a;text-align:justify;text-align-last:justify;-webkit-text-stroke:0.3px currentColor;">確認</div>
<div class="t" style="left:125.00px;top:462.00px;font-size:7.75px;color:#333;transform:scaleX(0.9294);transform-origin:0 0;">SELECT USER()</div>
<svg class="ab" style="left:76.10px;top:477.00px;" width="10" height="10" viewBox="0 0 10 10"><path d="M0.3 5 L4 1.8 L4 8.2 Z" fill="#4fb8d8"/><rect x="3.6" y="3.8" width="2.4" height="2.4" fill="#4fb8d8"/><rect x="6.5" y="0.8" width="2.8" height="8.4" fill="#c9ced3"/><line x1="6.5" y1="3.3" x2="9.3" y2="3.3" stroke="#fff" stroke-width="0.6"/><line x1="6.5" y1="5.8" x2="9.3" y2="5.8" stroke="#fff" stroke-width="0.6"/></svg>
<div class="t" style="left:88.90px;top:479.00px;font-size:7.469px;color:#333;">FETCH [1/2]</div>
<svg class="ab" style="left:76.00px;top:494.80px;" width="11" height="10" viewBox="0 0 11 10"><ellipse cx="5.5" cy="1.8" rx="4" ry="1.6" fill="#9aa59a"/><rect x="1.5" y="1.8" width="8" height="5.5" fill="#b8c0b8"/><line x1="1.5" y1="4" x2="9.5" y2="4" stroke="#fff" stroke-width="0.6"/><line x1="1.5" y1="6" x2="9.5" y2="6" stroke="#fff" stroke-width="0.6"/><path d="M0 7.5 L2.5 5.5 L2.5 6.7 L4.5 6.7 L4.5 8.3 L2.5 8.3 L2.5 9.5 Z" fill="#4caf32"/><path d="M11 7.5 L8.5 5.5 L8.5 6.7 L6.5 6.7 L6.5 8.3 L8.5 8.3 L8.5 9.5 Z" fill="#4caf32"/></svg>
<div class="t" style="left:88.90px;top:497.00px;font-size:7.724px;color:#333;">DB_CLOSE_CONNECTION (2132373004, URL=jdbc:mysql://localhost:3306/demodb, UserName=root = ...</div>
<div class="t" style="left:463.60px;top:409.00px;font-size:7.5px;color:#333;">0</div>
<div class="ab" style="left:499.80px;top:408.00px;width:28.20px;height:7.40px;background:#efefef;"></div>
<div class="t" style="left:497.00px;top:411.00px;font-size:6.9px;color:#333;width:31.00px;text-align:right;">0.00%</div>
<div class="t" style="left:463.60px;top:426.00px;font-size:7.5px;color:#333;">1</div>
<div class="ab" style="left:499.80px;top:425.60px;width:28.20px;height:7.40px;background:#efefef;"></div>
<div class="t" style="left:497.00px;top:428.00px;font-size:6.9px;color:#333;width:31.00px;text-align:right;">0.01%</div>
<div class="t" style="left:700.00px;top:426.00px;font-size:7.5px;color:#333;width:42.30px;text-align:right;">0</div>
<div class="t" style="left:463.60px;top:462.00px;font-size:7.5px;color:#333;">0</div>
<div class="ab" style="left:499.80px;top:460.80px;width:28.20px;height:7.40px;background:#efefef;"></div>
<div class="t" style="left:497.00px;top:463.00px;font-size:6.9px;color:#333;width:31.00px;text-align:right;">0.00%</div>
<div class="t" style="left:700.00px;top:462.00px;font-size:7.5px;color:#333;width:42.30px;text-align:right;">0</div>
<div class="t" style="left:463.60px;top:497.00px;font-size:7.5px;color:#333;">0</div>
<div class="ab" style="left:499.80px;top:496.00px;width:28.20px;height:7.40px;background:#efefef;"></div>
<div class="t" style="left:497.00px;top:499.00px;font-size:6.9px;color:#333;width:31.00px;text-align:right;">0.00%</div>
<svg class="ab" style="left:0;top:0" width="1024" height="673" viewBox="0 0 1024 673"><path d="M820.20 281.30 L821.70 282.63 L823.77 284.43 L826.23 286.58 L828.89 288.97 L831.57 291.48 L834.10 294.00 L836.59 296.64 L839.20 299.53 L841.83 302.54 L844.39 305.55 L846.78 308.44 L848.90 311.10 L850.72 313.50 L852.30 315.74 L853.72 317.87 L855.02 319.92 L856.26 321.95 L857.50 324.00 L858.71 326.05 L859.84 328.07 L860.91 330.06 L861.95 332.03 L862.97 334.01 L864.00 336.00 L865.03 337.99 L866.06 339.96 L867.06 341.94 L868.06 343.93 L869.03 345.94 L870.00 348.00 L870.95 350.11 L871.89 352.26 L872.81 354.44 L873.72 356.63 L874.62 358.82 L875.50 361.00 L876.37 363.16 L877.22 365.30 L878.06 367.44 L878.89 369.59 L879.70 371.78 L880.50 374.00 L881.28 376.25 L882.05 378.53 L882.80 380.82 L883.54 383.16 L884.27 385.55 L885.00 388.00 L885.71 390.44 L886.40 392.84 L887.08 395.29 L887.77 397.88 L888.47 400.69 L889.20 403.80 L889.97 407.24 L890.77 410.94 L891.58 414.86 L892.40 418.95 L893.21 423.18 L894.00 427.50 L894.82 432.30 L895.69 437.70 L896.55 443.23 L897.34 448.43 L898.01 452.84 L898.50 456.00 L897.68 452.84 L896.54 448.43 L895.19 443.23 L893.75 437.70 L892.31 432.30 L891.00 427.50 L889.79 423.13 L888.58 418.80 L887.38 414.61 L886.20 410.64 L885.04 407.01 L883.90 403.80 L882.79 401.15 L881.71 398.99 L880.66 397.17 L879.61 395.51 L878.56 393.84 L877.50 392.00 L876.45 390.01 L875.43 388.01 L874.41 386.01 L873.36 384.01 L872.27 382.00 L871.10 380.00 L869.84 377.96 L868.50 375.88 L867.11 373.80 L865.70 371.76 L864.32 369.81 L863.00 368.00 L861.79 366.40 L860.68 364.99 L859.59 363.66 L858.44 362.33 L857.17 360.87 L855.70 359.20 L853.98 357.24 L852.07 355.05 L850.04 352.75 L847.94 350.44 L845.84 348.22 L843.80 346.20 L841.82 344.35 L839.83 342.59 L837.85 340.92 L835.87 339.36 L833.88 337.91 L831.90 336.60 L829.83 335.43 L827.66 334.38 L825.49 333.45 L823.42 332.63 L821.56 331.92 L820.00 331.30 L818.77 330.80 L817.79 330.43 L817.01 330.17 L816.39 329.98 L815.90 329.83 L815.50 329.70 L812.50 342.30 L792.70 295.90 L821.10 268.20 Z" fill="#9543f7"/></svg>
</body></html>
